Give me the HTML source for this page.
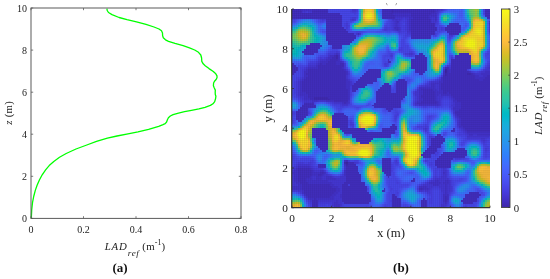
<!DOCTYPE html>
<html><head><meta charset="utf-8"><title>LAD reference profile and map</title>
<style>
html,body{margin:0;padding:0;background:#fff;}
body{width:550px;height:279px;overflow:hidden;}
svg{display:block;}
text{font-family:"Liberation Serif","Times New Roman",serif;fill:#222;}
.t1{font-size:10px;}
.t2{font-size:10.8px;}
.t3{font-size:10.8px;}
.t4{font-size:12.8px;}
.t5{font-size:11.3px;}
.cap{font-size:13px;font-weight:bold;fill:#111;}
</style></head><body>
<svg width="550" height="279" viewBox="0 0 550 279">
<rect width="550" height="279" fill="#fff"/>
<g id="left"><polyline points="106.9,8.7 107.2,10.5 108.5,12.5 112.0,14.6 119.1,17.5 127.0,19.6 136.5,21.8 146.0,24.4 154.0,27.0 159.0,29.0 161.5,30.8 162.5,33.0 162.6,35.5 163.3,37.8 165.5,39.8 168.5,41.3 175.0,43.4 183.1,45.7 189.5,47.8 194.7,50.0 198.5,52.3 200.8,55.0 201.6,58.0 201.8,61.4 203.2,63.8 205.2,65.7 209.0,68.6 213.3,71.5 215.8,73.8 217.0,75.8 217.0,77.8 216.1,79.5 214.5,81.3 213.6,83.0 213.4,85.8 214.3,88.0 215.3,90.1 215.2,92.5 215.3,94.5 215.9,96.2 215.6,98.5 214.7,101.6 213.0,103.8 210.4,105.4 205.0,107.3 198.9,108.8 191.5,110.3 184.5,111.7 178.5,113.1 173.1,114.6 170.3,116.0 168.4,117.8 167.3,120.0 166.6,122.0 165.2,123.6 163.0,124.6 158.7,126.4 148.6,129.4 138.0,131.9 128.0,133.9 117.0,136.0 107.4,138.2 96.5,141.3 86.8,145.0 76.0,149.0 66.2,153.5 59.5,157.3 53.8,161.5 49.2,165.6 45.6,169.8 42.2,174.8 39.4,180.0 37.1,185.3 35.3,190.4 33.7,196.5 32.5,202.7 31.7,210.0 31.3,218.4" fill="none" stroke="#00ff00" stroke-width="1.3" stroke-linejoin="round"/>
<rect x="31.0" y="8.0" width="210.0" height="210.4" fill="none" stroke="#5a5a5a" stroke-width="1"/>
<text x="31.0" y="232.6" text-anchor="middle" class="t1">0</text>
<text x="83.5" y="232.6" text-anchor="middle" class="t1">0.2</text>
<text x="136.0" y="232.6" text-anchor="middle" class="t1">0.4</text>
<text x="188.5" y="232.6" text-anchor="middle" class="t1">0.6</text>
<text x="241.0" y="232.6" text-anchor="middle" class="t1">0.8</text>
<text x="27.1" y="222.1" text-anchor="end" class="t1">0</text>
<text x="27.1" y="180.0" text-anchor="end" class="t1">2</text>
<text x="27.1" y="137.9" text-anchor="end" class="t1">4</text>
<text x="27.1" y="95.9" text-anchor="end" class="t1">6</text>
<text x="27.1" y="53.8" text-anchor="end" class="t1">8</text>
<text x="27.1" y="11.7" text-anchor="end" class="t1">10</text>
<path d="M31.0 218.4v-2.2M31.0 8.0v2.2M83.5 218.4v-2.2M83.5 8.0v2.2M136.0 218.4v-2.2M136.0 8.0v2.2M188.5 218.4v-2.2M188.5 8.0v2.2M241.0 218.4v-2.2M241.0 8.0v2.2M31.0 218.4h2.2M241.0 218.4h-2.2M31.0 176.3h2.2M241.0 176.3h-2.2M31.0 134.2h2.2M241.0 134.2h-2.2M31.0 92.2h2.2M241.0 92.2h-2.2M31.0 50.1h2.2M241.0 50.1h-2.2M31.0 8.0h2.2M241.0 8.0h-2.2" stroke="#5a5a5a" stroke-width="0.8" fill="none"/>
<text transform="translate(11.7,112.8) rotate(-90)" text-anchor="middle" class="t2" letter-spacing="0.3"><tspan font-style="italic">z</tspan> (m)</text>
<text x="104.7" y="250" class="t2"><tspan font-style="italic" letter-spacing="0.9">LAD</tspan><tspan font-style="italic" font-size="9.2" dy="6" letter-spacing="0.6">ref</tspan><tspan dy="-6" letter-spacing="0.2"> (m</tspan><tspan font-size="8" dy="-4.8">-1</tspan><tspan dy="4.8">)</tspan></text>
<text x="120" y="272" text-anchor="middle" class="cap">(a)</text></g>
<g id="right"><clipPath id="hc"><rect x="292.0" y="9.0" width="198.0" height="198.7"/></clipPath>
<g clip-path="url(#hc)" shape-rendering="crispEdges"><path fill="#3e26a8" d="M444.85 68.55h2.29v2.29h-2.29zM444.85 70.53h2.29v2.29h-2.29zM345.60 161.84h2.29v2.29h-2.29z"/><path fill="#402ab4" d="M391.25 9.00h2.29v2.29h-2.29zM391.25 10.98h2.29v2.29h-2.29zM335.67 54.66h2.29v2.29h-2.29zM335.67 56.64h2.29v2.29h-2.29zM444.85 72.52h2.29v2.29h-2.29zM466.68 72.52h4.27v2.29h-4.27zM444.85 74.51h2.29v2.29h-2.29zM313.83 96.34h14.20v2.29h-14.20zM313.83 98.33h16.18v2.29h-16.18zM343.61 161.84h2.29v2.29h-2.29zM345.60 163.83h2.29v2.29h-2.29z"/><path fill="#422ec0" d="M292.00 9.00h10.23v2.29h-10.23zM311.85 9.00h16.18v2.29h-16.18zM381.32 9.00h10.23v2.29h-10.23zM393.24 9.00h41.98v2.29h-41.98zM484.55 9.00h6.25v2.29h-6.25zM292.00 10.98h10.23v2.29h-10.23zM311.85 10.98h16.18v2.29h-16.18zM381.32 10.98h10.23v2.29h-10.23zM393.24 10.98h41.98v2.29h-41.98zM484.55 10.98h6.25v2.29h-6.25zM292.00 12.97h47.94v2.29h-47.94zM381.32 12.97h12.21v2.29h-12.21zM411.10 12.97h20.15v2.29h-20.15zM484.55 12.97h6.25v2.29h-6.25zM292.00 14.96h49.92v2.29h-49.92zM381.32 14.96h14.20v2.29h-14.20zM411.10 14.96h18.17v2.29h-18.17zM484.55 14.96h6.25v2.29h-6.25zM292.00 16.94h49.92v2.29h-49.92zM381.32 16.94h14.20v2.29h-14.20zM413.09 16.94h16.18v2.29h-16.18zM486.53 16.94h4.27v2.29h-4.27zM325.75 18.93h16.18v2.29h-16.18zM411.10 18.93h20.15v2.29h-20.15zM325.75 20.91h16.18v2.29h-16.18zM411.10 20.91h20.15v2.29h-20.15zM325.75 22.90h16.18v2.29h-16.18zM411.10 22.90h24.12v2.29h-24.12zM448.81 22.90h10.23v2.29h-10.23zM325.75 24.88h16.18v2.29h-16.18zM411.10 24.88h24.12v2.29h-24.12zM446.83 24.88h14.20v2.29h-14.20zM325.75 26.87h18.17v2.29h-18.17zM411.10 26.87h26.11v2.29h-26.11zM444.85 26.87h16.18v2.29h-16.18zM325.75 28.85h20.15v2.29h-20.15zM411.10 28.85h26.11v2.29h-26.11zM444.85 28.85h16.18v2.29h-16.18zM325.75 30.84h22.14v2.29h-22.14zM411.10 30.84h24.12v2.29h-24.12zM446.83 30.84h14.20v2.29h-14.20zM325.75 32.82h28.09v2.29h-28.09zM357.50 32.82h2.29v2.29h-2.29zM411.10 32.82h24.12v2.29h-24.12zM448.81 32.82h10.23v2.29h-10.23zM325.75 34.80h30.08v2.29h-30.08zM411.10 34.80h20.15v2.29h-20.15zM325.75 36.79h30.08v2.29h-30.08zM411.10 36.79h20.15v2.29h-20.15zM325.75 38.78h28.09v2.29h-28.09zM327.73 40.76h24.12v2.29h-24.12zM309.87 42.75h10.23v2.29h-10.23zM327.73 42.75h22.14v2.29h-22.14zM305.89 44.73h16.18v2.29h-16.18zM331.70 44.73h10.23v2.29h-10.23zM305.89 46.72h14.20v2.29h-14.20zM331.70 46.72h10.23v2.29h-10.23zM303.91 48.70h14.20v2.29h-14.20zM301.93 50.69h16.18v2.29h-16.18zM303.91 52.67h10.23v2.29h-10.23zM419.04 52.67h4.27v2.29h-4.27zM458.74 52.67h10.23v2.29h-10.23zM333.69 54.66h2.29v2.29h-2.29zM415.07 54.66h10.23v2.29h-10.23zM454.77 54.66h16.18v2.29h-16.18zM331.70 56.64h4.27v2.29h-4.27zM415.07 56.64h12.21v2.29h-12.21zM454.77 56.64h16.18v2.29h-16.18zM329.72 58.62h8.24v2.29h-8.24zM387.28 58.62h2.29v2.29h-2.29zM411.10 58.62h16.18v2.29h-16.18zM450.80 58.62h20.15v2.29h-20.15zM327.73 60.61h8.24v2.29h-8.24zM387.28 60.61h4.27v2.29h-4.27zM411.10 60.61h16.18v2.29h-16.18zM450.80 60.61h20.15v2.29h-20.15zM292.00 62.60h2.29v2.29h-2.29zM319.79 62.60h2.29v2.29h-2.29zM325.75 62.60h10.23v2.29h-10.23zM339.64 62.60h4.27v2.29h-4.27zM411.10 62.60h16.18v2.29h-16.18zM450.80 62.60h20.15v2.29h-20.15zM292.00 64.58h4.27v2.29h-4.27zM317.81 64.58h26.11v2.29h-26.11zM411.10 64.58h16.18v2.29h-16.18zM450.80 64.58h20.15v2.29h-20.15zM292.00 66.56h6.25v2.29h-6.25zM317.81 66.56h24.12v2.29h-24.12zM411.10 66.56h16.18v2.29h-16.18zM444.85 66.56h4.27v2.29h-4.27zM450.80 66.56h20.15v2.29h-20.15zM292.00 68.55h6.25v2.29h-6.25zM307.88 68.55h36.03v2.29h-36.03zM367.43 68.55h14.20v2.29h-14.20zM415.07 68.55h12.21v2.29h-12.21zM446.83 68.55h2.29v2.29h-2.29zM450.80 68.55h16.18v2.29h-16.18zM292.00 70.53h4.27v2.29h-4.27zM307.88 70.53h38.02v2.29h-38.02zM365.44 70.53h16.18v2.29h-16.18zM415.07 70.53h10.23v2.29h-10.23zM446.83 70.53h2.29v2.29h-2.29zM450.80 70.53h18.17v2.29h-18.17zM292.00 72.52h2.29v2.29h-2.29zM305.89 72.52h40.00v2.29h-40.00zM363.46 72.52h18.17v2.29h-18.17zM419.04 72.52h4.27v2.29h-4.27zM446.83 72.52h20.15v2.29h-20.15zM470.65 72.52h2.29v2.29h-2.29zM307.88 74.51h38.02v2.29h-38.02zM361.48 74.51h20.15v2.29h-20.15zM442.86 74.51h2.29v2.29h-2.29zM446.83 74.51h28.09v2.29h-28.09zM486.53 74.51h4.27v2.29h-4.27zM305.89 76.49h40.00v2.29h-40.00zM359.49 76.49h22.14v2.29h-22.14zM442.86 76.49h32.06v2.29h-32.06zM484.55 76.49h6.25v2.29h-6.25zM303.91 78.48h41.98v2.29h-41.98zM357.50 78.48h20.15v2.29h-20.15zM397.20 78.48h8.24v2.29h-8.24zM442.86 78.48h36.03v2.29h-36.03zM482.56 78.48h8.24v2.29h-8.24zM301.93 80.46h43.97v2.29h-43.97zM355.52 80.46h22.14v2.29h-22.14zM395.22 80.46h12.21v2.29h-12.21zM442.86 80.46h47.94v2.29h-47.94zM301.93 82.45h43.97v2.29h-43.97zM353.54 82.45h20.15v2.29h-20.15zM383.31 82.45h6.25v2.29h-6.25zM395.22 82.45h12.21v2.29h-12.21zM440.88 82.45h49.92v2.29h-49.92zM301.93 84.43h43.97v2.29h-43.97zM351.55 84.43h16.18v2.29h-16.18zM381.32 84.43h10.23v2.29h-10.23zM395.22 84.43h12.21v2.29h-12.21zM440.88 84.43h49.92v2.29h-49.92zM301.93 86.42h43.97v2.29h-43.97zM351.55 86.42h14.20v2.29h-14.20zM379.34 86.42h12.21v2.29h-12.21zM395.22 86.42h12.21v2.29h-12.21zM440.88 86.42h49.92v2.29h-49.92zM301.93 88.40h45.95v2.29h-45.95zM351.55 88.40h6.25v2.29h-6.25zM377.36 88.40h14.20v2.29h-14.20zM395.22 88.40h12.21v2.29h-12.21zM421.02 88.40h12.21v2.29h-12.21zM440.88 88.40h49.92v2.29h-49.92zM301.93 90.39h45.95v2.29h-45.95zM351.55 90.39h4.27v2.29h-4.27zM375.37 90.39h16.18v2.29h-16.18zM395.22 90.39h12.21v2.29h-12.21zM423.01 90.39h12.21v2.29h-12.21zM442.86 90.39h47.94v2.29h-47.94zM305.89 92.37h41.98v2.29h-41.98zM375.37 92.37h32.06v2.29h-32.06zM423.01 92.37h12.21v2.29h-12.21zM442.86 92.37h4.27v2.29h-4.27zM448.81 92.37h41.98v2.29h-41.98zM307.88 94.36h40.00v2.29h-40.00zM375.37 94.36h32.06v2.29h-32.06zM421.02 94.36h14.20v2.29h-14.20zM450.80 94.36h40.00v2.29h-40.00zM307.88 96.34h6.25v2.29h-6.25zM327.73 96.34h20.15v2.29h-20.15zM375.37 96.34h30.08v2.29h-30.08zM421.02 96.34h14.20v2.29h-14.20zM452.78 96.34h38.02v2.29h-38.02zM309.87 98.33h4.27v2.29h-4.27zM329.72 98.33h18.17v2.29h-18.17zM375.37 98.33h28.09v2.29h-28.09zM423.01 98.33h12.21v2.29h-12.21zM454.77 98.33h36.03v2.29h-36.03zM333.69 100.31h14.20v2.29h-14.20zM375.37 100.31h26.11v2.29h-26.11zM421.02 100.31h16.18v2.29h-16.18zM456.75 100.31h34.05v2.29h-34.05zM303.91 102.30h10.23v2.29h-10.23zM343.61 102.30h2.29v2.29h-2.29zM373.38 102.30h28.09v2.29h-28.09zM417.06 102.30h20.15v2.29h-20.15zM460.73 102.30h30.08v2.29h-30.08zM301.93 104.28h14.20v2.29h-14.20zM371.40 104.28h30.08v2.29h-30.08zM460.73 104.28h30.08v2.29h-30.08zM299.94 106.27h16.18v2.29h-16.18zM373.38 106.27h28.09v2.29h-28.09zM460.73 106.27h30.08v2.29h-30.08zM297.95 108.25h10.23v2.29h-10.23zM385.30 108.25h8.24v2.29h-8.24zM458.74 108.25h32.06v2.29h-32.06zM295.97 110.23h12.21v2.29h-12.21zM387.28 110.23h4.27v2.29h-4.27zM454.77 110.23h36.03v2.29h-36.03zM295.97 112.22h12.21v2.29h-12.21zM333.69 112.22h10.23v2.29h-10.23zM454.77 112.22h36.03v2.29h-36.03zM295.97 114.20h12.21v2.29h-12.21zM331.70 114.20h14.20v2.29h-14.20zM456.75 114.20h34.05v2.29h-34.05zM295.97 116.19h10.23v2.29h-10.23zM331.70 116.19h16.18v2.29h-16.18zM458.74 116.19h32.06v2.29h-32.06zM295.97 118.18h8.24v2.29h-8.24zM331.70 118.18h16.18v2.29h-16.18zM460.73 118.18h30.08v2.29h-30.08zM297.95 120.16h4.27v2.29h-4.27zM331.70 120.16h16.18v2.29h-16.18zM460.73 120.16h30.08v2.29h-30.08zM331.70 122.15h16.18v2.29h-16.18zM460.73 122.15h30.08v2.29h-30.08zM331.70 124.13h16.18v2.29h-16.18zM391.25 124.13h4.27v2.29h-4.27zM460.73 124.13h30.08v2.29h-30.08zM331.70 126.12h16.18v2.29h-16.18zM389.26 126.12h8.24v2.29h-8.24zM462.71 126.12h28.09v2.29h-28.09zM311.85 128.10h14.20v2.29h-14.20zM339.64 128.10h26.11v2.29h-26.11zM381.32 128.10h16.18v2.29h-16.18zM452.78 128.10h2.29v2.29h-2.29zM464.70 128.10h26.11v2.29h-26.11zM311.85 130.09h16.18v2.29h-16.18zM341.62 130.09h26.11v2.29h-26.11zM381.32 130.09h14.20v2.29h-14.20zM450.80 130.09h4.27v2.29h-4.27zM466.68 130.09h24.12v2.29h-24.12zM311.85 132.07h16.18v2.29h-16.18zM343.61 132.07h51.91v2.29h-51.91zM311.85 134.06h16.18v2.29h-16.18zM351.55 134.06h40.00v2.29h-40.00zM436.90 134.06h4.27v2.29h-4.27zM311.85 136.04h16.18v2.29h-16.18zM351.55 136.04h40.00v2.29h-40.00zM434.92 136.04h8.24v2.29h-8.24zM315.82 138.03h12.21v2.29h-12.21zM355.52 138.03h18.17v2.29h-18.17zM430.95 138.03h14.20v2.29h-14.20zM315.82 140.01h12.21v2.29h-12.21zM355.52 140.01h16.18v2.29h-16.18zM430.95 140.01h14.20v2.29h-14.20zM315.82 142.00h12.21v2.29h-12.21zM359.49 142.00h10.23v2.29h-10.23zM430.95 142.00h12.21v2.29h-12.21zM315.82 143.98h12.21v2.29h-12.21zM430.95 143.98h10.23v2.29h-10.23zM317.81 145.97h10.23v2.29h-10.23zM428.97 145.97h12.21v2.29h-12.21zM319.79 147.95h8.24v2.29h-8.24zM426.98 147.95h10.23v2.29h-10.23zM456.75 147.95h8.24v2.29h-8.24zM321.77 149.94h4.27v2.29h-4.27zM425.00 149.94h12.21v2.29h-12.21zM454.77 149.94h12.21v2.29h-12.21zM423.01 151.92h12.21v2.29h-12.21zM442.86 151.92h24.12v2.29h-24.12zM421.02 153.91h10.23v2.29h-10.23zM440.88 153.91h26.11v2.29h-26.11zM423.01 155.89h8.24v2.29h-8.24zM438.89 155.89h26.11v2.29h-26.11zM381.32 157.88h10.23v2.29h-10.23zM436.90 157.88h16.18v2.29h-16.18zM345.60 159.86h2.29v2.29h-2.29zM381.32 159.86h10.23v2.29h-10.23zM434.92 159.86h16.18v2.29h-16.18zM347.58 161.84h6.25v2.29h-6.25zM381.32 161.84h10.23v2.29h-10.23zM434.92 161.84h16.18v2.29h-16.18zM317.81 163.83h8.24v2.29h-8.24zM347.58 163.83h8.24v2.29h-8.24zM381.32 163.83h10.23v2.29h-10.23zM434.92 163.83h16.18v2.29h-16.18zM317.81 165.81h8.24v2.29h-8.24zM345.60 165.81h12.21v2.29h-12.21zM381.32 165.81h10.23v2.29h-10.23zM436.90 165.81h14.20v2.29h-14.20zM297.95 167.80h12.21v2.29h-12.21zM345.60 167.80h12.21v2.29h-12.21zM381.32 167.80h10.23v2.29h-10.23zM297.95 169.78h14.20v2.29h-14.20zM345.60 169.78h12.21v2.29h-12.21zM381.32 169.78h10.23v2.29h-10.23zM297.95 171.77h14.20v2.29h-14.20zM319.79 171.77h4.27v2.29h-4.27zM345.60 171.77h14.20v2.29h-14.20zM383.31 171.77h8.24v2.29h-8.24zM297.95 173.75h14.20v2.29h-14.20zM317.81 173.75h4.27v2.29h-4.27zM345.60 173.75h16.18v2.29h-16.18zM385.30 173.75h6.25v2.29h-6.25zM297.95 175.74h12.21v2.29h-12.21zM345.60 175.74h16.18v2.29h-16.18zM387.28 175.74h2.29v2.29h-2.29zM297.95 177.72h8.24v2.29h-8.24zM345.60 177.72h16.18v2.29h-16.18zM413.09 177.72h2.29v2.29h-2.29zM297.95 179.71h8.24v2.29h-8.24zM345.60 179.71h16.18v2.29h-16.18zM411.10 179.71h4.27v2.29h-4.27zM299.94 181.70h8.24v2.29h-8.24zM343.61 181.70h22.14v2.29h-22.14zM301.93 183.68h28.09v2.29h-28.09zM341.62 183.68h6.25v2.29h-6.25zM349.56 183.68h16.18v2.29h-16.18zM301.93 185.67h30.08v2.29h-30.08zM341.62 185.67h26.11v2.29h-26.11zM301.93 187.65h34.05v2.29h-34.05zM341.62 187.65h26.11v2.29h-26.11zM383.31 187.65h2.29v2.29h-2.29zM419.04 187.65h4.27v2.29h-4.27zM303.91 189.64h32.06v2.29h-32.06zM341.62 189.64h26.11v2.29h-26.11zM381.32 189.64h4.27v2.29h-4.27zM303.91 191.62h30.08v2.29h-30.08zM341.62 191.62h28.09v2.29h-28.09zM468.67 191.62h10.23v2.29h-10.23zM305.89 193.61h26.11v2.29h-26.11zM341.62 193.61h30.08v2.29h-30.08zM391.25 193.61h4.27v2.29h-4.27zM464.70 193.61h16.18v2.29h-16.18zM307.88 195.59h22.14v2.29h-22.14zM341.62 195.59h30.08v2.29h-30.08zM391.25 195.59h6.25v2.29h-6.25zM444.85 195.59h2.29v2.29h-2.29zM464.70 195.59h14.20v2.29h-14.20zM313.83 197.58h2.29v2.29h-2.29zM341.62 197.58h30.08v2.29h-30.08zM391.25 197.58h10.23v2.29h-10.23zM423.01 197.58h2.29v2.29h-2.29zM444.85 197.58h2.29v2.29h-2.29zM462.71 197.58h14.20v2.29h-14.20zM311.85 199.56h6.25v2.29h-6.25zM341.62 199.56h30.08v2.29h-30.08zM391.25 199.56h10.23v2.29h-10.23zM421.02 199.56h6.25v2.29h-6.25zM444.85 199.56h2.29v2.29h-2.29zM460.73 199.56h16.18v2.29h-16.18zM311.85 201.55h6.25v2.29h-6.25zM343.61 201.55h26.11v2.29h-26.11zM391.25 201.55h10.23v2.29h-10.23zM421.02 201.55h6.25v2.29h-6.25zM462.71 201.55h10.23v2.29h-10.23zM311.85 203.53h6.25v2.29h-6.25zM391.25 203.53h10.23v2.29h-10.23zM421.02 203.53h6.25v2.29h-6.25zM311.85 205.52h6.25v2.29h-6.25zM391.25 205.52h10.23v2.29h-10.23zM421.02 205.52h6.25v2.29h-6.25z"/><path fill="#4332cb" d="M301.93 9.00h10.23v2.29h-10.23zM434.92 9.00h4.27v2.29h-4.27zM434.92 10.98h2.29v2.29h-2.29zM393.24 12.97h18.17v2.29h-18.17zM430.95 12.97h6.25v2.29h-6.25zM395.22 14.96h16.18v2.29h-16.18zM428.97 14.96h8.24v2.29h-8.24zM409.12 16.94h4.27v2.29h-4.27zM428.97 16.94h2.29v2.29h-2.29zM434.92 16.94h2.29v2.29h-2.29zM395.22 18.93h2.29v2.29h-2.29zM409.12 18.93h2.29v2.29h-2.29zM434.92 18.93h2.29v2.29h-2.29zM395.22 20.91h4.27v2.29h-4.27zM409.12 20.91h2.29v2.29h-2.29zM395.22 22.90h2.29v2.29h-2.29zM409.12 22.90h2.29v2.29h-2.29zM488.51 22.90h2.29v2.29h-2.29zM395.22 24.88h2.29v2.29h-2.29zM409.12 24.88h2.29v2.29h-2.29zM393.24 26.87h6.25v2.29h-6.25zM409.12 26.87h2.29v2.29h-2.29zM395.22 28.85h4.27v2.29h-4.27zM409.12 28.85h2.29v2.29h-2.29zM335.67 52.67h2.29v2.29h-2.29zM329.72 54.66h4.27v2.29h-4.27zM337.65 54.66h2.29v2.29h-2.29zM327.73 56.64h4.27v2.29h-4.27zM337.65 56.64h2.29v2.29h-2.29zM325.75 58.62h4.27v2.29h-4.27zM337.65 58.62h2.29v2.29h-2.29zM319.79 60.61h8.24v2.29h-8.24zM335.67 60.61h6.25v2.29h-6.25zM317.81 62.60h2.29v2.29h-2.29zM321.77 62.60h4.27v2.29h-4.27zM335.67 62.60h4.27v2.29h-4.27zM315.82 64.58h2.29v2.29h-2.29zM307.88 66.56h10.23v2.29h-10.23zM341.62 66.56h2.29v2.29h-2.29zM488.51 66.56h2.29v2.29h-2.29zM305.89 68.55h2.29v2.29h-2.29zM343.61 68.55h2.29v2.29h-2.29zM448.81 68.55h2.29v2.29h-2.29zM303.91 70.53h4.27v2.29h-4.27zM345.60 70.53h2.29v2.29h-2.29zM442.86 70.53h2.29v2.29h-2.29zM448.81 70.53h2.29v2.29h-2.29zM468.67 70.53h2.29v2.29h-2.29zM484.55 70.53h6.25v2.29h-6.25zM303.91 72.52h2.29v2.29h-2.29zM345.60 72.52h2.29v2.29h-2.29zM442.86 72.52h2.29v2.29h-2.29zM472.63 72.52h2.29v2.29h-2.29zM480.58 72.52h10.23v2.29h-10.23zM303.91 74.51h4.27v2.29h-4.27zM474.62 74.51h4.27v2.29h-4.27zM482.56 74.51h4.27v2.29h-4.27zM303.91 76.49h2.29v2.29h-2.29zM440.88 76.49h2.29v2.29h-2.29zM474.62 76.49h10.23v2.29h-10.23zM301.93 78.48h2.29v2.29h-2.29zM345.60 78.48h2.29v2.29h-2.29zM440.88 78.48h2.29v2.29h-2.29zM478.59 78.48h4.27v2.29h-4.27zM299.94 80.46h2.29v2.29h-2.29zM345.60 80.46h4.27v2.29h-4.27zM438.89 80.46h4.27v2.29h-4.27zM299.94 82.45h2.29v2.29h-2.29zM345.60 82.45h4.27v2.29h-4.27zM430.95 82.45h10.23v2.29h-10.23zM299.94 84.43h2.29v2.29h-2.29zM345.60 84.43h4.27v2.29h-4.27zM430.95 84.43h4.27v2.29h-4.27zM438.89 84.43h2.29v2.29h-2.29zM299.94 86.42h2.29v2.29h-2.29zM345.60 86.42h4.27v2.29h-4.27zM419.04 86.42h16.18v2.29h-16.18zM438.89 86.42h2.29v2.29h-2.29zM299.94 88.40h2.29v2.29h-2.29zM347.58 88.40h2.29v2.29h-2.29zM419.04 88.40h2.29v2.29h-2.29zM432.94 88.40h4.27v2.29h-4.27zM438.89 88.40h2.29v2.29h-2.29zM299.94 90.39h2.29v2.29h-2.29zM347.58 90.39h2.29v2.29h-2.29zM419.04 90.39h4.27v2.29h-4.27zM434.92 90.39h8.24v2.29h-8.24zM299.94 92.37h6.25v2.29h-6.25zM347.58 92.37h2.29v2.29h-2.29zM419.04 92.37h4.27v2.29h-4.27zM434.92 92.37h8.24v2.29h-8.24zM446.83 92.37h2.29v2.29h-2.29zM299.94 94.36h8.24v2.29h-8.24zM347.58 94.36h2.29v2.29h-2.29zM419.04 94.36h2.29v2.29h-2.29zM434.92 94.36h4.27v2.29h-4.27zM440.88 94.36h10.23v2.29h-10.23zM303.91 96.34h4.27v2.29h-4.27zM347.58 96.34h2.29v2.29h-2.29zM419.04 96.34h2.29v2.29h-2.29zM434.92 96.34h2.29v2.29h-2.29zM450.80 96.34h2.29v2.29h-2.29zM303.91 98.33h6.25v2.29h-6.25zM347.58 98.33h2.29v2.29h-2.29zM419.04 98.33h4.27v2.29h-4.27zM434.92 98.33h2.29v2.29h-2.29zM452.78 98.33h2.29v2.29h-2.29zM311.85 100.31h6.25v2.29h-6.25zM325.75 100.31h8.24v2.29h-8.24zM417.06 100.31h4.27v2.29h-4.27zM436.90 100.31h2.29v2.29h-2.29zM452.78 100.31h4.27v2.29h-4.27zM341.62 102.30h2.29v2.29h-2.29zM345.60 102.30h2.29v2.29h-2.29zM415.07 102.30h2.29v2.29h-2.29zM436.90 102.30h2.29v2.29h-2.29zM454.77 102.30h6.25v2.29h-6.25zM419.04 104.28h20.15v2.29h-20.15zM454.77 104.28h6.25v2.29h-6.25zM452.78 106.27h8.24v2.29h-8.24zM452.78 108.25h6.25v2.29h-6.25zM454.77 114.20h2.29v2.29h-2.29zM456.75 116.19h2.29v2.29h-2.29zM458.74 118.18h2.29v2.29h-2.29zM458.74 120.16h2.29v2.29h-2.29zM458.74 122.15h2.29v2.29h-2.29zM458.74 124.13h2.29v2.29h-2.29zM458.74 126.12h4.27v2.29h-4.27zM462.71 128.10h2.29v2.29h-2.29zM464.70 130.09h2.29v2.29h-2.29zM466.68 132.07h24.12v2.29h-24.12zM468.67 134.06h4.27v2.29h-4.27zM476.61 134.06h14.20v2.29h-14.20zM343.61 159.86h2.29v2.29h-2.29zM343.61 163.83h2.29v2.29h-2.29zM297.95 165.81h12.21v2.29h-12.21zM295.97 167.80h2.29v2.29h-2.29zM309.87 167.80h2.29v2.29h-2.29zM293.99 169.78h4.27v2.29h-4.27zM311.85 169.78h2.29v2.29h-2.29zM319.79 169.78h4.27v2.29h-4.27zM343.61 169.78h2.29v2.29h-2.29zM292.00 171.77h6.25v2.29h-6.25zM311.85 171.77h8.24v2.29h-8.24zM323.76 171.77h2.29v2.29h-2.29zM343.61 171.77h2.29v2.29h-2.29zM442.86 171.77h2.29v2.29h-2.29zM293.99 173.75h4.27v2.29h-4.27zM311.85 173.75h6.25v2.29h-6.25zM321.77 173.75h2.29v2.29h-2.29zM343.61 173.75h2.29v2.29h-2.29zM293.99 175.74h4.27v2.29h-4.27zM309.87 175.74h2.29v2.29h-2.29zM315.82 175.74h6.25v2.29h-6.25zM325.75 175.74h6.25v2.29h-6.25zM293.99 177.72h4.27v2.29h-4.27zM305.89 177.72h6.25v2.29h-6.25zM315.82 177.72h6.25v2.29h-6.25zM325.75 177.72h10.23v2.29h-10.23zM293.99 179.71h4.27v2.29h-4.27zM305.89 179.71h22.14v2.29h-22.14zM434.92 179.71h4.27v2.29h-4.27zM444.85 179.71h4.27v2.29h-4.27zM295.97 181.70h4.27v2.29h-4.27zM307.88 181.70h24.12v2.29h-24.12zM428.97 181.70h12.21v2.29h-12.21zM442.86 181.70h6.25v2.29h-6.25zM297.95 183.68h4.27v2.29h-4.27zM329.72 183.68h4.27v2.29h-4.27zM432.94 183.68h6.25v2.29h-6.25zM444.85 183.68h2.29v2.29h-2.29zM292.00 185.67h10.23v2.29h-10.23zM331.70 185.67h6.25v2.29h-6.25zM419.04 185.67h8.24v2.29h-8.24zM444.85 185.67h2.29v2.29h-2.29zM292.00 187.65h10.23v2.29h-10.23zM335.67 187.65h4.27v2.29h-4.27zM423.01 187.65h6.25v2.29h-6.25zM444.85 187.65h2.29v2.29h-2.29zM301.93 189.64h2.29v2.29h-2.29zM335.67 189.64h4.27v2.29h-4.27zM444.85 189.64h2.29v2.29h-2.29zM301.93 191.62h2.29v2.29h-2.29zM333.69 191.62h4.27v2.29h-4.27zM444.85 191.62h2.29v2.29h-2.29zM303.91 193.61h2.29v2.29h-2.29zM331.70 193.61h4.27v2.29h-4.27zM339.64 193.61h2.29v2.29h-2.29zM442.86 193.61h6.25v2.29h-6.25zM305.89 195.59h2.29v2.29h-2.29zM329.72 195.59h4.27v2.29h-4.27zM339.64 195.59h2.29v2.29h-2.29zM442.86 195.59h2.29v2.29h-2.29zM446.83 195.59h2.29v2.29h-2.29zM307.88 197.58h6.25v2.29h-6.25zM315.82 197.58h18.17v2.29h-18.17zM442.86 197.58h2.29v2.29h-2.29zM446.83 197.58h2.29v2.29h-2.29zM335.67 199.56h2.29v2.29h-2.29zM442.86 199.56h2.29v2.29h-2.29zM333.69 201.55h4.27v2.29h-4.27zM444.85 201.55h2.29v2.29h-2.29zM333.69 203.53h6.25v2.29h-6.25zM333.69 205.52h6.25v2.29h-6.25z"/><path fill="#4537d5" d="M351.55 9.00h4.27v2.29h-4.27zM438.89 9.00h4.27v2.29h-4.27zM301.93 10.98h4.27v2.29h-4.27zM307.88 10.98h4.27v2.29h-4.27zM436.90 10.98h2.29v2.29h-2.29zM395.22 16.94h8.24v2.29h-8.24zM405.14 16.94h4.27v2.29h-4.27zM430.95 16.94h4.27v2.29h-4.27zM351.55 18.93h2.29v2.29h-2.29zM391.25 18.93h4.27v2.29h-4.27zM397.20 18.93h4.27v2.29h-4.27zM407.13 18.93h2.29v2.29h-2.29zM430.95 18.93h4.27v2.29h-4.27zM393.24 20.91h2.29v2.29h-2.29zM407.13 20.91h2.29v2.29h-2.29zM430.95 20.91h6.25v2.29h-6.25zM488.51 20.91h2.29v2.29h-2.29zM393.24 22.90h2.29v2.29h-2.29zM397.20 22.90h2.29v2.29h-2.29zM407.13 22.90h2.29v2.29h-2.29zM393.24 24.88h2.29v2.29h-2.29zM397.20 24.88h2.29v2.29h-2.29zM407.13 24.88h2.29v2.29h-2.29zM488.51 24.88h2.29v2.29h-2.29zM399.19 26.87h2.29v2.29h-2.29zM407.13 26.87h2.29v2.29h-2.29zM488.51 26.87h2.29v2.29h-2.29zM393.24 28.85h2.29v2.29h-2.29zM399.19 28.85h2.29v2.29h-2.29zM407.13 28.85h2.29v2.29h-2.29zM488.51 28.85h2.29v2.29h-2.29zM407.13 30.84h4.27v2.29h-4.27zM355.52 32.82h2.29v2.29h-2.29zM359.49 32.82h2.29v2.29h-2.29zM333.69 52.67h2.29v2.29h-2.29zM337.65 52.67h2.29v2.29h-2.29zM409.12 52.67h4.27v2.29h-4.27zM327.73 54.66h2.29v2.29h-2.29zM325.75 56.64h2.29v2.29h-2.29zM319.79 58.62h6.25v2.29h-6.25zM317.81 60.61h2.29v2.29h-2.29zM341.62 60.61h2.29v2.29h-2.29zM315.82 62.60h2.29v2.29h-2.29zM307.88 64.58h8.24v2.29h-8.24zM488.51 64.58h2.29v2.29h-2.29zM305.89 66.56h2.29v2.29h-2.29zM448.81 66.56h2.29v2.29h-2.29zM486.53 66.56h2.29v2.29h-2.29zM303.91 68.55h2.29v2.29h-2.29zM442.86 68.55h2.29v2.29h-2.29zM484.55 68.55h6.25v2.29h-6.25zM480.58 70.53h4.27v2.29h-4.27zM474.62 72.52h6.25v2.29h-6.25zM345.60 74.51h2.29v2.29h-2.29zM478.59 74.51h4.27v2.29h-4.27zM301.93 76.49h2.29v2.29h-2.29zM345.60 76.49h2.29v2.29h-2.29zM299.94 78.48h2.29v2.29h-2.29zM347.58 78.48h2.29v2.29h-2.29zM438.89 78.48h2.29v2.29h-2.29zM297.95 80.46h2.29v2.29h-2.29zM349.56 80.46h2.29v2.29h-2.29zM430.95 80.46h8.24v2.29h-8.24zM297.95 82.45h2.29v2.29h-2.29zM349.56 82.45h2.29v2.29h-2.29zM428.97 82.45h2.29v2.29h-2.29zM297.95 84.43h2.29v2.29h-2.29zM349.56 84.43h2.29v2.29h-2.29zM425.00 84.43h6.25v2.29h-6.25zM434.92 84.43h4.27v2.29h-4.27zM297.95 86.42h2.29v2.29h-2.29zM434.92 86.42h4.27v2.29h-4.27zM297.95 88.40h2.29v2.29h-2.29zM417.06 88.40h2.29v2.29h-2.29zM436.90 88.40h2.29v2.29h-2.29zM297.95 90.39h2.29v2.29h-2.29zM415.07 90.39h4.27v2.29h-4.27zM297.95 92.37h2.29v2.29h-2.29zM415.07 92.37h4.27v2.29h-4.27zM297.95 94.36h2.29v2.29h-2.29zM415.07 94.36h4.27v2.29h-4.27zM438.89 94.36h2.29v2.29h-2.29zM299.94 96.34h4.27v2.29h-4.27zM417.06 96.34h2.29v2.29h-2.29zM436.90 96.34h6.25v2.29h-6.25zM448.81 96.34h2.29v2.29h-2.29zM301.93 98.33h2.29v2.29h-2.29zM417.06 98.33h2.29v2.29h-2.29zM436.90 98.33h4.27v2.29h-4.27zM450.80 98.33h2.29v2.29h-2.29zM303.91 100.31h8.24v2.29h-8.24zM317.81 100.31h8.24v2.29h-8.24zM347.58 100.31h2.29v2.29h-2.29zM415.07 100.31h2.29v2.29h-2.29zM438.89 100.31h2.29v2.29h-2.29zM333.69 102.30h8.24v2.29h-8.24zM347.58 102.30h2.29v2.29h-2.29zM438.89 102.30h2.29v2.29h-2.29zM452.78 102.30h2.29v2.29h-2.29zM341.62 104.28h6.25v2.29h-6.25zM415.07 104.28h4.27v2.29h-4.27zM438.89 104.28h2.29v2.29h-2.29zM450.80 104.28h4.27v2.29h-4.27zM452.78 110.23h2.29v2.29h-2.29zM452.78 112.22h2.29v2.29h-2.29zM454.77 116.19h2.29v2.29h-2.29zM456.75 118.18h2.29v2.29h-2.29zM456.75 120.16h2.29v2.29h-2.29zM456.75 122.15h2.29v2.29h-2.29zM456.75 124.13h2.29v2.29h-2.29zM425.00 128.10h2.29v2.29h-2.29zM460.73 128.10h2.29v2.29h-2.29zM462.71 130.09h2.29v2.29h-2.29zM464.70 132.07h2.29v2.29h-2.29zM466.68 134.06h2.29v2.29h-2.29zM472.63 134.06h4.27v2.29h-4.27zM466.68 136.04h22.14v2.29h-22.14zM480.58 138.03h4.27v2.29h-4.27zM482.56 140.01h2.29v2.29h-2.29zM395.22 159.86h2.29v2.29h-2.29zM353.54 161.84h2.29v2.29h-2.29zM297.95 163.83h12.21v2.29h-12.21zM295.97 165.81h2.29v2.29h-2.29zM309.87 165.81h2.29v2.29h-2.29zM343.61 165.81h2.29v2.29h-2.29zM293.99 167.80h2.29v2.29h-2.29zM311.85 167.80h2.29v2.29h-2.29zM343.61 167.80h2.29v2.29h-2.29zM442.86 167.80h2.29v2.29h-2.29zM292.00 169.78h2.29v2.29h-2.29zM313.83 169.78h6.25v2.29h-6.25zM442.86 169.78h4.27v2.29h-4.27zM444.85 171.77h2.29v2.29h-2.29zM292.00 173.75h2.29v2.29h-2.29zM323.76 173.75h4.27v2.29h-4.27zM442.86 173.75h4.27v2.29h-4.27zM292.00 175.74h2.29v2.29h-2.29zM311.85 175.74h4.27v2.29h-4.27zM321.77 175.74h4.27v2.29h-4.27zM331.70 175.74h2.29v2.29h-2.29zM339.64 175.74h6.25v2.29h-6.25zM440.88 175.74h6.25v2.29h-6.25zM292.00 177.72h2.29v2.29h-2.29zM311.85 177.72h4.27v2.29h-4.27zM321.77 177.72h4.27v2.29h-4.27zM335.67 177.72h10.23v2.29h-10.23zM434.92 177.72h14.20v2.29h-14.20zM292.00 179.71h2.29v2.29h-2.29zM327.73 179.71h18.17v2.29h-18.17zM430.95 179.71h4.27v2.29h-4.27zM438.89 179.71h6.25v2.29h-6.25zM448.81 179.71h2.29v2.29h-2.29zM292.00 181.70h4.27v2.29h-4.27zM331.70 181.70h12.21v2.29h-12.21zM426.98 181.70h2.29v2.29h-2.29zM440.88 181.70h2.29v2.29h-2.29zM448.81 181.70h2.29v2.29h-2.29zM292.00 183.68h6.25v2.29h-6.25zM333.69 183.68h8.24v2.29h-8.24zM423.01 183.68h10.23v2.29h-10.23zM438.89 183.68h6.25v2.29h-6.25zM446.83 183.68h4.27v2.29h-4.27zM337.65 185.67h4.27v2.29h-4.27zM426.98 185.67h6.25v2.29h-6.25zM438.89 185.67h6.25v2.29h-6.25zM446.83 185.67h4.27v2.29h-4.27zM339.64 187.65h2.29v2.29h-2.29zM428.97 187.65h2.29v2.29h-2.29zM440.88 187.65h4.27v2.29h-4.27zM446.83 187.65h4.27v2.29h-4.27zM297.95 189.64h4.27v2.29h-4.27zM339.64 189.64h2.29v2.29h-2.29zM419.04 189.64h4.27v2.29h-4.27zM425.00 189.64h4.27v2.29h-4.27zM440.88 189.64h4.27v2.29h-4.27zM446.83 189.64h4.27v2.29h-4.27zM337.65 191.62h4.27v2.29h-4.27zM442.86 191.62h2.29v2.29h-2.29zM446.83 191.62h2.29v2.29h-2.29zM335.67 193.61h4.27v2.29h-4.27zM333.69 195.59h6.25v2.29h-6.25zM333.69 197.58h8.24v2.29h-8.24zM309.87 199.56h2.29v2.29h-2.29zM317.81 199.56h18.17v2.29h-18.17zM337.65 199.56h4.27v2.29h-4.27zM446.83 199.56h2.29v2.29h-2.29zM331.70 201.55h2.29v2.29h-2.29zM337.65 201.55h4.27v2.29h-4.27zM442.86 201.55h2.29v2.29h-2.29zM331.70 203.53h2.29v2.29h-2.29zM339.64 203.53h2.29v2.29h-2.29zM440.88 203.53h6.25v2.29h-6.25zM440.88 205.52h4.27v2.29h-4.27z"/><path fill="#463cde" d="M355.52 9.00h2.29v2.29h-2.29zM305.89 10.98h2.29v2.29h-2.29zM351.55 10.98h4.27v2.29h-4.27zM436.90 12.97h2.29v2.29h-2.29zM351.55 16.94h4.27v2.29h-4.27zM403.16 16.94h2.29v2.29h-2.29zM321.77 18.93h2.29v2.29h-2.29zM349.56 18.93h2.29v2.29h-2.29zM353.54 18.93h2.29v2.29h-2.29zM401.18 18.93h2.29v2.29h-2.29zM405.14 18.93h2.29v2.29h-2.29zM391.25 20.91h2.29v2.29h-2.29zM399.19 20.91h2.29v2.29h-2.29zM405.14 20.91h2.29v2.29h-2.29zM345.60 22.90h2.29v2.29h-2.29zM391.25 22.90h2.29v2.29h-2.29zM399.19 22.90h2.29v2.29h-2.29zM405.14 22.90h2.29v2.29h-2.29zM434.92 22.90h2.29v2.29h-2.29zM345.60 24.88h2.29v2.29h-2.29zM391.25 24.88h2.29v2.29h-2.29zM399.19 24.88h2.29v2.29h-2.29zM405.14 24.88h2.29v2.29h-2.29zM345.60 26.87h2.29v2.29h-2.29zM385.30 26.87h2.29v2.29h-2.29zM391.25 26.87h2.29v2.29h-2.29zM405.14 26.87h2.29v2.29h-2.29zM440.88 26.87h2.29v2.29h-2.29zM383.31 28.85h4.27v2.29h-4.27zM391.25 28.85h2.29v2.29h-2.29zM405.14 28.85h2.29v2.29h-2.29zM440.88 28.85h2.29v2.29h-2.29zM397.20 30.84h4.27v2.29h-4.27zM488.51 30.84h2.29v2.29h-2.29zM407.13 32.82h4.27v2.29h-4.27zM448.81 34.80h4.27v2.29h-4.27zM335.67 50.69h2.29v2.29h-2.29zM327.73 52.67h6.25v2.29h-6.25zM405.14 52.67h4.27v2.29h-4.27zM389.26 54.66h4.27v2.29h-4.27zM319.79 56.64h2.29v2.29h-2.29zM323.76 56.64h2.29v2.29h-2.29zM450.80 56.64h2.29v2.29h-2.29zM317.81 58.62h2.29v2.29h-2.29zM315.82 60.61h2.29v2.29h-2.29zM307.88 62.60h8.24v2.29h-8.24zM343.61 62.60h2.29v2.29h-2.29zM383.31 62.60h4.27v2.29h-4.27zM488.51 62.60h2.29v2.29h-2.29zM343.61 64.58h2.29v2.29h-2.29zM385.30 64.58h2.29v2.29h-2.29zM446.83 64.58h4.27v2.29h-4.27zM486.53 64.58h2.29v2.29h-2.29zM303.91 66.56h2.29v2.29h-2.29zM343.61 66.56h2.29v2.29h-2.29zM484.55 66.56h2.29v2.29h-2.29zM301.93 68.55h2.29v2.29h-2.29zM345.60 68.55h2.29v2.29h-2.29zM482.56 68.55h2.29v2.29h-2.29zM301.93 70.53h2.29v2.29h-2.29zM470.65 70.53h2.29v2.29h-2.29zM478.59 70.53h2.29v2.29h-2.29zM301.93 72.52h2.29v2.29h-2.29zM347.58 72.52h2.29v2.29h-2.29zM301.93 74.51h2.29v2.29h-2.29zM299.94 76.49h2.29v2.29h-2.29zM297.95 78.48h2.29v2.29h-2.29zM436.90 78.48h2.29v2.29h-2.29zM295.97 80.46h2.29v2.29h-2.29zM428.97 80.46h2.29v2.29h-2.29zM295.97 82.45h2.29v2.29h-2.29zM351.55 82.45h2.29v2.29h-2.29zM426.98 82.45h2.29v2.29h-2.29zM295.97 84.43h2.29v2.29h-2.29zM421.02 84.43h4.27v2.29h-4.27zM295.97 86.42h2.29v2.29h-2.29zM349.56 86.42h2.29v2.29h-2.29zM295.97 88.40h2.29v2.29h-2.29zM349.56 88.40h2.29v2.29h-2.29zM295.97 90.39h2.29v2.29h-2.29zM295.97 92.37h2.29v2.29h-2.29zM413.09 92.37h2.29v2.29h-2.29zM295.97 94.36h2.29v2.29h-2.29zM297.95 96.34h2.29v2.29h-2.29zM415.07 96.34h2.29v2.29h-2.29zM442.86 96.34h6.25v2.29h-6.25zM299.94 98.33h2.29v2.29h-2.29zM415.07 98.33h2.29v2.29h-2.29zM440.88 98.33h2.29v2.29h-2.29zM448.81 98.33h2.29v2.29h-2.29zM301.93 100.31h2.29v2.29h-2.29zM450.80 100.31h2.29v2.29h-2.29zM331.70 102.30h2.29v2.29h-2.29zM413.09 102.30h2.29v2.29h-2.29zM450.80 102.30h2.29v2.29h-2.29zM339.64 104.28h2.29v2.29h-2.29zM450.80 106.27h2.29v2.29h-2.29zM450.80 108.25h2.29v2.29h-2.29zM292.00 112.22h2.29v2.29h-2.29zM307.88 112.22h2.29v2.29h-2.29zM395.22 114.20h2.29v2.29h-2.29zM395.22 116.19h2.29v2.29h-2.29zM349.56 122.15h2.29v2.29h-2.29zM349.56 124.13h4.27v2.29h-4.27zM425.00 126.12h2.29v2.29h-2.29zM456.75 126.12h2.29v2.29h-2.29zM423.01 128.10h2.29v2.29h-2.29zM458.74 128.10h2.29v2.29h-2.29zM425.00 130.09h2.29v2.29h-2.29zM460.73 130.09h2.29v2.29h-2.29zM462.71 132.07h2.29v2.29h-2.29zM464.70 134.06h2.29v2.29h-2.29zM428.97 136.04h4.27v2.29h-4.27zM488.51 136.04h2.29v2.29h-2.29zM466.68 138.03h14.20v2.29h-14.20zM484.55 138.03h2.29v2.29h-2.29zM480.58 140.01h2.29v2.29h-2.29zM484.55 140.01h2.29v2.29h-2.29zM482.56 142.00h2.29v2.29h-2.29zM484.55 147.95h2.29v2.29h-2.29zM484.55 149.94h2.29v2.29h-2.29zM454.77 157.88h6.25v2.29h-6.25zM347.58 159.86h2.29v2.29h-2.29zM425.00 159.86h2.29v2.29h-2.29zM297.95 161.84h6.25v2.29h-6.25zM307.88 161.84h4.27v2.29h-4.27zM355.52 161.84h2.29v2.29h-2.29zM395.22 161.84h2.29v2.29h-2.29zM295.97 163.83h2.29v2.29h-2.29zM309.87 163.83h2.29v2.29h-2.29zM293.99 165.81h2.29v2.29h-2.29zM311.85 165.81h2.29v2.29h-2.29zM292.00 167.80h2.29v2.29h-2.29zM313.83 167.80h8.24v2.29h-8.24zM440.88 167.80h2.29v2.29h-2.29zM444.85 167.80h2.29v2.29h-2.29zM323.76 169.78h2.29v2.29h-2.29zM440.88 169.78h2.29v2.29h-2.29zM440.88 171.77h2.29v2.29h-2.29zM327.73 173.75h2.29v2.29h-2.29zM341.62 173.75h2.29v2.29h-2.29zM440.88 173.75h2.29v2.29h-2.29zM333.69 175.74h6.25v2.29h-6.25zM434.92 175.74h2.29v2.29h-2.29zM438.89 175.74h2.29v2.29h-2.29zM432.94 177.72h2.29v2.29h-2.29zM428.97 179.71h2.29v2.29h-2.29zM425.00 181.70h2.29v2.29h-2.29zM421.02 183.68h2.29v2.29h-2.29zM432.94 185.67h6.25v2.29h-6.25zM450.80 185.67h2.29v2.29h-2.29zM417.06 187.65h2.29v2.29h-2.29zM430.95 187.65h2.29v2.29h-2.29zM438.89 187.65h2.29v2.29h-2.29zM450.80 187.65h2.29v2.29h-2.29zM292.00 189.64h6.25v2.29h-6.25zM423.01 189.64h2.29v2.29h-2.29zM428.97 189.64h2.29v2.29h-2.29zM450.80 189.64h2.29v2.29h-2.29zM299.94 191.62h2.29v2.29h-2.29zM426.98 191.62h4.27v2.29h-4.27zM440.88 191.62h2.29v2.29h-2.29zM448.81 191.62h2.29v2.29h-2.29zM440.88 193.61h2.29v2.29h-2.29zM303.91 195.59h2.29v2.29h-2.29zM440.88 195.59h2.29v2.29h-2.29zM305.89 197.58h2.29v2.29h-2.29zM440.88 197.58h2.29v2.29h-2.29zM307.88 199.56h2.29v2.29h-2.29zM440.88 199.56h2.29v2.29h-2.29zM309.87 201.55h2.29v2.29h-2.29zM317.81 201.55h14.20v2.29h-14.20zM341.62 201.55h2.29v2.29h-2.29zM440.88 201.55h2.29v2.29h-2.29zM446.83 201.55h2.29v2.29h-2.29zM331.70 205.52h2.29v2.29h-2.29zM339.64 205.52h2.29v2.29h-2.29zM444.85 205.52h2.29v2.29h-2.29zM464.70 205.52h2.29v2.29h-2.29z"/><path fill="#4741e5" d="M349.56 9.00h2.29v2.29h-2.29zM442.86 9.00h2.29v2.29h-2.29zM349.56 10.98h2.29v2.29h-2.29zM355.52 10.98h2.29v2.29h-2.29zM438.89 10.98h2.29v2.29h-2.29zM353.54 12.97h2.29v2.29h-2.29zM436.90 14.96h2.29v2.29h-2.29zM349.56 16.94h2.29v2.29h-2.29zM436.90 16.94h2.29v2.29h-2.29zM319.79 18.93h2.29v2.29h-2.29zM323.76 18.93h2.29v2.29h-2.29zM389.26 18.93h2.29v2.29h-2.29zM403.16 18.93h2.29v2.29h-2.29zM436.90 18.93h2.29v2.29h-2.29zM345.60 20.91h2.29v2.29h-2.29zM389.26 20.91h2.29v2.29h-2.29zM401.18 20.91h4.27v2.29h-4.27zM436.90 20.91h2.29v2.29h-2.29zM343.61 22.90h2.29v2.29h-2.29zM389.26 22.90h2.29v2.29h-2.29zM401.18 22.90h2.29v2.29h-2.29zM436.90 22.90h2.29v2.29h-2.29zM343.61 24.88h2.29v2.29h-2.29zM347.58 24.88h2.29v2.29h-2.29zM385.30 24.88h2.29v2.29h-2.29zM389.26 24.88h2.29v2.29h-2.29zM401.18 24.88h4.27v2.29h-4.27zM434.92 24.88h2.29v2.29h-2.29zM383.31 26.87h2.29v2.29h-2.29zM387.28 26.87h4.27v2.29h-4.27zM401.18 26.87h4.27v2.29h-4.27zM438.89 26.87h2.29v2.29h-2.29zM442.86 26.87h2.29v2.29h-2.29zM345.60 28.85h2.29v2.29h-2.29zM387.28 28.85h4.27v2.29h-4.27zM401.18 28.85h4.27v2.29h-4.27zM438.89 28.85h2.29v2.29h-2.29zM442.86 28.85h2.29v2.29h-2.29zM355.52 30.84h6.25v2.29h-6.25zM401.18 30.84h6.25v2.29h-6.25zM353.54 32.82h2.29v2.29h-2.29zM405.14 32.82h2.29v2.29h-2.29zM434.92 32.82h2.29v2.29h-2.29zM357.50 34.80h2.29v2.29h-2.29zM405.14 34.80h4.27v2.29h-4.27zM448.81 36.79h2.29v2.29h-2.29zM401.18 46.72h2.29v2.29h-2.29zM399.19 48.70h4.27v2.29h-4.27zM329.72 50.69h6.25v2.29h-6.25zM337.65 50.69h2.29v2.29h-2.29zM409.12 50.69h4.27v2.29h-4.27zM389.26 52.67h4.27v2.29h-4.27zM413.09 52.67h2.29v2.29h-2.29zM486.53 52.67h2.29v2.29h-2.29zM325.75 54.66h2.29v2.29h-2.29zM409.12 54.66h4.27v2.29h-4.27zM317.81 56.64h2.29v2.29h-2.29zM321.77 56.64h2.29v2.29h-2.29zM339.64 58.62h2.29v2.29h-2.29zM309.87 60.61h6.25v2.29h-6.25zM488.51 60.61h2.29v2.29h-2.29zM387.28 62.60h2.29v2.29h-2.29zM486.53 62.60h2.29v2.29h-2.29zM305.89 64.58h2.29v2.29h-2.29zM383.31 64.58h2.29v2.29h-2.29zM299.94 66.56h4.27v2.29h-4.27zM442.86 66.56h2.29v2.29h-2.29zM299.94 68.55h2.29v2.29h-2.29zM466.68 68.55h2.29v2.29h-2.29zM299.94 70.53h2.29v2.29h-2.29zM347.58 70.53h2.29v2.29h-2.29zM472.63 70.53h2.29v2.29h-2.29zM476.61 70.53h2.29v2.29h-2.29zM299.94 72.52h2.29v2.29h-2.29zM299.94 74.51h2.29v2.29h-2.29zM347.58 74.51h2.29v2.29h-2.29zM440.88 74.51h2.29v2.29h-2.29zM295.97 76.49h4.27v2.29h-4.27zM347.58 76.49h2.29v2.29h-2.29zM438.89 76.49h2.29v2.29h-2.29zM295.97 78.48h2.29v2.29h-2.29zM349.56 78.48h2.29v2.29h-2.29zM434.92 78.48h2.29v2.29h-2.29zM293.99 80.46h2.29v2.29h-2.29zM351.55 80.46h2.29v2.29h-2.29zM293.99 82.45h2.29v2.29h-2.29zM425.00 82.45h2.29v2.29h-2.29zM293.99 84.43h2.29v2.29h-2.29zM419.04 84.43h2.29v2.29h-2.29zM293.99 86.42h2.29v2.29h-2.29zM417.06 86.42h2.29v2.29h-2.29zM293.99 88.40h2.29v2.29h-2.29zM293.99 90.39h2.29v2.29h-2.29zM349.56 90.39h2.29v2.29h-2.29zM413.09 90.39h2.29v2.29h-2.29zM293.99 92.37h2.29v2.29h-2.29zM349.56 92.37h2.29v2.29h-2.29zM349.56 94.36h2.29v2.29h-2.29zM413.09 94.36h2.29v2.29h-2.29zM295.97 96.34h2.29v2.29h-2.29zM297.95 98.33h2.29v2.29h-2.29zM442.86 98.33h6.25v2.29h-6.25zM299.94 100.31h2.29v2.29h-2.29zM413.09 100.31h2.29v2.29h-2.29zM440.88 100.31h2.29v2.29h-2.29zM448.81 100.31h2.29v2.29h-2.29zM301.93 102.30h2.29v2.29h-2.29zM329.72 102.30h2.29v2.29h-2.29zM440.88 102.30h2.29v2.29h-2.29zM448.81 102.30h2.29v2.29h-2.29zM333.69 104.28h6.25v2.29h-6.25zM347.58 104.28h2.29v2.29h-2.29zM413.09 104.28h2.29v2.29h-2.29zM440.88 104.28h2.29v2.29h-2.29zM448.81 104.28h2.29v2.29h-2.29zM339.64 106.27h4.27v2.29h-4.27zM355.52 106.27h4.27v2.29h-4.27zM423.01 106.27h4.27v2.29h-4.27zM434.92 106.27h4.27v2.29h-4.27zM448.81 106.27h2.29v2.29h-2.29zM292.00 110.23h2.29v2.29h-2.29zM307.88 110.23h2.29v2.29h-2.29zM395.22 110.23h2.29v2.29h-2.29zM293.99 112.22h2.29v2.29h-2.29zM395.22 112.22h4.27v2.29h-4.27zM292.00 114.20h2.29v2.29h-2.29zM393.24 114.20h2.29v2.29h-2.29zM397.20 114.20h2.29v2.29h-2.29zM452.78 114.20h2.29v2.29h-2.29zM393.24 116.19h2.29v2.29h-2.29zM428.97 116.19h2.29v2.29h-2.29zM393.24 118.18h4.27v2.29h-4.27zM454.77 118.18h2.29v2.29h-2.29zM292.00 120.16h2.29v2.29h-2.29zM349.56 120.16h2.29v2.29h-2.29zM351.55 122.15h2.29v2.29h-2.29zM425.00 124.13h2.29v2.29h-2.29zM351.55 126.12h2.29v2.29h-2.29zM417.06 126.12h8.24v2.29h-8.24zM426.98 126.12h2.29v2.29h-2.29zM426.98 128.10h2.29v2.29h-2.29zM458.74 130.09h2.29v2.29h-2.29zM458.74 132.07h4.27v2.29h-4.27zM458.74 134.06h6.25v2.29h-6.25zM432.94 136.04h2.29v2.29h-2.29zM464.70 136.04h2.29v2.29h-2.29zM428.97 138.03h2.29v2.29h-2.29zM464.70 138.03h2.29v2.29h-2.29zM486.53 138.03h4.27v2.29h-4.27zM428.97 140.01h2.29v2.29h-2.29zM486.53 140.01h2.29v2.29h-2.29zM428.97 142.00h2.29v2.29h-2.29zM484.55 142.00h2.29v2.29h-2.29zM428.97 143.98h2.29v2.29h-2.29zM482.56 143.98h4.27v2.29h-4.27zM484.55 145.97h4.27v2.29h-4.27zM486.53 147.95h2.29v2.29h-2.29zM486.53 149.94h2.29v2.29h-2.29zM434.92 151.92h4.27v2.29h-4.27zM484.55 151.92h2.29v2.29h-2.29zM434.92 153.91h2.29v2.29h-2.29zM484.55 153.91h2.29v2.29h-2.29zM292.00 155.89h2.29v2.29h-2.29zM484.55 155.89h2.29v2.29h-2.29zM292.00 157.88h2.29v2.29h-2.29zM460.73 157.88h4.27v2.29h-4.27zM309.87 159.86h4.27v2.29h-4.27zM353.54 159.86h4.27v2.29h-4.27zM393.24 159.86h2.29v2.29h-2.29zM426.98 159.86h2.29v2.29h-2.29zM295.97 161.84h2.29v2.29h-2.29zM303.91 161.84h4.27v2.29h-4.27zM311.85 161.84h2.29v2.29h-2.29zM357.50 161.84h2.29v2.29h-2.29zM393.24 161.84h2.29v2.29h-2.29zM397.20 161.84h2.29v2.29h-2.29zM428.97 161.84h4.27v2.29h-4.27zM293.99 163.83h2.29v2.29h-2.29zM311.85 163.83h2.29v2.29h-2.29zM391.25 163.83h2.29v2.29h-2.29zM395.22 163.83h2.29v2.29h-2.29zM428.97 163.83h4.27v2.29h-4.27zM292.00 165.81h2.29v2.29h-2.29zM313.83 165.81h4.27v2.29h-4.27zM391.25 165.81h2.29v2.29h-2.29zM321.77 167.80h2.29v2.29h-2.29zM391.25 167.80h2.29v2.29h-2.29zM434.92 167.80h6.25v2.29h-6.25zM391.25 169.78h2.29v2.29h-2.29zM434.92 169.78h2.29v2.29h-2.29zM438.89 169.78h2.29v2.29h-2.29zM446.83 169.78h2.29v2.29h-2.29zM325.75 171.77h2.29v2.29h-2.29zM434.92 171.77h2.29v2.29h-2.29zM438.89 171.77h2.29v2.29h-2.29zM446.83 171.77h2.29v2.29h-2.29zM329.72 173.75h2.29v2.29h-2.29zM434.92 173.75h2.29v2.29h-2.29zM438.89 173.75h2.29v2.29h-2.29zM446.83 173.75h2.29v2.29h-2.29zM432.94 175.74h2.29v2.29h-2.29zM436.90 175.74h2.29v2.29h-2.29zM446.83 175.74h2.29v2.29h-2.29zM448.81 177.72h2.29v2.29h-2.29zM395.22 179.71h2.29v2.29h-2.29zM450.80 179.71h2.29v2.29h-2.29zM395.22 181.70h4.27v2.29h-4.27zM450.80 181.70h2.29v2.29h-2.29zM347.58 183.68h2.29v2.29h-2.29zM419.04 183.68h2.29v2.29h-2.29zM450.80 183.68h2.29v2.29h-2.29zM389.26 185.67h2.29v2.29h-2.29zM417.06 185.67h2.29v2.29h-2.29zM389.26 187.65h4.27v2.29h-4.27zM432.94 187.65h6.25v2.29h-6.25zM389.26 189.64h2.29v2.29h-2.29zM395.22 189.64h2.29v2.29h-2.29zM430.95 189.64h2.29v2.29h-2.29zM438.89 189.64h2.29v2.29h-2.29zM395.22 191.62h4.27v2.29h-4.27zM430.95 191.62h2.29v2.29h-2.29zM438.89 191.62h2.29v2.29h-2.29zM301.93 193.61h2.29v2.29h-2.29zM395.22 193.61h2.29v2.29h-2.29zM428.97 193.61h4.27v2.29h-4.27zM438.89 193.61h2.29v2.29h-2.29zM448.81 193.61h2.29v2.29h-2.29zM430.95 195.59h2.29v2.29h-2.29zM438.89 195.59h2.29v2.29h-2.29zM428.97 197.58h4.27v2.29h-4.27zM438.89 197.58h2.29v2.29h-2.29zM389.26 199.56h2.29v2.29h-2.29zM428.97 199.56h4.27v2.29h-4.27zM438.89 199.56h2.29v2.29h-2.29zM307.88 201.55h2.29v2.29h-2.29zM428.97 201.55h4.27v2.29h-4.27zM438.89 201.55h2.29v2.29h-2.29zM309.87 203.53h2.29v2.29h-2.29zM317.81 203.53h8.24v2.29h-8.24zM327.73 203.53h4.27v2.29h-4.27zM341.62 203.53h2.29v2.29h-2.29zM438.89 203.53h2.29v2.29h-2.29zM446.83 203.53h2.29v2.29h-2.29zM464.70 203.53h2.29v2.29h-2.29zM309.87 205.52h2.29v2.29h-2.29zM329.72 205.52h2.29v2.29h-2.29zM341.62 205.52h2.29v2.29h-2.29zM365.44 205.52h2.29v2.29h-2.29zM383.31 205.52h4.27v2.29h-4.27zM403.16 205.52h6.25v2.29h-6.25zM438.89 205.52h2.29v2.29h-2.29zM462.71 205.52h2.29v2.29h-2.29z"/><path fill="#4747eb" d="M327.73 9.00h22.14v2.29h-22.14zM482.56 9.00h2.29v2.29h-2.29zM327.73 10.98h22.14v2.29h-22.14zM482.56 10.98h2.29v2.29h-2.29zM339.64 12.97h14.20v2.29h-14.20zM355.52 12.97h2.29v2.29h-2.29zM482.56 12.97h2.29v2.29h-2.29zM341.62 14.96h16.18v2.29h-16.18zM341.62 16.94h8.24v2.29h-8.24zM355.52 16.94h2.29v2.29h-2.29zM292.00 18.93h4.27v2.29h-4.27zM317.81 18.93h2.29v2.29h-2.29zM341.62 18.93h8.24v2.29h-8.24zM387.28 18.93h2.29v2.29h-2.29zM319.79 20.91h4.27v2.29h-4.27zM341.62 20.91h4.27v2.29h-4.27zM347.58 20.91h4.27v2.29h-4.27zM387.28 20.91h2.29v2.29h-2.29zM341.62 22.90h2.29v2.29h-2.29zM347.58 22.90h2.29v2.29h-2.29zM385.30 22.90h4.27v2.29h-4.27zM403.16 22.90h2.29v2.29h-2.29zM341.62 24.88h2.29v2.29h-2.29zM383.31 24.88h2.29v2.29h-2.29zM387.28 24.88h2.29v2.29h-2.29zM436.90 24.88h4.27v2.29h-4.27zM343.61 26.87h2.29v2.29h-2.29zM347.58 26.87h2.29v2.29h-2.29zM436.90 26.87h2.29v2.29h-2.29zM347.58 28.85h2.29v2.29h-2.29zM381.32 28.85h2.29v2.29h-2.29zM436.90 28.85h2.29v2.29h-2.29zM347.58 30.84h8.24v2.29h-8.24zM361.48 30.84h2.29v2.29h-2.29zM395.22 30.84h2.29v2.29h-2.29zM434.92 30.84h6.25v2.29h-6.25zM399.19 32.82h6.25v2.29h-6.25zM488.51 32.82h2.29v2.29h-2.29zM403.16 34.80h2.29v2.29h-2.29zM409.12 34.80h2.29v2.29h-2.29zM432.94 34.80h4.27v2.29h-4.27zM403.16 36.79h4.27v2.29h-4.27zM401.18 38.78h4.27v2.29h-4.27zM401.18 40.76h4.27v2.29h-4.27zM401.18 42.75h4.27v2.29h-4.27zM401.18 44.73h8.24v2.29h-8.24zM399.19 46.72h2.29v2.29h-2.29zM403.16 46.72h6.25v2.29h-6.25zM331.70 48.70h6.25v2.29h-6.25zM403.16 48.70h8.24v2.29h-8.24zM327.73 50.69h2.29v2.29h-2.29zM387.28 50.69h2.29v2.29h-2.29zM401.18 50.69h8.24v2.29h-8.24zM486.53 50.69h4.27v2.29h-4.27zM325.75 52.67h2.29v2.29h-2.29zM387.28 52.67h2.29v2.29h-2.29zM403.16 52.67h2.29v2.29h-2.29zM484.55 52.67h2.29v2.29h-2.29zM488.51 52.67h2.29v2.29h-2.29zM319.79 54.66h6.25v2.29h-6.25zM383.31 54.66h6.25v2.29h-6.25zM407.13 54.66h2.29v2.29h-2.29zM413.09 54.66h2.29v2.29h-2.29zM450.80 54.66h2.29v2.29h-2.29zM484.55 54.66h6.25v2.29h-6.25zM383.31 56.64h2.29v2.29h-2.29zM389.26 56.64h4.27v2.29h-4.27zM486.53 56.64h4.27v2.29h-4.27zM315.82 58.62h2.29v2.29h-2.29zM383.31 58.62h2.29v2.29h-2.29zM488.51 58.62h2.29v2.29h-2.29zM307.88 60.61h2.29v2.29h-2.29zM383.31 60.61h4.27v2.29h-4.27zM486.53 60.61h2.29v2.29h-2.29zM448.81 62.60h2.29v2.29h-2.29zM297.95 64.58h8.24v2.29h-8.24zM387.28 64.58h2.29v2.29h-2.29zM484.55 64.58h2.29v2.29h-2.29zM297.95 66.56h2.29v2.29h-2.29zM297.95 68.55h2.29v2.29h-2.29zM295.97 70.53h4.27v2.29h-4.27zM474.62 70.53h2.29v2.29h-2.29zM293.99 72.52h6.25v2.29h-6.25zM292.00 74.51h8.24v2.29h-8.24zM292.00 76.49h4.27v2.29h-4.27zM292.00 78.48h4.27v2.29h-4.27zM351.55 78.48h2.29v2.29h-2.29zM292.00 80.46h2.29v2.29h-2.29zM353.54 80.46h2.29v2.29h-2.29zM426.98 80.46h2.29v2.29h-2.29zM292.00 82.45h2.29v2.29h-2.29zM292.00 84.43h2.29v2.29h-2.29zM393.24 84.43h2.29v2.29h-2.29zM292.00 86.42h2.29v2.29h-2.29zM393.24 86.42h2.29v2.29h-2.29zM292.00 88.40h2.29v2.29h-2.29zM391.25 88.40h4.27v2.29h-4.27zM415.07 88.40h2.29v2.29h-2.29zM292.00 90.39h2.29v2.29h-2.29zM391.25 90.39h4.27v2.29h-4.27zM292.00 92.37h2.29v2.29h-2.29zM292.00 94.36h4.27v2.29h-4.27zM293.99 96.34h2.29v2.29h-2.29zM349.56 96.34h2.29v2.29h-2.29zM413.09 96.34h2.29v2.29h-2.29zM413.09 98.33h2.29v2.29h-2.29zM442.86 100.31h6.25v2.29h-6.25zM313.83 102.30h2.29v2.29h-2.29zM327.73 102.30h2.29v2.29h-2.29zM349.56 102.30h2.29v2.29h-2.29zM442.86 102.30h6.25v2.29h-6.25zM331.70 104.28h2.29v2.29h-2.29zM349.56 104.28h2.29v2.29h-2.29zM365.44 104.28h4.27v2.29h-4.27zM442.86 104.28h6.25v2.29h-6.25zM335.67 106.27h4.27v2.29h-4.27zM343.61 106.27h4.27v2.29h-4.27zM353.54 106.27h2.29v2.29h-2.29zM359.49 106.27h2.29v2.29h-2.29zM421.02 106.27h2.29v2.29h-2.29zM426.98 106.27h8.24v2.29h-8.24zM438.89 106.27h4.27v2.29h-4.27zM337.65 108.25h4.27v2.29h-4.27zM383.31 108.25h2.29v2.29h-2.29zM393.24 108.25h4.27v2.29h-4.27zM293.99 110.23h2.29v2.29h-2.29zM393.24 110.23h2.29v2.29h-2.29zM397.20 110.23h2.29v2.29h-2.29zM450.80 110.23h2.29v2.29h-2.29zM393.24 112.22h2.29v2.29h-2.29zM293.99 114.20h2.29v2.29h-2.29zM428.97 114.20h4.27v2.29h-4.27zM292.00 116.19h2.29v2.29h-2.29zM426.98 116.19h2.29v2.29h-2.29zM430.95 116.19h2.29v2.29h-2.29zM292.00 118.18h2.29v2.29h-2.29zM426.98 118.18h4.27v2.29h-4.27zM347.58 120.16h2.29v2.29h-2.29zM393.24 120.16h4.27v2.29h-4.27zM426.98 120.16h2.29v2.29h-2.29zM454.77 120.16h2.29v2.29h-2.29zM292.00 122.15h2.29v2.29h-2.29zM347.58 122.15h2.29v2.29h-2.29zM426.98 122.15h2.29v2.29h-2.29zM347.58 124.13h2.29v2.29h-2.29zM423.01 124.13h2.29v2.29h-2.29zM426.98 124.13h2.29v2.29h-2.29zM349.56 126.12h2.29v2.29h-2.29zM419.04 128.10h4.27v2.29h-4.27zM456.75 128.10h2.29v2.29h-2.29zM426.98 130.09h2.29v2.29h-2.29zM456.75 130.09h2.29v2.29h-2.29zM426.98 132.07h2.29v2.29h-2.29zM456.75 132.07h2.29v2.29h-2.29zM428.97 134.06h2.29v2.29h-2.29zM442.86 134.06h2.29v2.29h-2.29zM456.75 134.06h2.29v2.29h-2.29zM460.73 136.04h4.27v2.29h-4.27zM462.71 138.03h2.29v2.29h-2.29zM462.71 140.01h4.27v2.29h-4.27zM478.59 140.01h2.29v2.29h-2.29zM488.51 140.01h2.29v2.29h-2.29zM460.73 142.00h4.27v2.29h-4.27zM480.58 142.00h2.29v2.29h-2.29zM486.53 142.00h4.27v2.29h-4.27zM460.73 143.98h2.29v2.29h-2.29zM486.53 143.98h4.27v2.29h-4.27zM482.56 145.97h2.29v2.29h-2.29zM488.51 145.97h2.29v2.29h-2.29zM482.56 147.95h2.29v2.29h-2.29zM488.51 147.95h2.29v2.29h-2.29zM436.90 149.94h2.29v2.29h-2.29zM482.56 149.94h2.29v2.29h-2.29zM488.51 149.94h2.29v2.29h-2.29zM482.56 151.92h2.29v2.29h-2.29zM486.53 151.92h4.27v2.29h-4.27zM292.00 153.91h2.29v2.29h-2.29zM430.95 153.91h4.27v2.29h-4.27zM436.90 153.91h2.29v2.29h-2.29zM482.56 153.91h2.29v2.29h-2.29zM486.53 153.91h4.27v2.29h-4.27zM293.99 155.89h2.29v2.29h-2.29zM430.95 155.89h8.24v2.29h-8.24zM482.56 155.89h2.29v2.29h-2.29zM486.53 155.89h4.27v2.29h-4.27zM293.99 157.88h4.27v2.29h-4.27zM299.94 157.88h14.20v2.29h-14.20zM395.22 157.88h2.29v2.29h-2.29zM428.97 157.88h8.24v2.29h-8.24zM452.78 157.88h2.29v2.29h-2.29zM464.70 157.88h2.29v2.29h-2.29zM292.00 159.86h18.17v2.29h-18.17zM349.56 159.86h4.27v2.29h-4.27zM357.50 159.86h2.29v2.29h-2.29zM397.20 159.86h2.29v2.29h-2.29zM428.97 159.86h6.25v2.29h-6.25zM292.00 161.84h4.27v2.29h-4.27zM313.83 161.84h2.29v2.29h-2.29zM391.25 161.84h2.29v2.29h-2.29zM426.98 161.84h2.29v2.29h-2.29zM432.94 161.84h2.29v2.29h-2.29zM292.00 163.83h2.29v2.29h-2.29zM313.83 163.83h2.29v2.29h-2.29zM393.24 163.83h2.29v2.29h-2.29zM397.20 163.83h2.29v2.29h-2.29zM432.94 163.83h2.29v2.29h-2.29zM393.24 165.81h2.29v2.29h-2.29zM430.95 165.81h6.25v2.29h-6.25zM393.24 167.80h2.29v2.29h-2.29zM432.94 167.80h2.29v2.29h-2.29zM432.94 169.78h2.29v2.29h-2.29zM436.90 169.78h2.29v2.29h-2.29zM341.62 171.77h2.29v2.29h-2.29zM391.25 171.77h4.27v2.29h-4.27zM432.94 171.77h2.29v2.29h-2.29zM436.90 171.77h2.29v2.29h-2.29zM339.64 173.75h2.29v2.29h-2.29zM391.25 173.75h4.27v2.29h-4.27zM432.94 173.75h2.29v2.29h-2.29zM436.90 173.75h2.29v2.29h-2.29zM391.25 175.74h4.27v2.29h-4.27zM448.81 175.74h2.29v2.29h-2.29zM387.28 177.72h10.23v2.29h-10.23zM430.95 177.72h2.29v2.29h-2.29zM450.80 177.72h2.29v2.29h-2.29zM458.74 177.72h4.27v2.29h-4.27zM387.28 179.71h8.24v2.29h-8.24zM397.20 179.71h2.29v2.29h-2.29zM426.98 179.71h2.29v2.29h-2.29zM452.78 179.71h8.24v2.29h-8.24zM387.28 181.70h8.24v2.29h-8.24zM399.19 181.70h2.29v2.29h-2.29zM423.01 181.70h2.29v2.29h-2.29zM452.78 181.70h2.29v2.29h-2.29zM387.28 183.68h22.14v2.29h-22.14zM452.78 183.68h2.29v2.29h-2.29zM387.28 185.67h2.29v2.29h-2.29zM391.25 185.67h12.21v2.29h-12.21zM367.43 187.65h2.29v2.29h-2.29zM393.24 187.65h6.25v2.29h-6.25zM391.25 189.64h4.27v2.29h-4.27zM397.20 189.64h2.29v2.29h-2.29zM417.06 189.64h2.29v2.29h-2.29zM432.94 189.64h6.25v2.29h-6.25zM297.95 191.62h2.29v2.29h-2.29zM387.28 191.62h8.24v2.29h-8.24zM425.00 191.62h2.29v2.29h-2.29zM432.94 191.62h6.25v2.29h-6.25zM450.80 191.62h2.29v2.29h-2.29zM480.58 191.62h2.29v2.29h-2.29zM387.28 193.61h4.27v2.29h-4.27zM397.20 193.61h2.29v2.29h-2.29zM426.98 193.61h2.29v2.29h-2.29zM432.94 193.61h6.25v2.29h-6.25zM387.28 195.59h4.27v2.29h-4.27zM428.97 195.59h2.29v2.29h-2.29zM432.94 195.59h6.25v2.29h-6.25zM387.28 197.58h4.27v2.29h-4.27zM426.98 197.58h2.29v2.29h-2.29zM432.94 197.58h6.25v2.29h-6.25zM305.89 199.56h2.29v2.29h-2.29zM387.28 199.56h2.29v2.29h-2.29zM426.98 199.56h2.29v2.29h-2.29zM432.94 199.56h6.25v2.29h-6.25zM476.61 199.56h2.29v2.29h-2.29zM387.28 201.55h4.27v2.29h-4.27zM426.98 201.55h2.29v2.29h-2.29zM432.94 201.55h6.25v2.29h-6.25zM472.63 201.55h4.27v2.29h-4.27zM307.88 203.53h2.29v2.29h-2.29zM325.75 203.53h2.29v2.29h-2.29zM343.61 203.53h26.11v2.29h-26.11zM383.31 203.53h8.24v2.29h-8.24zM403.16 203.53h4.27v2.29h-4.27zM426.98 203.53h12.21v2.29h-12.21zM462.71 203.53h2.29v2.29h-2.29zM466.68 203.53h8.24v2.29h-8.24zM317.81 205.52h12.21v2.29h-12.21zM343.61 205.52h22.14v2.29h-22.14zM367.43 205.52h2.29v2.29h-2.29zM387.28 205.52h4.27v2.29h-4.27zM401.18 205.52h2.29v2.29h-2.29zM426.98 205.52h12.21v2.29h-12.21zM446.83 205.52h2.29v2.29h-2.29zM466.68 205.52h8.24v2.29h-8.24z"/><path fill="#484df0" d="M444.85 9.00h2.29v2.29h-2.29zM440.88 10.98h2.29v2.29h-2.29zM292.00 20.91h4.27v2.29h-4.27zM317.81 20.91h2.29v2.29h-2.29zM385.30 20.91h2.29v2.29h-2.29zM440.88 24.88h2.29v2.29h-2.29zM363.46 30.84h2.29v2.29h-2.29zM385.30 30.84h6.25v2.29h-6.25zM393.24 30.84h2.29v2.29h-2.29zM440.88 30.84h2.29v2.29h-2.29zM436.90 32.82h2.29v2.29h-2.29zM355.52 34.80h2.29v2.29h-2.29zM401.18 34.80h2.29v2.29h-2.29zM401.18 36.79h2.29v2.29h-2.29zM448.81 38.78h2.29v2.29h-2.29zM405.14 42.75h2.29v2.29h-2.29zM329.72 48.70h2.29v2.29h-2.29zM387.28 48.70h2.29v2.29h-2.29zM488.51 48.70h2.29v2.29h-2.29zM389.26 50.69h2.29v2.29h-2.29zM399.19 50.69h2.29v2.29h-2.29zM413.09 50.69h2.29v2.29h-2.29zM385.30 52.67h2.29v2.29h-2.29zM317.81 54.66h2.29v2.29h-2.29zM381.32 54.66h2.29v2.29h-2.29zM405.14 54.66h2.29v2.29h-2.29zM448.81 54.66h2.29v2.29h-2.29zM315.82 56.64h2.29v2.29h-2.29zM381.32 56.64h2.29v2.29h-2.29zM385.30 56.64h4.27v2.29h-4.27zM448.81 56.64h2.29v2.29h-2.29zM452.78 56.64h2.29v2.29h-2.29zM484.55 56.64h2.29v2.29h-2.29zM313.83 58.62h2.29v2.29h-2.29zM381.32 58.62h2.29v2.29h-2.29zM385.30 58.62h2.29v2.29h-2.29zM486.53 58.62h2.29v2.29h-2.29zM343.61 60.61h2.29v2.29h-2.29zM381.32 60.61h2.29v2.29h-2.29zM305.89 62.60h2.29v2.29h-2.29zM381.32 62.60h2.29v2.29h-2.29zM444.85 64.58h2.29v2.29h-2.29zM345.60 66.56h2.29v2.29h-2.29zM480.58 68.55h2.29v2.29h-2.29zM349.56 76.49h2.29v2.29h-2.29zM353.54 78.48h2.29v2.29h-2.29zM407.13 78.48h4.27v2.29h-4.27zM432.94 78.48h2.29v2.29h-2.29zM407.13 80.46h2.29v2.29h-2.29zM393.24 82.45h2.29v2.29h-2.29zM423.01 82.45h2.29v2.29h-2.29zM391.25 86.42h2.29v2.29h-2.29zM292.00 96.34h2.29v2.29h-2.29zM295.97 98.33h2.29v2.29h-2.29zM349.56 98.33h2.29v2.29h-2.29zM297.95 100.31h2.29v2.29h-2.29zM349.56 100.31h2.29v2.29h-2.29zM299.94 102.30h2.29v2.29h-2.29zM325.75 102.30h2.29v2.29h-2.29zM367.43 102.30h2.29v2.29h-2.29zM351.55 104.28h4.27v2.29h-4.27zM333.69 106.27h2.29v2.29h-2.29zM347.58 106.27h6.25v2.29h-6.25zM419.04 106.27h2.29v2.29h-2.29zM442.86 106.27h6.25v2.29h-6.25zM307.88 108.25h2.29v2.29h-2.29zM335.67 108.25h2.29v2.29h-2.29zM397.20 108.25h2.29v2.29h-2.29zM448.81 108.25h2.29v2.29h-2.29zM337.65 110.23h2.29v2.29h-2.29zM383.31 110.23h4.27v2.29h-4.27zM391.25 110.23h2.29v2.29h-2.29zM399.19 110.23h2.29v2.29h-2.29zM309.87 112.22h2.29v2.29h-2.29zM391.25 112.22h2.29v2.29h-2.29zM307.88 114.20h2.29v2.29h-2.29zM426.98 114.20h2.29v2.29h-2.29zM432.94 114.20h2.29v2.29h-2.29zM293.99 116.19h2.29v2.29h-2.29zM397.20 116.19h2.29v2.29h-2.29zM432.94 116.19h2.29v2.29h-2.29zM452.78 116.19h2.29v2.29h-2.29zM293.99 118.18h2.29v2.29h-2.29zM349.56 118.18h2.29v2.29h-2.29zM430.95 118.18h2.29v2.29h-2.29zM293.99 120.16h2.29v2.29h-2.29zM351.55 120.16h2.29v2.29h-2.29zM428.97 120.16h2.29v2.29h-2.29zM395.22 122.15h2.29v2.29h-2.29zM425.00 122.15h2.29v2.29h-2.29zM454.77 122.15h2.29v2.29h-2.29zM395.22 124.13h2.29v2.29h-2.29zM419.04 124.13h4.27v2.29h-4.27zM454.77 124.13h2.29v2.29h-2.29zM415.07 126.12h2.29v2.29h-2.29zM454.77 126.12h2.29v2.29h-2.29zM415.07 128.10h4.27v2.29h-4.27zM423.01 130.09h2.29v2.29h-2.29zM395.22 132.07h2.29v2.29h-2.29zM425.00 132.07h2.29v2.29h-2.29zM442.86 132.07h4.27v2.29h-4.27zM426.98 134.06h2.29v2.29h-2.29zM430.95 134.06h2.29v2.29h-2.29zM426.98 136.04h2.29v2.29h-2.29zM458.74 136.04h2.29v2.29h-2.29zM426.98 138.03h2.29v2.29h-2.29zM460.73 138.03h2.29v2.29h-2.29zM426.98 140.01h2.29v2.29h-2.29zM460.73 140.01h2.29v2.29h-2.29zM466.68 140.01h4.27v2.29h-4.27zM476.61 140.01h2.29v2.29h-2.29zM426.98 142.00h2.29v2.29h-2.29zM426.98 143.98h2.29v2.29h-2.29zM462.71 143.98h2.29v2.29h-2.29zM436.90 147.95h2.29v2.29h-2.29zM438.89 149.94h2.29v2.29h-2.29zM438.89 151.92h2.29v2.29h-2.29zM293.99 153.91h2.29v2.29h-2.29zM438.89 153.91h2.29v2.29h-2.29zM295.97 155.89h2.29v2.29h-2.29zM297.95 157.88h2.29v2.29h-2.29zM425.00 157.88h4.27v2.29h-4.27zM466.68 157.88h2.29v2.29h-2.29zM482.56 157.88h4.27v2.29h-4.27zM313.83 159.86h2.29v2.29h-2.29zM423.01 159.86h2.29v2.29h-2.29zM359.49 161.84h2.29v2.29h-2.29zM315.82 163.83h2.29v2.29h-2.29zM426.98 163.83h2.29v2.29h-2.29zM395.22 165.81h2.29v2.29h-2.29zM428.97 165.81h2.29v2.29h-2.29zM430.95 167.80h2.29v2.29h-2.29zM446.83 167.80h2.29v2.29h-2.29zM393.24 169.78h2.29v2.29h-2.29zM331.70 173.75h2.29v2.29h-2.29zM385.30 175.74h2.29v2.29h-2.29zM389.26 175.74h2.29v2.29h-2.29zM395.22 175.74h2.29v2.29h-2.29zM385.30 177.72h2.29v2.29h-2.29zM397.20 177.72h2.29v2.29h-2.29zM452.78 177.72h6.25v2.29h-6.25zM462.71 177.72h2.29v2.29h-2.29zM385.30 179.71h2.29v2.29h-2.29zM399.19 179.71h2.29v2.29h-2.29zM460.73 179.71h2.29v2.29h-2.29zM385.30 181.70h2.29v2.29h-2.29zM421.02 181.70h2.29v2.29h-2.29zM454.77 181.70h2.29v2.29h-2.29zM417.06 183.68h2.29v2.29h-2.29zM403.16 185.67h4.27v2.29h-4.27zM452.78 185.67h2.29v2.29h-2.29zM387.28 187.65h2.29v2.29h-2.29zM399.19 187.65h2.29v2.29h-2.29zM452.78 187.65h2.29v2.29h-2.29zM367.43 189.64h2.29v2.29h-2.29zM387.28 189.64h2.29v2.29h-2.29zM399.19 189.64h2.29v2.29h-2.29zM452.78 189.64h2.29v2.29h-2.29zM476.61 189.64h4.27v2.29h-4.27zM423.01 191.62h2.29v2.29h-2.29zM478.59 191.62h2.29v2.29h-2.29zM385.30 193.61h2.29v2.29h-2.29zM480.58 193.61h4.27v2.29h-4.27zM385.30 195.59h2.29v2.29h-2.29zM397.20 195.59h2.29v2.29h-2.29zM426.98 195.59h2.29v2.29h-2.29zM448.81 195.59h2.29v2.29h-2.29zM385.30 197.58h2.29v2.29h-2.29zM476.61 197.58h2.29v2.29h-2.29zM385.30 199.56h2.29v2.29h-2.29zM385.30 201.55h2.29v2.29h-2.29zM401.18 203.53h2.29v2.29h-2.29zM407.13 203.53h2.29v2.29h-2.29zM448.81 203.53h2.29v2.29h-2.29zM474.62 203.53h2.29v2.29h-2.29zM307.88 205.52h2.29v2.29h-2.29zM369.42 205.52h2.29v2.29h-2.29zM381.32 205.52h2.29v2.29h-2.29zM409.12 205.52h2.29v2.29h-2.29zM448.81 205.52h2.29v2.29h-2.29zM474.62 205.52h2.29v2.29h-2.29z"/><path fill="#4852f4" d="M295.97 18.93h2.29v2.29h-2.29zM315.82 18.93h2.29v2.29h-2.29zM488.51 18.93h2.29v2.29h-2.29zM323.76 20.91h2.29v2.29h-2.29zM351.55 20.91h2.29v2.29h-2.29zM383.31 22.90h2.29v2.29h-2.29zM321.77 30.84h4.27v2.29h-4.27zM365.44 30.84h2.29v2.29h-2.29zM375.37 30.84h10.23v2.29h-10.23zM391.25 30.84h2.29v2.29h-2.29zM442.86 30.84h2.29v2.29h-2.29zM361.48 32.82h2.29v2.29h-2.29zM397.20 32.82h2.29v2.29h-2.29zM399.19 34.80h2.29v2.29h-2.29zM446.83 34.80h2.29v2.29h-2.29zM452.78 34.80h2.29v2.29h-2.29zM407.13 36.79h2.29v2.29h-2.29zM446.83 36.79h2.29v2.29h-2.29zM450.80 36.79h2.29v2.29h-2.29zM405.14 38.78h2.29v2.29h-2.29zM399.19 40.76h2.29v2.29h-2.29zM405.14 40.76h2.29v2.29h-2.29zM399.19 42.75h2.29v2.29h-2.29zM407.13 42.75h2.29v2.29h-2.29zM399.19 44.73h2.29v2.29h-2.29zM329.72 46.72h2.29v2.29h-2.29zM409.12 46.72h2.29v2.29h-2.29zM488.51 46.72h2.29v2.29h-2.29zM327.73 48.70h2.29v2.29h-2.29zM337.65 48.70h2.29v2.29h-2.29zM397.20 48.70h2.29v2.29h-2.29zM411.10 48.70h2.29v2.29h-2.29zM325.75 50.69h2.29v2.29h-2.29zM385.30 50.69h2.29v2.29h-2.29zM323.76 52.67h2.29v2.29h-2.29zM383.31 52.67h2.29v2.29h-2.29zM393.24 52.67h2.29v2.29h-2.29zM339.64 56.64h2.29v2.29h-2.29zM307.88 58.62h6.25v2.29h-6.25zM389.26 58.62h4.27v2.29h-4.27zM448.81 58.62h2.29v2.29h-2.29zM305.89 60.61h2.29v2.29h-2.29zM448.81 60.61h2.29v2.29h-2.29zM297.95 62.60h4.27v2.29h-4.27zM484.55 62.60h2.29v2.29h-2.29zM295.97 64.58h2.29v2.29h-2.29zM381.32 64.58h2.29v2.29h-2.29zM482.56 66.56h2.29v2.29h-2.29zM347.58 68.55h2.29v2.29h-2.29zM468.67 68.55h2.29v2.29h-2.29zM349.56 74.51h2.29v2.29h-2.29zM351.55 76.49h2.29v2.29h-2.29zM436.90 76.49h2.29v2.29h-2.29zM355.52 78.48h2.29v2.29h-2.29zM405.14 78.48h2.29v2.29h-2.29zM430.95 78.48h2.29v2.29h-2.29zM409.12 80.46h2.29v2.29h-2.29zM425.00 80.46h2.29v2.29h-2.29zM407.13 82.45h2.29v2.29h-2.29zM351.55 92.37h2.29v2.29h-2.29zM351.55 94.36h2.29v2.29h-2.29zM293.99 98.33h2.29v2.29h-2.29zM401.18 100.31h2.29v2.29h-2.29zM315.82 102.30h2.29v2.29h-2.29zM369.42 102.30h2.29v2.29h-2.29zM299.94 104.28h2.29v2.29h-2.29zM329.72 104.28h2.29v2.29h-2.29zM355.52 104.28h10.23v2.29h-10.23zM369.42 104.28h2.29v2.29h-2.29zM361.48 106.27h2.29v2.29h-2.29zM417.06 106.27h2.29v2.29h-2.29zM341.62 108.25h2.29v2.29h-2.29zM355.52 108.25h4.27v2.29h-4.27zM381.32 108.25h2.29v2.29h-2.29zM399.19 108.25h2.29v2.29h-2.29zM339.64 110.23h2.29v2.29h-2.29zM381.32 110.23h2.29v2.29h-2.29zM399.19 112.22h2.29v2.29h-2.29zM450.80 112.22h2.29v2.29h-2.29zM391.25 114.20h2.29v2.29h-2.29zM434.92 114.20h2.29v2.29h-2.29zM391.25 116.19h2.29v2.29h-2.29zM425.00 116.19h2.29v2.29h-2.29zM347.58 118.18h2.29v2.29h-2.29zM351.55 118.18h2.29v2.29h-2.29zM391.25 118.18h2.29v2.29h-2.29zM425.00 118.18h2.29v2.29h-2.29zM391.25 120.16h2.29v2.29h-2.29zM425.00 120.16h2.29v2.29h-2.29zM293.99 122.15h2.29v2.29h-2.29zM393.24 122.15h2.29v2.29h-2.29zM423.01 122.15h2.29v2.29h-2.29zM417.06 124.13h2.29v2.29h-2.29zM347.58 126.12h2.29v2.29h-2.29zM413.09 128.10h2.29v2.29h-2.29zM454.77 128.10h2.29v2.29h-2.29zM395.22 130.09h2.29v2.29h-2.29zM454.77 130.09h2.29v2.29h-2.29zM454.77 132.07h2.29v2.29h-2.29zM345.60 134.06h2.29v2.29h-2.29zM395.22 134.06h2.29v2.29h-2.29zM444.85 134.06h2.29v2.29h-2.29zM454.77 134.06h2.29v2.29h-2.29zM456.75 136.04h2.29v2.29h-2.29zM458.74 138.03h2.29v2.29h-2.29zM470.65 140.01h6.25v2.29h-6.25zM458.74 142.00h2.29v2.29h-2.29zM464.70 142.00h2.29v2.29h-2.29zM458.74 143.98h2.29v2.29h-2.29zM438.89 147.95h2.29v2.29h-2.29zM292.00 151.92h2.29v2.29h-2.29zM297.95 155.89h2.29v2.29h-2.29zM301.93 155.89h10.23v2.29h-10.23zM393.24 157.88h2.29v2.29h-2.29zM397.20 157.88h2.29v2.29h-2.29zM486.53 157.88h4.27v2.29h-4.27zM391.25 159.86h2.29v2.29h-2.29zM452.78 159.86h4.27v2.29h-4.27zM464.70 159.86h4.27v2.29h-4.27zM425.00 161.84h2.29v2.29h-2.29zM397.20 165.81h4.27v2.29h-4.27zM323.76 167.80h2.29v2.29h-2.29zM395.22 167.80h2.29v2.29h-2.29zM341.62 169.78h2.29v2.29h-2.29zM409.12 171.77h4.27v2.29h-4.27zM333.69 173.75h2.29v2.29h-2.29zM337.65 173.75h2.29v2.29h-2.29zM448.81 173.75h2.29v2.29h-2.29zM450.80 175.74h2.29v2.29h-2.29zM464.70 177.72h2.29v2.29h-2.29zM425.00 179.71h2.29v2.29h-2.29zM462.71 179.71h2.29v2.29h-2.29zM401.18 181.70h10.23v2.29h-10.23zM456.75 181.70h2.29v2.29h-2.29zM385.30 183.68h2.29v2.29h-2.29zM409.12 183.68h2.29v2.29h-2.29zM454.77 183.68h2.29v2.29h-2.29zM367.43 185.67h2.29v2.29h-2.29zM407.13 185.67h2.29v2.29h-2.29zM401.18 187.65h2.29v2.29h-2.29zM476.61 187.65h2.29v2.29h-2.29zM295.97 191.62h2.29v2.29h-2.29zM385.30 191.62h2.29v2.29h-2.29zM399.19 191.62h2.29v2.29h-2.29zM421.02 191.62h2.29v2.29h-2.29zM452.78 191.62h2.29v2.29h-2.29zM482.56 191.62h2.29v2.29h-2.29zM299.94 193.61h2.29v2.29h-2.29zM425.00 193.61h2.29v2.29h-2.29zM450.80 193.61h2.29v2.29h-2.29zM303.91 197.58h2.29v2.29h-2.29zM448.81 197.58h2.29v2.29h-2.29zM305.89 201.55h2.29v2.29h-2.29zM369.42 201.55h2.29v2.29h-2.29zM383.31 201.55h2.29v2.29h-2.29zM403.16 201.55h2.29v2.29h-2.29zM448.81 201.55h2.29v2.29h-2.29zM476.61 201.55h2.29v2.29h-2.29zM369.42 203.53h2.29v2.29h-2.29zM381.32 203.53h2.29v2.29h-2.29z"/><path fill="#4758f8" d="M438.89 12.97h2.29v2.29h-2.29zM355.52 18.93h2.29v2.29h-2.29zM385.30 18.93h2.29v2.29h-2.29zM315.82 20.91h2.29v2.29h-2.29zM438.89 22.90h2.29v2.29h-2.29zM442.86 24.88h2.29v2.29h-2.29zM464.70 24.88h2.29v2.29h-2.29zM381.32 26.87h2.29v2.29h-2.29zM321.77 28.85h2.29v2.29h-2.29zM349.56 28.85h2.29v2.29h-2.29zM379.34 28.85h2.29v2.29h-2.29zM367.43 30.84h8.24v2.29h-8.24zM444.85 30.84h2.29v2.29h-2.29zM446.83 32.82h2.29v2.29h-2.29zM359.49 34.80h2.29v2.29h-2.29zM430.95 34.80h2.29v2.29h-2.29zM488.51 34.80h2.29v2.29h-2.29zM399.19 36.79h2.29v2.29h-2.29zM399.19 38.78h2.29v2.29h-2.29zM446.83 38.78h2.29v2.29h-2.29zM387.28 46.72h2.29v2.29h-2.29zM385.30 48.70h2.29v2.29h-2.29zM486.53 48.70h2.29v2.29h-2.29zM391.25 50.69h2.29v2.29h-2.29zM397.20 50.69h2.29v2.29h-2.29zM484.55 50.69h2.29v2.29h-2.29zM315.82 52.67h8.24v2.29h-8.24zM381.32 52.67h2.29v2.29h-2.29zM415.07 52.67h2.29v2.29h-2.29zM315.82 54.66h2.29v2.29h-2.29zM393.24 54.66h2.29v2.29h-2.29zM305.89 58.62h2.29v2.29h-2.29zM341.62 58.62h2.29v2.29h-2.29zM484.55 58.62h2.29v2.29h-2.29zM295.97 62.60h2.29v2.29h-2.29zM301.93 62.60h4.27v2.29h-4.27zM389.26 62.60h2.29v2.29h-2.29zM349.56 72.52h2.29v2.29h-2.29zM440.88 72.52h2.29v2.29h-2.29zM353.54 76.49h2.29v2.29h-2.29zM405.14 76.49h4.27v2.29h-4.27zM411.10 78.48h2.29v2.29h-2.29zM428.97 78.48h2.29v2.29h-2.29zM421.02 82.45h2.29v2.29h-2.29zM391.25 84.43h2.29v2.29h-2.29zM417.06 84.43h2.29v2.29h-2.29zM413.09 88.40h2.29v2.29h-2.29zM411.10 90.39h2.29v2.29h-2.29zM411.10 92.37h2.29v2.29h-2.29zM292.00 98.33h2.29v2.29h-2.29zM403.16 98.33h2.29v2.29h-2.29zM403.16 100.31h2.29v2.29h-2.29zM317.81 102.30h2.29v2.29h-2.29zM323.76 102.30h2.29v2.29h-2.29zM411.10 102.30h2.29v2.29h-2.29zM331.70 106.27h2.29v2.29h-2.29zM363.46 106.27h4.27v2.29h-4.27zM415.07 106.27h2.29v2.29h-2.29zM333.69 108.25h2.29v2.29h-2.29zM343.61 108.25h2.29v2.29h-2.29zM353.54 108.25h2.29v2.29h-2.29zM423.01 108.25h6.25v2.29h-6.25zM432.94 108.25h16.18v2.29h-16.18zM309.87 110.23h2.29v2.29h-2.29zM335.67 110.23h2.29v2.29h-2.29zM383.31 112.22h4.27v2.29h-4.27zM389.26 112.22h2.29v2.29h-2.29zM426.98 112.22h8.24v2.29h-8.24zM425.00 114.20h2.29v2.29h-2.29zM349.56 116.19h4.27v2.29h-4.27zM434.92 116.19h2.29v2.29h-2.29zM397.20 118.18h2.29v2.29h-2.29zM432.94 118.18h2.29v2.29h-2.29zM452.78 118.18h2.29v2.29h-2.29zM428.97 122.15h2.29v2.29h-2.29zM379.34 126.12h2.29v2.29h-2.29zM413.09 126.12h2.29v2.29h-2.29zM428.97 132.07h2.29v2.29h-2.29zM452.78 132.07h2.29v2.29h-2.29zM458.74 140.01h2.29v2.29h-2.29zM478.59 142.00h2.29v2.29h-2.29zM480.58 143.98h2.29v2.29h-2.29zM426.98 145.97h2.29v2.29h-2.29zM440.88 145.97h2.29v2.29h-2.29zM460.73 145.97h2.29v2.29h-2.29zM440.88 147.95h2.29v2.29h-2.29zM440.88 149.94h2.29v2.29h-2.29zM299.94 155.89h2.29v2.29h-2.29zM311.85 155.89h2.29v2.29h-2.29zM480.58 155.89h2.29v2.29h-2.29zM313.83 157.88h2.29v2.29h-2.29zM480.58 157.88h2.29v2.29h-2.29zM359.49 159.86h2.29v2.29h-2.29zM456.75 159.86h2.29v2.29h-2.29zM462.71 159.86h2.29v2.29h-2.29zM468.67 159.86h2.29v2.29h-2.29zM361.48 161.84h2.29v2.29h-2.29zM355.52 163.83h2.29v2.29h-2.29zM399.19 163.83h2.29v2.29h-2.29zM325.75 169.78h2.29v2.29h-2.29zM395.22 169.78h2.29v2.29h-2.29zM430.95 169.78h2.29v2.29h-2.29zM327.73 171.77h2.29v2.29h-2.29zM395.22 171.77h2.29v2.29h-2.29zM407.13 171.77h2.29v2.29h-2.29zM448.81 171.77h2.29v2.29h-2.29zM335.67 173.75h2.29v2.29h-2.29zM395.22 173.75h2.29v2.29h-2.29zM397.20 175.74h2.29v2.29h-2.29zM430.95 175.74h2.29v2.29h-2.29zM452.78 175.74h14.20v2.29h-14.20zM399.19 177.72h2.29v2.29h-2.29zM428.97 177.72h2.29v2.29h-2.29zM401.18 179.71h2.29v2.29h-2.29zM464.70 179.71h2.29v2.29h-2.29zM411.10 181.70h2.29v2.29h-2.29zM419.04 181.70h2.29v2.29h-2.29zM458.74 181.70h2.29v2.29h-2.29zM385.30 185.67h2.29v2.29h-2.29zM415.07 185.67h2.29v2.29h-2.29zM415.07 187.65h2.29v2.29h-2.29zM474.62 187.65h2.29v2.29h-2.29zM474.62 189.64h2.29v2.29h-2.29zM480.58 189.64h2.29v2.29h-2.29zM399.19 193.61h2.29v2.29h-2.29zM301.93 195.59h2.29v2.29h-2.29zM425.00 195.59h2.29v2.29h-2.29zM478.59 195.59h2.29v2.29h-2.29zM425.00 197.58h2.29v2.29h-2.29zM448.81 199.56h2.29v2.29h-2.29zM401.18 201.55h2.29v2.29h-2.29zM405.14 201.55h2.29v2.29h-2.29zM409.12 203.53h2.29v2.29h-2.29zM379.34 205.52h2.29v2.29h-2.29zM411.10 205.52h2.29v2.29h-2.29zM450.80 205.52h2.29v2.29h-2.29zM460.73 205.52h2.29v2.29h-2.29z"/><path fill="#465efb" d="M357.50 9.00h2.29v2.29h-2.29zM446.83 9.00h2.29v2.29h-2.29zM460.73 9.00h2.29v2.29h-2.29zM357.50 10.98h2.29v2.29h-2.29zM442.86 10.98h2.29v2.29h-2.29zM458.74 10.98h4.27v2.29h-4.27zM357.50 12.97h2.29v2.29h-2.29zM458.74 12.97h4.27v2.29h-4.27zM458.74 14.96h4.27v2.29h-4.27zM297.95 18.93h2.29v2.29h-2.29zM313.83 18.93h2.29v2.29h-2.29zM295.97 20.91h2.29v2.29h-2.29zM383.31 20.91h2.29v2.29h-2.29zM486.53 20.91h2.29v2.29h-2.29zM317.81 22.90h4.27v2.29h-4.27zM464.70 22.90h2.29v2.29h-2.29zM486.53 22.90h2.29v2.29h-2.29zM462.71 26.87h2.29v2.29h-2.29zM486.53 26.87h2.29v2.29h-2.29zM319.79 28.85h2.29v2.29h-2.29zM323.76 28.85h2.29v2.29h-2.29zM486.53 28.85h2.29v2.29h-2.29zM319.79 30.84h2.29v2.29h-2.29zM438.89 32.82h2.29v2.29h-2.29zM436.90 34.80h2.29v2.29h-2.29zM409.12 36.79h2.29v2.29h-2.29zM488.51 36.79h2.29v2.29h-2.29zM407.13 38.78h2.29v2.29h-2.29zM488.51 38.78h2.29v2.29h-2.29zM407.13 40.76h2.29v2.29h-2.29zM446.83 40.76h4.27v2.29h-4.27zM488.51 40.76h2.29v2.29h-2.29zM488.51 42.75h2.29v2.29h-2.29zM329.72 44.73h2.29v2.29h-2.29zM409.12 44.73h2.29v2.29h-2.29zM488.51 44.73h2.29v2.29h-2.29zM327.73 46.72h2.29v2.29h-2.29zM385.30 46.72h2.29v2.29h-2.29zM323.76 50.69h2.29v2.29h-2.29zM383.31 50.69h2.29v2.29h-2.29zM393.24 50.69h4.27v2.29h-4.27zM313.83 52.67h2.29v2.29h-2.29zM379.34 52.67h2.29v2.29h-2.29zM448.81 52.67h2.29v2.29h-2.29zM379.34 54.66h2.29v2.29h-2.29zM403.16 54.66h2.29v2.29h-2.29zM305.89 56.64h4.27v2.29h-4.27zM313.83 56.64h2.29v2.29h-2.29zM379.34 56.64h2.29v2.29h-2.29zM393.24 56.64h2.29v2.29h-2.29zM413.09 56.64h2.29v2.29h-2.29zM379.34 58.62h2.29v2.29h-2.29zM303.91 60.61h2.29v2.29h-2.29zM379.34 60.61h2.29v2.29h-2.29zM484.55 60.61h2.29v2.29h-2.29zM293.99 62.60h2.29v2.29h-2.29zM367.43 62.60h2.29v2.29h-2.29zM379.34 62.60h2.29v2.29h-2.29zM446.83 62.60h2.29v2.29h-2.29zM345.60 64.58h2.29v2.29h-2.29zM379.34 64.58h2.29v2.29h-2.29zM478.59 68.55h2.29v2.29h-2.29zM415.07 72.52h2.29v2.29h-2.29zM438.89 74.51h2.29v2.29h-2.29zM355.52 76.49h4.27v2.29h-4.27zM403.16 76.49h2.29v2.29h-2.29zM409.12 76.49h2.29v2.29h-2.29zM425.00 78.48h4.27v2.29h-4.27zM411.10 80.46h2.29v2.29h-2.29zM423.01 80.46h2.29v2.29h-2.29zM409.12 82.45h2.29v2.29h-2.29zM415.07 86.42h2.29v2.29h-2.29zM355.52 90.39h2.29v2.29h-2.29zM411.10 94.36h2.29v2.29h-2.29zM351.55 96.34h2.29v2.29h-2.29zM411.10 96.34h2.29v2.29h-2.29zM295.97 100.31h2.29v2.29h-2.29zM369.42 100.31h2.29v2.29h-2.29zM411.10 100.31h2.29v2.29h-2.29zM297.95 102.30h2.29v2.29h-2.29zM319.79 102.30h4.27v2.29h-4.27zM351.55 102.30h2.29v2.29h-2.29zM365.44 102.30h2.29v2.29h-2.29zM411.10 104.28h2.29v2.29h-2.29zM367.43 106.27h6.25v2.29h-6.25zM309.87 108.25h2.29v2.29h-2.29zM345.60 108.25h8.24v2.29h-8.24zM359.49 108.25h2.29v2.29h-2.29zM373.38 108.25h4.27v2.29h-4.27zM379.34 108.25h2.29v2.29h-2.29zM421.02 108.25h2.29v2.29h-2.29zM428.97 108.25h4.27v2.29h-4.27zM341.62 110.23h2.29v2.29h-2.29zM401.18 110.23h2.29v2.29h-2.29zM448.81 110.23h2.29v2.29h-2.29zM381.32 112.22h2.29v2.29h-2.29zM387.28 112.22h2.29v2.29h-2.29zM425.00 112.22h2.29v2.29h-2.29zM434.92 112.22h2.29v2.29h-2.29zM309.87 114.20h2.29v2.29h-2.29zM351.55 114.20h2.29v2.29h-2.29zM389.26 114.20h2.29v2.29h-2.29zM347.58 116.19h2.29v2.29h-2.29zM389.26 116.19h2.29v2.29h-2.29zM389.26 118.18h2.29v2.29h-2.29zM389.26 120.16h2.29v2.29h-2.29zM397.20 120.16h2.29v2.29h-2.29zM423.01 120.16h2.29v2.29h-2.29zM391.25 122.15h2.29v2.29h-2.29zM421.02 122.15h2.29v2.29h-2.29zM353.54 124.13h2.29v2.29h-2.29zM379.34 124.13h4.27v2.29h-4.27zM428.97 124.13h2.29v2.29h-2.29zM381.32 126.12h2.29v2.29h-2.29zM452.78 126.12h2.29v2.29h-2.29zM379.34 128.10h2.29v2.29h-2.29zM369.42 130.09h4.27v2.29h-4.27zM421.02 130.09h2.29v2.29h-2.29zM444.85 130.09h2.29v2.29h-2.29zM397.20 132.07h2.29v2.29h-2.29zM446.83 132.07h2.29v2.29h-2.29zM347.58 134.06h2.29v2.29h-2.29zM425.00 134.06h2.29v2.29h-2.29zM432.94 134.06h2.29v2.29h-2.29zM440.88 134.06h2.29v2.29h-2.29zM442.86 136.04h2.29v2.29h-2.29zM462.71 145.97h2.29v2.29h-2.29zM292.00 149.94h2.29v2.29h-2.29zM315.82 149.94h2.29v2.29h-2.29zM293.99 151.92h2.29v2.29h-2.29zM440.88 151.92h2.29v2.29h-2.29zM295.97 153.91h2.29v2.29h-2.29zM464.70 155.89h2.29v2.29h-2.29zM391.25 157.88h2.29v2.29h-2.29zM450.80 159.86h2.29v2.29h-2.29zM458.74 159.86h4.27v2.29h-4.27zM470.65 159.86h2.29v2.29h-2.29zM315.82 161.84h2.29v2.29h-2.29zM470.65 161.84h4.27v2.29h-4.27zM357.50 163.83h6.25v2.29h-6.25zM341.62 167.80h2.29v2.29h-2.29zM397.20 167.80h4.27v2.29h-4.27zM405.14 171.77h2.29v2.29h-2.29zM413.09 171.77h2.29v2.29h-2.29zM383.31 175.74h2.29v2.29h-2.29zM383.31 177.72h2.29v2.29h-2.29zM409.12 179.71h2.29v2.29h-2.29zM423.01 179.71h2.29v2.29h-2.29zM413.09 181.70h6.25v2.29h-6.25zM411.10 183.68h2.29v2.29h-2.29zM415.07 183.68h2.29v2.29h-2.29zM456.75 183.68h2.29v2.29h-2.29zM454.77 185.67h2.29v2.29h-2.29zM385.30 187.65h2.29v2.29h-2.29zM403.16 187.65h2.29v2.29h-2.29zM478.59 187.65h2.29v2.29h-2.29zM385.30 189.64h2.29v2.29h-2.29zM401.18 189.64h2.29v2.29h-2.29zM292.00 191.62h4.27v2.29h-4.27zM419.04 191.62h2.29v2.29h-2.29zM423.01 193.61h2.29v2.29h-2.29zM399.19 195.59h2.29v2.29h-2.29zM480.58 195.59h2.29v2.29h-2.29zM478.59 197.58h2.29v2.29h-2.29zM371.40 199.56h2.29v2.29h-2.29zM383.31 199.56h2.29v2.29h-2.29zM419.04 199.56h2.29v2.29h-2.29zM371.40 201.55h2.29v2.29h-2.29zM419.04 201.55h2.29v2.29h-2.29zM305.89 203.53h2.29v2.29h-2.29zM371.40 203.53h2.29v2.29h-2.29zM450.80 203.53h2.29v2.29h-2.29zM476.61 203.53h2.29v2.29h-2.29zM305.89 205.52h2.29v2.29h-2.29zM371.40 205.52h2.29v2.29h-2.29z"/><path fill="#4563fd" d="M379.34 9.00h2.29v2.29h-2.29zM448.81 9.00h6.25v2.29h-6.25zM458.74 9.00h2.29v2.29h-2.29zM379.34 10.98h2.29v2.29h-2.29zM357.50 14.96h2.29v2.29h-2.29zM482.56 14.96h2.29v2.29h-2.29zM458.74 16.94h4.27v2.29h-4.27zM460.73 18.93h2.29v2.29h-2.29zM454.77 20.91h4.27v2.29h-4.27zM292.00 22.90h2.29v2.29h-2.29zM349.56 22.90h2.29v2.29h-2.29zM462.71 24.88h2.29v2.29h-2.29zM486.53 24.88h2.29v2.29h-2.29zM460.73 26.87h2.29v2.29h-2.29zM377.36 28.85h2.29v2.29h-2.29zM460.73 28.85h4.27v2.29h-4.27zM486.53 30.84h2.29v2.29h-2.29zM432.94 36.79h2.29v2.29h-2.29zM325.75 48.70h2.29v2.29h-2.29zM389.26 48.70h2.29v2.29h-2.29zM413.09 48.70h2.29v2.29h-2.29zM317.81 50.69h6.25v2.29h-6.25zM339.64 50.69h2.29v2.29h-2.29zM379.34 50.69h4.27v2.29h-4.27zM339.64 52.67h2.29v2.29h-2.29zM401.18 52.67h2.29v2.29h-2.29zM482.56 52.67h2.29v2.29h-2.29zM305.89 54.66h2.29v2.29h-2.29zM313.83 54.66h2.29v2.29h-2.29zM339.64 54.66h2.29v2.29h-2.29zM452.78 54.66h2.29v2.29h-2.29zM482.56 54.66h2.29v2.29h-2.29zM303.91 56.64h2.29v2.29h-2.29zM309.87 56.64h4.27v2.29h-4.27zM411.10 56.64h2.29v2.29h-2.29zM303.91 58.62h2.29v2.29h-2.29zM292.00 60.61h12.21v2.29h-12.21zM369.42 60.61h4.27v2.29h-4.27zM391.25 60.61h2.29v2.29h-2.29zM345.60 62.60h2.29v2.29h-2.29zM365.44 62.60h2.29v2.29h-2.29zM369.42 62.60h6.25v2.29h-6.25zM377.36 62.60h2.29v2.29h-2.29zM365.44 64.58h4.27v2.29h-4.27zM389.26 64.58h2.29v2.29h-2.29zM482.56 64.58h2.29v2.29h-2.29zM363.46 66.56h4.27v2.29h-4.27zM383.31 66.56h2.29v2.29h-2.29zM363.46 68.55h4.27v2.29h-4.27zM470.65 68.55h2.29v2.29h-2.29zM349.56 70.53h2.29v2.29h-2.29zM413.09 70.53h2.29v2.29h-2.29zM413.09 72.52h2.29v2.29h-2.29zM417.06 72.52h2.29v2.29h-2.29zM351.55 74.51h2.29v2.29h-2.29zM413.09 74.51h10.23v2.29h-10.23zM411.10 76.49h2.29v2.29h-2.29zM434.92 76.49h2.29v2.29h-2.29zM377.36 80.46h2.29v2.29h-2.29zM393.24 80.46h2.29v2.29h-2.29zM373.38 82.45h6.25v2.29h-6.25zM419.04 82.45h2.29v2.29h-2.29zM369.42 84.43h4.27v2.29h-4.27zM375.37 84.43h4.27v2.29h-4.27zM407.13 84.43h2.29v2.29h-2.29zM375.37 86.42h2.29v2.29h-2.29zM373.38 88.40h4.27v2.29h-4.27zM373.38 90.39h2.29v2.29h-2.29zM353.54 92.37h2.29v2.29h-2.29zM373.38 92.37h2.29v2.29h-2.29zM373.38 96.34h2.29v2.29h-2.29zM373.38 98.33h2.29v2.29h-2.29zM411.10 98.33h2.29v2.29h-2.29zM371.40 100.31h2.29v2.29h-2.29zM371.40 102.30h2.29v2.29h-2.29zM327.73 104.28h2.29v2.29h-2.29zM413.09 106.27h2.29v2.29h-2.29zM371.40 108.25h2.29v2.29h-2.29zM377.36 108.25h2.29v2.29h-2.29zM401.18 108.25h2.29v2.29h-2.29zM379.34 110.23h2.29v2.29h-2.29zM425.00 110.23h12.21v2.29h-12.21zM343.61 112.22h2.29v2.29h-2.29zM345.60 114.20h2.29v2.29h-2.29zM349.56 114.20h2.29v2.29h-2.29zM383.31 114.20h6.25v2.29h-6.25zM399.19 114.20h2.29v2.29h-2.29zM423.01 114.20h2.29v2.29h-2.29zM436.90 114.20h2.29v2.29h-2.29zM450.80 114.20h2.29v2.29h-2.29zM423.01 116.19h2.29v2.29h-2.29zM423.01 118.18h2.29v2.29h-2.29zM430.95 120.16h2.29v2.29h-2.29zM452.78 120.16h2.29v2.29h-2.29zM295.97 122.15h2.29v2.29h-2.29zM381.32 122.15h2.29v2.29h-2.29zM389.26 122.15h2.29v2.29h-2.29zM397.20 122.15h2.29v2.29h-2.29zM452.78 122.15h2.29v2.29h-2.29zM292.00 124.13h4.27v2.29h-4.27zM397.20 124.13h2.29v2.29h-2.29zM415.07 124.13h2.29v2.29h-2.29zM452.78 124.13h2.29v2.29h-2.29zM353.54 126.12h2.29v2.29h-2.29zM383.31 126.12h6.25v2.29h-6.25zM397.20 126.12h2.29v2.29h-2.29zM411.10 126.12h2.29v2.29h-2.29zM397.20 128.10h2.29v2.29h-2.29zM397.20 130.09h2.29v2.29h-2.29zM442.86 130.09h2.29v2.29h-2.29zM446.83 130.09h2.29v2.29h-2.29zM423.01 132.07h2.29v2.29h-2.29zM440.88 132.07h2.29v2.29h-2.29zM448.81 132.07h4.27v2.29h-4.27zM393.24 134.06h2.29v2.29h-2.29zM397.20 134.06h2.29v2.29h-2.29zM446.83 134.06h2.29v2.29h-2.29zM452.78 134.06h2.29v2.29h-2.29zM454.77 136.04h2.29v2.29h-2.29zM456.75 138.03h2.29v2.29h-2.29zM466.68 142.00h2.29v2.29h-2.29zM440.88 143.98h2.29v2.29h-2.29zM464.70 143.98h2.29v2.29h-2.29zM458.74 145.97h2.29v2.29h-2.29zM480.58 145.97h2.29v2.29h-2.29zM313.83 149.94h2.29v2.29h-2.29zM313.83 151.92h2.29v2.29h-2.29zM387.28 151.92h2.29v2.29h-2.29zM480.58 153.91h2.29v2.29h-2.29zM313.83 155.89h2.29v2.29h-2.29zM323.76 155.89h2.29v2.29h-2.29zM468.67 157.88h2.29v2.29h-2.29zM478.59 157.88h2.29v2.29h-2.29zM472.63 159.86h2.29v2.29h-2.29zM341.62 161.84h2.29v2.29h-2.29zM341.62 163.83h2.29v2.29h-2.29zM341.62 165.81h2.29v2.29h-2.29zM401.18 165.81h2.29v2.29h-2.29zM426.98 165.81h2.29v2.29h-2.29zM401.18 167.80h2.29v2.29h-2.29zM428.97 167.80h2.29v2.29h-2.29zM397.20 169.78h2.29v2.29h-2.29zM407.13 169.78h6.25v2.29h-6.25zM448.81 169.78h2.29v2.29h-2.29zM339.64 171.77h2.29v2.29h-2.29zM403.16 171.77h2.29v2.29h-2.29zM430.95 171.77h2.29v2.29h-2.29zM466.68 171.77h2.29v2.29h-2.29zM397.20 173.75h2.29v2.29h-2.29zM403.16 173.75h14.20v2.29h-14.20zM430.95 173.75h2.29v2.29h-2.29zM450.80 173.75h2.29v2.29h-2.29zM464.70 173.75h2.29v2.29h-2.29zM399.19 175.74h4.27v2.29h-4.27zM415.07 175.74h4.27v2.29h-4.27zM466.68 175.74h2.29v2.29h-2.29zM401.18 177.72h2.29v2.29h-2.29zM415.07 177.72h4.27v2.29h-4.27zM466.68 177.72h2.29v2.29h-2.29zM383.31 179.71h2.29v2.29h-2.29zM403.16 179.71h6.25v2.29h-6.25zM415.07 179.71h8.24v2.29h-8.24zM383.31 181.70h2.29v2.29h-2.29zM460.73 181.70h2.29v2.29h-2.29zM383.31 183.68h2.29v2.29h-2.29zM413.09 183.68h2.29v2.29h-2.29zM409.12 185.67h2.29v2.29h-2.29zM472.63 185.67h4.27v2.29h-4.27zM405.14 187.65h2.29v2.29h-2.29zM472.63 187.65h2.29v2.29h-2.29zM472.63 189.64h2.29v2.29h-2.29zM454.77 191.62h2.29v2.29h-2.29zM484.55 191.62h2.29v2.29h-2.29zM297.95 193.61h2.29v2.29h-2.29zM383.31 193.61h2.29v2.29h-2.29zM452.78 193.61h2.29v2.29h-2.29zM383.31 195.59h2.29v2.29h-2.29zM423.01 195.59h2.29v2.29h-2.29zM383.31 197.58h2.29v2.29h-2.29zM303.91 199.56h2.29v2.29h-2.29zM401.18 199.56h4.27v2.29h-4.27zM478.59 199.56h2.29v2.29h-2.29zM407.13 201.55h2.29v2.29h-2.29zM379.34 203.53h2.29v2.29h-2.29zM411.10 203.53h2.29v2.29h-2.29zM419.04 203.53h2.29v2.29h-2.29zM460.73 203.53h2.29v2.29h-2.29zM377.36 205.52h2.29v2.29h-2.29zM413.09 205.52h2.29v2.29h-2.29zM419.04 205.52h2.29v2.29h-2.29zM476.61 205.52h2.29v2.29h-2.29z"/><path fill="#4269fe" d="M454.77 9.00h4.27v2.29h-4.27zM444.85 10.98h2.29v2.29h-2.29zM452.78 10.98h6.25v2.29h-6.25zM456.75 12.97h2.29v2.29h-2.29zM456.75 14.96h2.29v2.29h-2.29zM456.75 16.94h2.29v2.29h-2.29zM299.94 18.93h2.29v2.29h-2.29zM311.85 18.93h2.29v2.29h-2.29zM383.31 18.93h2.29v2.29h-2.29zM454.77 18.93h6.25v2.29h-6.25zM462.71 18.93h2.29v2.29h-2.29zM486.53 18.93h2.29v2.29h-2.29zM313.83 20.91h2.29v2.29h-2.29zM353.54 20.91h2.29v2.29h-2.29zM438.89 20.91h2.29v2.29h-2.29zM452.78 20.91h2.29v2.29h-2.29zM458.74 20.91h8.24v2.29h-8.24zM293.99 22.90h2.29v2.29h-2.29zM321.77 22.90h2.29v2.29h-2.29zM458.74 22.90h2.29v2.29h-2.29zM462.71 22.90h2.29v2.29h-2.29zM466.68 22.90h2.29v2.29h-2.29zM317.81 24.88h2.29v2.29h-2.29zM466.68 24.88h2.29v2.29h-2.29zM319.79 26.87h2.29v2.29h-2.29zM464.70 26.87h2.29v2.29h-2.29zM367.43 28.85h10.23v2.29h-10.23zM323.76 32.82h2.29v2.29h-2.29zM387.28 32.82h2.29v2.29h-2.29zM395.22 32.82h2.29v2.29h-2.29zM444.85 32.82h2.29v2.29h-2.29zM397.20 34.80h2.29v2.29h-2.29zM355.52 36.79h2.29v2.29h-2.29zM353.54 38.78h2.29v2.29h-2.29zM409.12 42.75h2.29v2.29h-2.29zM397.20 46.72h2.29v2.29h-2.29zM411.10 46.72h2.29v2.29h-2.29zM339.64 48.70h2.29v2.29h-2.29zM415.07 50.69h2.29v2.29h-2.29zM377.36 52.67h2.29v2.29h-2.29zM303.91 54.66h2.29v2.29h-2.29zM307.88 54.66h6.25v2.29h-6.25zM377.36 54.66h2.29v2.29h-2.29zM377.36 56.64h2.29v2.29h-2.29zM377.36 58.62h2.29v2.29h-2.29zM393.24 58.62h2.29v2.29h-2.29zM367.43 60.61h2.29v2.29h-2.29zM373.38 60.61h6.25v2.29h-6.25zM375.37 62.60h2.29v2.29h-2.29zM363.46 64.58h2.29v2.29h-2.29zM369.42 64.58h10.23v2.29h-10.23zM367.43 66.56h10.23v2.29h-10.23zM379.34 66.56h4.27v2.29h-4.27zM385.30 66.56h2.29v2.29h-2.29zM472.63 68.55h2.29v2.29h-2.29zM476.61 68.55h2.29v2.29h-2.29zM363.46 70.53h2.29v2.29h-2.29zM357.50 74.51h2.29v2.29h-2.29zM411.10 74.51h2.29v2.29h-2.29zM413.09 76.49h2.29v2.29h-2.29zM421.02 76.49h4.27v2.29h-4.27zM413.09 78.48h2.29v2.29h-2.29zM423.01 78.48h2.29v2.29h-2.29zM391.25 82.45h2.29v2.29h-2.29zM367.43 84.43h2.29v2.29h-2.29zM373.38 84.43h2.29v2.29h-2.29zM373.38 86.42h2.29v2.29h-2.29zM377.36 86.42h2.29v2.29h-2.29zM357.50 88.40h2.29v2.29h-2.29zM411.10 88.40h2.29v2.29h-2.29zM357.50 90.39h2.29v2.29h-2.29zM353.54 94.36h2.29v2.29h-2.29zM373.38 94.36h2.29v2.29h-2.29zM371.40 98.33h2.29v2.29h-2.29zM367.43 100.31h2.29v2.29h-2.29zM373.38 100.31h2.29v2.29h-2.29zM401.18 102.30h2.29v2.29h-2.29zM297.95 104.28h2.29v2.29h-2.29zM292.00 108.25h4.27v2.29h-4.27zM419.04 108.25h2.29v2.29h-2.29zM333.69 110.23h2.29v2.29h-2.29zM343.61 110.23h14.20v2.29h-14.20zM423.01 110.23h2.29v2.29h-2.29zM436.90 110.23h4.27v2.29h-4.27zM345.60 112.22h8.24v2.29h-8.24zM379.34 112.22h2.29v2.29h-2.29zM423.01 112.22h2.29v2.29h-2.29zM436.90 112.22h2.29v2.29h-2.29zM347.58 114.20h2.29v2.29h-2.29zM381.32 114.20h2.29v2.29h-2.29zM383.31 116.19h6.25v2.29h-6.25zM436.90 116.19h2.29v2.29h-2.29zM381.32 118.18h8.24v2.29h-8.24zM434.92 118.18h2.29v2.29h-2.29zM295.97 120.16h2.29v2.29h-2.29zM381.32 120.16h8.24v2.29h-8.24zM353.54 122.15h2.29v2.29h-2.29zM379.34 122.15h2.29v2.29h-2.29zM383.31 122.15h6.25v2.29h-6.25zM419.04 122.15h2.29v2.29h-2.29zM383.31 124.13h8.24v2.29h-8.24zM428.97 126.12h2.29v2.29h-2.29zM377.36 128.10h2.29v2.29h-2.29zM411.10 128.10h2.29v2.29h-2.29zM450.80 128.10h2.29v2.29h-2.29zM373.38 130.09h2.29v2.29h-2.29zM379.34 130.09h2.29v2.29h-2.29zM428.97 130.09h2.29v2.29h-2.29zM448.81 130.09h2.29v2.29h-2.29zM343.61 134.06h2.29v2.29h-2.29zM448.81 134.06h4.27v2.29h-4.27zM395.22 136.04h2.29v2.29h-2.29zM425.00 136.04h2.29v2.29h-2.29zM444.85 136.04h2.29v2.29h-2.29zM476.61 142.00h2.29v2.29h-2.29zM292.00 147.95h2.29v2.29h-2.29zM315.82 147.95h4.27v2.29h-4.27zM480.58 147.95h2.29v2.29h-2.29zM317.81 149.94h2.29v2.29h-2.29zM387.28 149.94h2.29v2.29h-2.29zM480.58 149.94h2.29v2.29h-2.29zM315.82 151.92h2.29v2.29h-2.29zM480.58 151.92h2.29v2.29h-2.29zM311.85 153.91h4.27v2.29h-4.27zM325.75 153.91h2.29v2.29h-2.29zM387.28 153.91h2.29v2.29h-2.29zM325.75 155.89h2.29v2.29h-2.29zM395.22 155.89h2.29v2.29h-2.29zM323.76 157.88h2.29v2.29h-2.29zM423.01 157.88h2.29v2.29h-2.29zM315.82 159.86h2.29v2.29h-2.29zM317.81 161.84h2.29v2.29h-2.29zM399.19 161.84h2.29v2.29h-2.29zM423.01 161.84h2.29v2.29h-2.29zM359.49 165.81h4.27v2.29h-4.27zM359.49 167.80h2.29v2.29h-2.29zM357.50 169.78h4.27v2.29h-4.27zM399.19 169.78h8.24v2.29h-8.24zM413.09 169.78h2.29v2.29h-2.29zM397.20 171.77h2.29v2.29h-2.29zM401.18 171.77h2.29v2.29h-2.29zM399.19 173.75h4.27v2.29h-4.27zM466.68 173.75h2.29v2.29h-2.29zM403.16 175.74h4.27v2.29h-4.27zM413.09 175.74h2.29v2.29h-2.29zM403.16 177.72h2.29v2.29h-2.29zM409.12 177.72h4.27v2.29h-4.27zM426.98 177.72h2.29v2.29h-2.29zM361.48 179.71h2.29v2.29h-2.29zM466.68 179.71h2.29v2.29h-2.29zM462.71 181.70h2.29v2.29h-2.29zM383.31 185.67h2.29v2.29h-2.29zM454.77 187.65h2.29v2.29h-2.29zM470.65 187.65h2.29v2.29h-2.29zM415.07 189.64h2.29v2.29h-2.29zM454.77 189.64h2.29v2.29h-2.29zM466.68 189.64h6.25v2.29h-6.25zM482.56 189.64h2.29v2.29h-2.29zM417.06 191.62h2.29v2.29h-2.29zM454.77 193.61h10.23v2.29h-10.23zM484.55 193.61h2.29v2.29h-2.29zM462.71 195.59h2.29v2.29h-2.29zM482.56 195.59h2.29v2.29h-2.29zM371.40 197.58h2.29v2.29h-2.29zM421.02 197.58h2.29v2.29h-2.29zM373.38 201.55h2.29v2.29h-2.29zM381.32 201.55h2.29v2.29h-2.29zM417.06 201.55h2.29v2.29h-2.29zM373.38 203.53h2.29v2.29h-2.29zM417.06 203.53h2.29v2.29h-2.29zM373.38 205.52h4.27v2.29h-4.27zM415.07 205.52h4.27v2.29h-4.27zM452.78 205.52h2.29v2.29h-2.29z"/><path fill="#3e6fff" d="M446.83 10.98h6.25v2.29h-6.25zM379.34 12.97h2.29v2.29h-2.29zM438.89 14.96h2.29v2.29h-2.29zM357.50 16.94h2.29v2.29h-2.29zM462.71 16.94h2.29v2.29h-2.29zM297.95 20.91h2.29v2.29h-2.29zM315.82 22.90h2.29v2.29h-2.29zM460.73 22.90h2.29v2.29h-2.29zM319.79 24.88h2.29v2.29h-2.29zM381.32 24.88h2.29v2.29h-2.29zM444.85 24.88h2.29v2.29h-2.29zM460.73 24.88h2.29v2.29h-2.29zM317.81 26.87h2.29v2.29h-2.29zM349.56 26.87h2.29v2.29h-2.29zM317.81 28.85h2.29v2.29h-2.29zM365.44 28.85h2.29v2.29h-2.29zM321.77 32.82h2.29v2.29h-2.29zM363.46 32.82h2.29v2.29h-2.29zM385.30 32.82h2.29v2.29h-2.29zM389.26 32.82h2.29v2.29h-2.29zM440.88 32.82h2.29v2.29h-2.29zM486.53 32.82h2.29v2.29h-2.29zM430.95 36.79h2.29v2.29h-2.29zM434.92 36.79h2.29v2.29h-2.29zM409.12 38.78h2.29v2.29h-2.29zM446.83 42.75h4.27v2.29h-4.27zM327.73 44.73h2.29v2.29h-2.29zM387.28 44.73h2.29v2.29h-2.29zM486.53 46.72h2.29v2.29h-2.29zM323.76 48.70h2.29v2.29h-2.29zM383.31 48.70h2.29v2.29h-2.29zM377.36 50.69h2.29v2.29h-2.29zM448.81 50.69h2.29v2.29h-2.29zM395.22 52.67h2.29v2.29h-2.29zM450.80 52.67h2.29v2.29h-2.29zM409.12 56.64h2.29v2.29h-2.29zM482.56 56.64h2.29v2.29h-2.29zM301.93 58.62h2.29v2.29h-2.29zM373.38 58.62h4.27v2.29h-4.27zM363.46 62.60h2.29v2.29h-2.29zM347.58 66.56h2.29v2.29h-2.29zM377.36 66.56h2.29v2.29h-2.29zM480.58 66.56h2.29v2.29h-2.29zM474.62 68.55h2.29v2.29h-2.29zM361.48 70.53h2.29v2.29h-2.29zM440.88 70.53h2.29v2.29h-2.29zM361.48 72.52h2.29v2.29h-2.29zM411.10 72.52h2.29v2.29h-2.29zM353.54 74.51h4.27v2.29h-4.27zM359.49 74.51h2.29v2.29h-2.29zM405.14 74.51h6.25v2.29h-6.25zM423.01 74.51h2.29v2.29h-2.29zM415.07 76.49h2.29v2.29h-2.29zM425.00 76.49h2.29v2.29h-2.29zM432.94 76.49h2.29v2.29h-2.29zM413.09 80.46h2.29v2.29h-2.29zM421.02 80.46h2.29v2.29h-2.29zM409.12 84.43h2.29v2.29h-2.29zM371.40 86.42h2.29v2.29h-2.29zM355.52 92.37h2.29v2.29h-2.29zM351.55 98.33h2.29v2.29h-2.29zM293.99 100.31h2.29v2.29h-2.29zM351.55 100.31h2.29v2.29h-2.29zM353.54 102.30h2.29v2.29h-2.29zM363.46 102.30h2.29v2.29h-2.29zM403.16 102.30h2.29v2.29h-2.29zM297.95 106.27h2.29v2.29h-2.29zM329.72 106.27h2.29v2.29h-2.29zM295.97 108.25h2.29v2.29h-2.29zM331.70 108.25h2.29v2.29h-2.29zM377.36 110.23h2.29v2.29h-2.29zM440.88 110.23h4.27v2.29h-4.27zM446.83 110.23h2.29v2.29h-2.29zM353.54 112.22h2.29v2.29h-2.29zM401.18 112.22h2.29v2.29h-2.29zM381.32 116.19h2.29v2.29h-2.29zM450.80 116.19h2.29v2.29h-2.29zM421.02 120.16h2.29v2.29h-2.29zM417.06 122.15h2.29v2.29h-2.29zM295.97 124.13h2.29v2.29h-2.29zM411.10 124.13h4.27v2.29h-4.27zM377.36 126.12h2.29v2.29h-2.29zM450.80 126.12h2.29v2.29h-2.29zM428.97 128.10h2.29v2.29h-2.29zM448.81 128.10h2.29v2.29h-2.29zM375.37 130.09h4.27v2.29h-4.27zM425.00 138.03h2.29v2.29h-2.29zM313.83 140.01h2.29v2.29h-2.29zM425.00 140.01h2.29v2.29h-2.29zM456.75 140.01h2.29v2.29h-2.29zM468.67 142.00h2.29v2.29h-2.29zM478.59 143.98h2.29v2.29h-2.29zM425.00 145.97h2.29v2.29h-2.29zM442.86 145.97h2.29v2.29h-2.29zM442.86 147.95h2.29v2.29h-2.29zM293.99 149.94h2.29v2.29h-2.29zM442.86 149.94h2.29v2.29h-2.29zM297.95 153.91h2.29v2.29h-2.29zM309.87 153.91h2.29v2.29h-2.29zM323.76 153.91h2.29v2.29h-2.29zM387.28 155.89h4.27v2.29h-4.27zM466.68 155.89h2.29v2.29h-2.29zM321.77 157.88h2.29v2.29h-2.29zM321.77 159.86h2.29v2.29h-2.29zM341.62 159.86h2.29v2.29h-2.29zM377.36 159.86h2.29v2.29h-2.29zM474.62 159.86h2.29v2.29h-2.29zM363.46 161.84h2.29v2.29h-2.29zM468.67 161.84h2.29v2.29h-2.29zM425.00 163.83h2.29v2.29h-2.29zM470.65 163.83h2.29v2.29h-2.29zM357.50 165.81h2.29v2.29h-2.29zM357.50 167.80h2.29v2.29h-2.29zM403.16 167.80h2.29v2.29h-2.29zM448.81 167.80h2.29v2.29h-2.29zM466.68 169.78h2.29v2.29h-2.29zM329.72 171.77h2.29v2.29h-2.29zM359.49 171.77h2.29v2.29h-2.29zM399.19 171.77h2.29v2.29h-2.29zM415.07 171.77h2.29v2.29h-2.29zM464.70 171.77h2.29v2.29h-2.29zM383.31 173.75h2.29v2.29h-2.29zM417.06 173.75h2.29v2.29h-2.29zM452.78 173.75h2.29v2.29h-2.29zM456.75 173.75h2.29v2.29h-2.29zM462.71 173.75h2.29v2.29h-2.29zM407.13 175.74h6.25v2.29h-6.25zM361.48 177.72h2.29v2.29h-2.29zM405.14 177.72h4.27v2.29h-4.27zM419.04 177.72h2.29v2.29h-2.29zM365.44 183.68h2.29v2.29h-2.29zM458.74 183.68h2.29v2.29h-2.29zM411.10 185.67h4.27v2.29h-4.27zM470.65 185.67h2.29v2.29h-2.29zM476.61 185.67h2.29v2.29h-2.29zM369.42 187.65h2.29v2.29h-2.29zM468.67 187.65h2.29v2.29h-2.29zM369.42 189.64h2.29v2.29h-2.29zM403.16 189.64h2.29v2.29h-2.29zM383.31 191.62h2.29v2.29h-2.29zM401.18 191.62h2.29v2.29h-2.29zM464.70 191.62h4.27v2.29h-4.27zM421.02 193.61h2.29v2.29h-2.29zM450.80 195.59h2.29v2.29h-2.29zM460.73 195.59h2.29v2.29h-2.29zM401.18 197.58h2.29v2.29h-2.29zM419.04 197.58h2.29v2.29h-2.29zM373.38 199.56h2.29v2.29h-2.29zM405.14 199.56h2.29v2.29h-2.29zM417.06 199.56h2.29v2.29h-2.29zM375.37 203.53h4.27v2.29h-4.27zM413.09 203.53h4.27v2.29h-4.27z"/><path fill="#3875fe" d="M462.71 9.00h2.29v2.29h-2.29zM462.71 10.98h2.29v2.29h-2.29zM454.77 12.97h2.29v2.29h-2.29zM462.71 12.97h2.29v2.29h-2.29zM462.71 14.96h2.29v2.29h-2.29zM454.77 16.94h2.29v2.29h-2.29zM452.78 18.93h2.29v2.29h-2.29zM323.76 22.90h2.29v2.29h-2.29zM440.88 22.90h2.29v2.29h-2.29zM321.77 26.87h2.29v2.29h-2.29zM351.55 28.85h2.29v2.29h-2.29zM317.81 30.84h2.29v2.29h-2.29zM442.86 32.82h2.29v2.29h-2.29zM454.77 34.80h2.29v2.29h-2.29zM357.50 36.79h2.29v2.29h-2.29zM397.20 36.79h2.29v2.29h-2.29zM397.20 38.78h2.29v2.29h-2.29zM397.20 40.76h2.29v2.29h-2.29zM409.12 40.76h2.29v2.29h-2.29zM385.30 44.73h2.29v2.29h-2.29zM325.75 46.72h2.29v2.29h-2.29zM317.81 48.70h4.27v2.29h-4.27zM381.32 48.70h2.29v2.29h-2.29zM417.06 52.67h2.29v2.29h-2.29zM301.93 56.64h2.29v2.29h-2.29zM375.37 56.64h2.29v2.29h-2.29zM371.40 58.62h2.29v2.29h-2.29zM345.60 60.61h2.29v2.29h-2.29zM365.44 60.61h2.29v2.29h-2.29zM391.25 62.60h2.29v2.29h-2.29zM442.86 64.58h2.29v2.29h-2.29zM361.48 68.55h2.29v2.29h-2.29zM359.49 72.52h2.29v2.29h-2.29zM423.01 72.52h2.29v2.29h-2.29zM403.16 74.51h2.29v2.29h-2.29zM401.18 76.49h2.29v2.29h-2.29zM417.06 76.49h4.27v2.29h-4.27zM421.02 78.48h2.29v2.29h-2.29zM379.34 82.45h2.29v2.29h-2.29zM411.10 82.45h2.29v2.29h-2.29zM417.06 82.45h2.29v2.29h-2.29zM379.34 84.43h2.29v2.29h-2.29zM415.07 84.43h2.29v2.29h-2.29zM407.13 86.42h2.29v2.29h-2.29zM413.09 86.42h2.29v2.29h-2.29zM405.14 98.33h2.29v2.29h-2.29zM292.00 100.31h2.29v2.29h-2.29zM405.14 100.31h2.29v2.29h-2.29zM355.52 102.30h2.29v2.29h-2.29zM315.82 104.28h2.29v2.29h-2.29zM325.75 104.28h2.29v2.29h-2.29zM401.18 106.27h2.29v2.29h-2.29zM311.85 108.25h2.29v2.29h-2.29zM361.48 108.25h2.29v2.29h-2.29zM357.50 110.23h2.29v2.29h-2.29zM375.37 110.23h2.29v2.29h-2.29zM403.16 110.23h2.29v2.29h-2.29zM421.02 110.23h2.29v2.29h-2.29zM444.85 110.23h2.29v2.29h-2.29zM421.02 112.22h2.29v2.29h-2.29zM438.89 112.22h2.29v2.29h-2.29zM448.81 112.22h2.29v2.29h-2.29zM353.54 114.20h2.29v2.29h-2.29zM379.34 114.20h2.29v2.29h-2.29zM421.02 114.20h2.29v2.29h-2.29zM421.02 116.19h2.29v2.29h-2.29zM421.02 118.18h2.29v2.29h-2.29zM379.34 120.16h2.29v2.29h-2.29zM432.94 120.16h2.29v2.29h-2.29zM430.95 122.15h2.29v2.29h-2.29zM450.80 124.13h2.29v2.29h-2.29zM446.83 128.10h2.29v2.29h-2.29zM367.43 130.09h2.29v2.29h-2.29zM419.04 130.09h2.29v2.29h-2.29zM430.95 132.07h2.29v2.29h-2.29zM393.24 136.04h2.29v2.29h-2.29zM452.78 136.04h2.29v2.29h-2.29zM425.00 142.00h2.29v2.29h-2.29zM456.75 142.00h2.29v2.29h-2.29zM474.62 142.00h2.29v2.29h-2.29zM425.00 143.98h2.29v2.29h-2.29zM442.86 143.98h2.29v2.29h-2.29zM456.75 143.98h2.29v2.29h-2.29zM292.00 145.97h2.29v2.29h-2.29zM425.00 147.95h2.29v2.29h-2.29zM317.81 151.92h2.29v2.29h-2.29zM385.30 151.92h2.29v2.29h-2.29zM327.73 153.91h2.29v2.29h-2.29zM385.30 153.91h2.29v2.29h-2.29zM389.26 153.91h2.29v2.29h-2.29zM321.77 155.89h2.29v2.29h-2.29zM391.25 155.89h4.27v2.29h-4.27zM397.20 155.89h2.29v2.29h-2.29zM343.61 157.88h2.29v2.29h-2.29zM476.61 157.88h2.29v2.29h-2.29zM323.76 159.86h2.29v2.29h-2.29zM361.48 159.86h2.29v2.29h-2.29zM379.34 159.86h2.29v2.29h-2.29zM476.61 159.86h2.29v2.29h-2.29zM319.79 161.84h4.27v2.29h-4.27zM377.36 161.84h4.27v2.29h-4.27zM363.46 163.83h2.29v2.29h-2.29zM472.63 163.83h2.29v2.29h-2.29zM325.75 167.80h2.29v2.29h-2.29zM361.48 167.80h2.29v2.29h-2.29zM454.77 173.75h2.29v2.29h-2.29zM458.74 173.75h4.27v2.29h-4.27zM361.48 175.74h2.29v2.29h-2.29zM419.04 175.74h2.29v2.29h-2.29zM363.46 179.71h2.29v2.29h-2.29zM464.70 181.70h2.29v2.29h-2.29zM367.43 183.68h2.29v2.29h-2.29zM470.65 183.68h4.27v2.29h-4.27zM456.75 185.67h2.29v2.29h-2.29zM407.13 187.65h2.29v2.29h-2.29zM480.58 187.65h2.29v2.29h-2.29zM456.75 191.62h2.29v2.29h-2.29zM462.71 191.62h2.29v2.29h-2.29zM295.97 193.61h2.29v2.29h-2.29zM401.18 193.61h2.29v2.29h-2.29zM299.94 195.59h2.29v2.29h-2.29zM401.18 195.59h2.29v2.29h-2.29zM421.02 195.59h2.29v2.29h-2.29zM458.74 195.59h2.29v2.29h-2.29zM480.58 197.58h2.29v2.29h-2.29zM303.91 201.55h2.29v2.29h-2.29zM409.12 201.55h2.29v2.29h-2.29zM450.80 201.55h2.29v2.29h-2.29zM460.73 201.55h2.29v2.29h-2.29zM452.78 203.53h2.29v2.29h-2.29z"/><path fill="#327cfc" d="M377.36 9.00h2.29v2.29h-2.29zM452.78 12.97h2.29v2.29h-2.29zM480.58 12.97h2.29v2.29h-2.29zM454.77 14.96h2.29v2.29h-2.29zM438.89 16.94h2.29v2.29h-2.29zM301.93 18.93h2.29v2.29h-2.29zM309.87 18.93h2.29v2.29h-2.29zM438.89 18.93h2.29v2.29h-2.29zM464.70 18.93h2.29v2.29h-2.29zM311.85 20.91h2.29v2.29h-2.29zM450.80 20.91h2.29v2.29h-2.29zM295.97 22.90h2.29v2.29h-2.29zM349.56 24.88h2.29v2.29h-2.29zM323.76 26.87h2.29v2.29h-2.29zM363.46 28.85h2.29v2.29h-2.29zM383.31 32.82h2.29v2.29h-2.29zM391.25 32.82h4.27v2.29h-4.27zM486.53 34.80h2.29v2.29h-2.29zM452.78 36.79h2.29v2.29h-2.29zM411.10 38.78h2.29v2.29h-2.29zM450.80 38.78h2.29v2.29h-2.29zM397.20 42.75h2.29v2.29h-2.29zM397.20 44.73h2.29v2.29h-2.29zM411.10 44.73h2.29v2.29h-2.29zM446.83 44.73h4.27v2.29h-4.27zM383.31 46.72h2.29v2.29h-2.29zM321.77 48.70h2.29v2.29h-2.29zM379.34 48.70h2.29v2.29h-2.29zM395.22 48.70h2.29v2.29h-2.29zM448.81 48.70h2.29v2.29h-2.29zM399.19 52.67h2.29v2.29h-2.29zM375.37 54.66h2.29v2.29h-2.29zM407.13 56.64h2.29v2.29h-2.29zM292.00 58.62h4.27v2.29h-4.27zM299.94 58.62h2.29v2.29h-2.29zM343.61 58.62h2.29v2.29h-2.29zM393.24 60.61h2.29v2.29h-2.29zM446.83 60.61h2.29v2.29h-2.29zM482.56 62.60h2.29v2.29h-2.29zM361.48 66.56h2.29v2.29h-2.29zM387.28 66.56h2.29v2.29h-2.29zM411.10 70.53h2.29v2.29h-2.29zM351.55 72.52h2.29v2.29h-2.29zM357.50 72.52h2.29v2.29h-2.29zM425.00 74.51h2.29v2.29h-2.29zM436.90 74.51h2.29v2.29h-2.29zM426.98 76.49h6.25v2.29h-6.25zM377.36 78.48h2.29v2.29h-2.29zM415.07 78.48h2.29v2.29h-2.29zM379.34 80.46h2.29v2.29h-2.29zM369.42 86.42h2.29v2.29h-2.29zM409.12 86.42h2.29v2.29h-2.29zM371.40 88.40h2.29v2.29h-2.29zM409.12 88.40h2.29v2.29h-2.29zM409.12 90.39h2.29v2.29h-2.29zM409.12 92.37h2.29v2.29h-2.29zM409.12 94.36h2.29v2.29h-2.29zM371.40 96.34h2.29v2.29h-2.29zM369.42 98.33h2.29v2.29h-2.29zM295.97 102.30h2.29v2.29h-2.29zM357.50 102.30h6.25v2.29h-6.25zM409.12 102.30h2.29v2.29h-2.29zM401.18 104.28h2.29v2.29h-2.29zM409.12 104.28h2.29v2.29h-2.29zM411.10 106.27h2.29v2.29h-2.29zM369.42 108.25h2.29v2.29h-2.29zM403.16 108.25h2.29v2.29h-2.29zM417.06 108.25h2.29v2.29h-2.29zM311.85 110.23h2.29v2.29h-2.29zM373.38 110.23h2.29v2.29h-2.29zM438.89 114.20h2.29v2.29h-2.29zM353.54 116.19h2.29v2.29h-2.29zM379.34 116.19h2.29v2.29h-2.29zM399.19 116.19h2.29v2.29h-2.29zM379.34 118.18h2.29v2.29h-2.29zM436.90 118.18h2.29v2.29h-2.29zM450.80 118.18h2.29v2.29h-2.29zM353.54 120.16h2.29v2.29h-2.29zM409.12 122.15h4.27v2.29h-4.27zM415.07 122.15h2.29v2.29h-2.29zM450.80 122.15h2.29v2.29h-2.29zM409.12 124.13h2.29v2.29h-2.29zM409.12 126.12h2.29v2.29h-2.29zM448.81 126.12h2.29v2.29h-2.29zM444.85 128.10h2.29v2.29h-2.29zM391.25 134.06h2.29v2.29h-2.29zM434.92 134.06h2.29v2.29h-2.29zM397.20 136.04h2.29v2.29h-2.29zM446.83 136.04h2.29v2.29h-2.29zM470.65 142.00h4.27v2.29h-4.27zM315.82 145.97h2.29v2.29h-2.29zM456.75 145.97h2.29v2.29h-2.29zM464.70 145.97h2.29v2.29h-2.29zM319.79 149.94h2.29v2.29h-2.29zM295.97 151.92h2.29v2.29h-2.29zM311.85 151.92h2.29v2.29h-2.29zM299.94 153.91h2.29v2.29h-2.29zM307.88 153.91h2.29v2.29h-2.29zM315.82 153.91h2.29v2.29h-2.29zM321.77 153.91h2.29v2.29h-2.29zM327.73 155.89h2.29v2.29h-2.29zM385.30 155.89h2.29v2.29h-2.29zM478.59 155.89h2.29v2.29h-2.29zM315.82 157.88h2.29v2.29h-2.29zM345.60 157.88h2.29v2.29h-2.29zM375.37 159.86h2.29v2.29h-2.29zM478.59 159.86h2.29v2.29h-2.29zM486.53 159.86h4.27v2.29h-4.27zM450.80 161.84h2.29v2.29h-2.29zM401.18 163.83h2.29v2.29h-2.29zM327.73 169.78h2.29v2.29h-2.29zM361.48 169.78h2.29v2.29h-2.29zM428.97 169.78h2.29v2.29h-2.29zM468.67 169.78h2.29v2.29h-2.29zM331.70 171.77h2.29v2.29h-2.29zM450.80 171.77h2.29v2.29h-2.29zM468.67 171.77h2.29v2.29h-2.29zM428.97 175.74h2.29v2.29h-2.29zM421.02 177.72h2.29v2.29h-2.29zM425.00 177.72h2.29v2.29h-2.29zM468.67 179.71h2.29v2.29h-2.29zM466.68 181.70h2.29v2.29h-2.29zM460.73 183.68h2.29v2.29h-2.29zM369.42 185.67h2.29v2.29h-2.29zM468.67 185.67h2.29v2.29h-2.29zM413.09 187.65h2.29v2.29h-2.29zM466.68 187.65h2.29v2.29h-2.29zM464.70 189.64h2.29v2.29h-2.29zM484.55 189.64h2.29v2.29h-2.29zM369.42 191.62h2.29v2.29h-2.29zM458.74 191.62h4.27v2.29h-4.27zM486.53 191.62h2.29v2.29h-2.29zM419.04 193.61h2.29v2.29h-2.29zM371.40 195.59h2.29v2.29h-2.29zM301.93 197.58h2.29v2.29h-2.29zM373.38 197.58h2.29v2.29h-2.29zM403.16 197.58h2.29v2.29h-2.29zM460.73 197.58h2.29v2.29h-2.29zM415.07 201.55h2.29v2.29h-2.29zM478.59 201.55h2.29v2.29h-2.29zM458.74 205.52h2.29v2.29h-2.29z"/><path fill="#2f81fa" d="M480.58 9.00h2.29v2.29h-2.29zM377.36 10.98h2.29v2.29h-2.29zM480.58 10.98h2.29v2.29h-2.29zM440.88 12.97h2.29v2.29h-2.29zM379.34 14.96h2.29v2.29h-2.29zM303.91 18.93h2.29v2.29h-2.29zM299.94 20.91h2.29v2.29h-2.29zM381.32 20.91h2.29v2.29h-2.29zM381.32 22.90h2.29v2.29h-2.29zM321.77 24.88h2.29v2.29h-2.29zM361.48 28.85h2.29v2.29h-2.29zM460.73 30.84h2.29v2.29h-2.29zM319.79 32.82h2.29v2.29h-2.29zM365.44 32.82h2.29v2.29h-2.29zM377.36 32.82h6.25v2.29h-6.25zM361.48 34.80h2.29v2.29h-2.29zM438.89 34.80h2.29v2.29h-2.29zM444.85 34.80h2.29v2.29h-2.29zM486.53 36.79h2.29v2.29h-2.29zM486.53 38.78h2.29v2.29h-2.29zM351.55 40.76h2.29v2.29h-2.29zM486.53 40.76h2.29v2.29h-2.29zM486.53 42.75h2.29v2.29h-2.29zM325.75 44.73h2.29v2.29h-2.29zM486.53 44.73h2.29v2.29h-2.29zM323.76 46.72h2.29v2.29h-2.29zM413.09 46.72h2.29v2.29h-2.29zM446.83 46.72h4.27v2.29h-4.27zM377.36 48.70h2.29v2.29h-2.29zM415.07 48.70h2.29v2.29h-2.29zM446.83 48.70h2.29v2.29h-2.29zM446.83 50.69h2.29v2.29h-2.29zM482.56 50.69h2.29v2.29h-2.29zM375.37 52.67h2.29v2.29h-2.29zM446.83 52.67h2.29v2.29h-2.29zM301.93 54.66h2.29v2.29h-2.29zM446.83 54.66h2.29v2.29h-2.29zM373.38 56.64h2.29v2.29h-2.29zM405.14 56.64h2.29v2.29h-2.29zM295.97 58.62h4.27v2.29h-4.27zM369.42 58.62h2.29v2.29h-2.29zM482.56 58.62h2.29v2.29h-2.29zM349.56 68.55h2.29v2.29h-2.29zM413.09 68.55h2.29v2.29h-2.29zM440.88 68.55h2.29v2.29h-2.29zM359.49 70.53h2.29v2.29h-2.29zM409.12 72.52h2.29v2.29h-2.29zM419.04 78.48h2.29v2.29h-2.29zM415.07 80.46h2.29v2.29h-2.29zM419.04 80.46h2.29v2.29h-2.29zM413.09 82.45h4.27v2.29h-4.27zM411.10 86.42h2.29v2.29h-2.29zM353.54 96.34h2.29v2.29h-2.29zM405.14 96.34h2.29v2.29h-2.29zM409.12 96.34h2.29v2.29h-2.29zM409.12 98.33h2.29v2.29h-2.29zM409.12 100.31h2.29v2.29h-2.29zM405.14 102.30h2.29v2.29h-2.29zM317.81 104.28h2.29v2.29h-2.29zM323.76 104.28h2.29v2.29h-2.29zM311.85 112.22h2.29v2.29h-2.29zM353.54 118.18h2.29v2.29h-2.29zM419.04 120.16h2.29v2.29h-2.29zM450.80 120.16h2.29v2.29h-2.29zM297.95 122.15h2.29v2.29h-2.29zM413.09 122.15h2.29v2.29h-2.29zM377.36 124.13h2.29v2.29h-2.29zM375.37 128.10h2.29v2.29h-2.29zM415.07 130.09h4.27v2.29h-4.27zM440.88 130.09h2.29v2.29h-2.29zM349.56 134.06h2.29v2.29h-2.29zM423.01 134.06h2.29v2.29h-2.29zM448.81 136.04h4.27v2.29h-4.27zM454.77 138.03h2.29v2.29h-2.29zM466.68 143.98h2.29v2.29h-2.29zM293.99 147.95h2.29v2.29h-2.29zM313.83 147.95h2.29v2.29h-2.29zM385.30 149.94h2.29v2.29h-2.29zM319.79 151.92h4.27v2.29h-4.27zM389.26 151.92h2.29v2.29h-2.29zM301.93 153.91h6.25v2.29h-6.25zM315.82 155.89h2.29v2.29h-2.29zM325.75 157.88h2.29v2.29h-2.29zM470.65 157.88h2.29v2.29h-2.29zM319.79 159.86h2.29v2.29h-2.29zM399.19 159.86h2.29v2.29h-2.29zM421.02 159.86h2.29v2.29h-2.29zM480.58 159.86h6.25v2.29h-6.25zM452.78 161.84h2.29v2.29h-2.29zM466.68 161.84h2.29v2.29h-2.29zM474.62 161.84h2.29v2.29h-2.29zM426.98 167.80h2.29v2.29h-2.29zM464.70 169.78h2.29v2.29h-2.29zM337.65 171.77h2.29v2.29h-2.29zM361.48 171.77h2.29v2.29h-2.29zM361.48 173.75h2.29v2.29h-2.29zM468.67 173.75h2.29v2.29h-2.29zM468.67 175.74h2.29v2.29h-2.29zM363.46 177.72h2.29v2.29h-2.29zM423.01 177.72h2.29v2.29h-2.29zM468.67 177.72h2.29v2.29h-2.29zM468.67 181.70h2.29v2.29h-2.29zM381.32 183.68h2.29v2.29h-2.29zM468.67 183.68h2.29v2.29h-2.29zM474.62 183.68h2.29v2.29h-2.29zM381.32 185.67h2.29v2.29h-2.29zM478.59 185.67h2.29v2.29h-2.29zM409.12 187.65h2.29v2.29h-2.29zM405.14 189.64h2.29v2.29h-2.29zM419.04 195.59h2.29v2.29h-2.29zM456.75 195.59h2.29v2.29h-2.29zM417.06 197.58h2.29v2.29h-2.29zM381.32 199.56h2.29v2.29h-2.29zM407.13 199.56h2.29v2.29h-2.29zM375.37 201.55h2.29v2.29h-2.29zM379.34 201.55h2.29v2.29h-2.29zM458.74 203.53h2.29v2.29h-2.29zM454.77 205.52h2.29v2.29h-2.29z"/><path fill="#2e87f7" d="M450.80 12.97h2.29v2.29h-2.29zM452.78 16.94h2.29v2.29h-2.29zM484.55 16.94h2.29v2.29h-2.29zM305.89 18.93h4.27v2.29h-4.27zM357.50 18.93h2.29v2.29h-2.29zM381.32 18.93h2.29v2.29h-2.29zM450.80 18.93h2.29v2.29h-2.29zM466.68 20.91h2.29v2.29h-2.29zM313.83 22.90h2.29v2.29h-2.29zM292.00 24.88h2.29v2.29h-2.29zM315.82 24.88h2.29v2.29h-2.29zM323.76 24.88h2.29v2.29h-2.29zM379.34 26.87h2.29v2.29h-2.29zM353.54 28.85h2.29v2.29h-2.29zM375.37 32.82h2.29v2.29h-2.29zM323.76 34.80h2.29v2.29h-2.29zM436.90 36.79h2.29v2.29h-2.29zM355.52 38.78h2.29v2.29h-2.29zM413.09 38.78h2.29v2.29h-2.29zM353.54 40.76h2.29v2.29h-2.29zM411.10 40.76h2.29v2.29h-2.29zM325.75 42.75h2.29v2.29h-2.29zM411.10 42.75h2.29v2.29h-2.29zM319.79 46.72h2.29v2.29h-2.29zM341.62 46.72h2.29v2.29h-2.29zM389.26 46.72h2.29v2.29h-2.29zM484.55 48.70h2.29v2.29h-2.29zM417.06 50.69h2.29v2.29h-2.29zM397.20 52.67h2.29v2.29h-2.29zM401.18 54.66h2.29v2.29h-2.29zM341.62 56.64h2.29v2.29h-2.29zM446.83 56.64h2.29v2.29h-2.29zM446.83 58.62h2.29v2.29h-2.29zM363.46 60.61h2.29v2.29h-2.29zM482.56 60.61h2.29v2.29h-2.29zM361.48 64.58h2.29v2.29h-2.29zM381.32 68.55h2.29v2.29h-2.29zM425.00 70.53h2.29v2.29h-2.29zM355.52 72.52h2.29v2.29h-2.29zM425.00 72.52h2.29v2.29h-2.29zM401.18 74.51h2.29v2.29h-2.29zM417.06 78.48h2.29v2.29h-2.29zM391.25 80.46h2.29v2.29h-2.29zM417.06 80.46h2.29v2.29h-2.29zM411.10 84.43h4.27v2.29h-4.27zM359.49 88.40h2.29v2.29h-2.29zM407.13 88.40h2.29v2.29h-2.29zM371.40 90.39h2.29v2.29h-2.29zM357.50 92.37h2.29v2.29h-2.29zM355.52 94.36h2.29v2.29h-2.29zM371.40 94.36h2.29v2.29h-2.29zM365.44 100.31h2.29v2.29h-2.29zM295.97 106.27h2.29v2.29h-2.29zM327.73 106.27h2.29v2.29h-2.29zM329.72 108.25h2.29v2.29h-2.29zM363.46 108.25h2.29v2.29h-2.29zM367.43 108.25h2.29v2.29h-2.29zM415.07 108.25h2.29v2.29h-2.29zM331.70 110.23h2.29v2.29h-2.29zM419.04 110.23h2.29v2.29h-2.29zM377.36 112.22h2.29v2.29h-2.29zM440.88 112.22h2.29v2.29h-2.29zM419.04 114.20h2.29v2.29h-2.29zM305.89 116.19h4.27v2.29h-4.27zM419.04 116.19h2.29v2.29h-2.29zM438.89 116.19h2.29v2.29h-2.29zM409.12 120.16h4.27v2.29h-4.27zM434.92 120.16h2.29v2.29h-2.29zM448.81 124.13h2.29v2.29h-2.29zM446.83 126.12h2.29v2.29h-2.29zM442.86 128.10h2.29v2.29h-2.29zM413.09 130.09h2.29v2.29h-2.29zM391.25 136.04h2.29v2.29h-2.29zM313.83 138.03h2.29v2.29h-2.29zM313.83 142.00h2.29v2.29h-2.29zM442.86 142.00h2.29v2.29h-2.29zM387.28 147.95h2.29v2.29h-2.29zM323.76 151.92h2.29v2.29h-2.29zM317.81 153.91h4.27v2.29h-4.27zM329.72 153.91h2.29v2.29h-2.29zM377.36 157.88h2.29v2.29h-2.29zM474.62 157.88h2.29v2.29h-2.29zM317.81 159.86h2.29v2.29h-2.29zM323.76 161.84h2.29v2.29h-2.29zM363.46 165.81h2.29v2.29h-2.29zM470.65 165.81h2.29v2.29h-2.29zM468.67 167.80h2.29v2.29h-2.29zM339.64 169.78h2.29v2.29h-2.29zM415.07 169.78h2.29v2.29h-2.29zM333.69 171.77h4.27v2.29h-4.27zM417.06 171.77h2.29v2.29h-2.29zM462.71 171.77h2.29v2.29h-2.29zM419.04 173.75h2.29v2.29h-2.29zM365.44 181.70h2.29v2.29h-2.29zM381.32 181.70h2.29v2.29h-2.29zM470.65 181.70h2.29v2.29h-2.29zM458.74 185.67h2.29v2.29h-2.29zM411.10 187.65h2.29v2.29h-2.29zM456.75 187.65h2.29v2.29h-2.29zM464.70 187.65h2.29v2.29h-2.29zM456.75 189.64h2.29v2.29h-2.29zM462.71 189.64h2.29v2.29h-2.29zM403.16 191.62h2.29v2.29h-2.29zM415.07 191.62h2.29v2.29h-2.29zM488.51 191.62h2.29v2.29h-2.29zM292.00 193.61h4.27v2.29h-4.27zM486.53 193.61h2.29v2.29h-2.29zM452.78 195.59h4.27v2.29h-4.27zM381.32 197.58h2.29v2.29h-2.29zM450.80 197.58h2.29v2.29h-2.29zM377.36 201.55h2.29v2.29h-2.29zM411.10 201.55h4.27v2.29h-4.27zM303.91 203.53h2.29v2.29h-2.29zM303.91 205.52h2.29v2.29h-2.29z"/><path fill="#2d8cf3" d="M377.36 12.97h2.29v2.29h-2.29zM452.78 14.96h2.29v2.29h-2.29zM464.70 16.94h2.29v2.29h-2.29zM309.87 20.91h2.29v2.29h-2.29zM355.52 20.91h2.29v2.29h-2.29zM442.86 22.90h2.29v2.29h-2.29zM293.99 24.88h2.29v2.29h-2.29zM315.82 26.87h2.29v2.29h-2.29zM466.68 26.87h2.29v2.29h-2.29zM315.82 28.85h2.29v2.29h-2.29zM359.49 28.85h2.29v2.29h-2.29zM464.70 28.85h2.29v2.29h-2.29zM367.43 32.82h2.29v2.29h-2.29zM373.38 32.82h2.29v2.29h-2.29zM387.28 34.80h2.29v2.29h-2.29zM395.22 34.80h2.29v2.29h-2.29zM444.85 36.79h2.29v2.29h-2.29zM415.07 38.78h2.29v2.29h-2.29zM325.75 40.76h2.29v2.29h-2.29zM323.76 44.73h2.29v2.29h-2.29zM341.62 44.73h2.29v2.29h-2.29zM321.77 46.72h2.29v2.29h-2.29zM381.32 46.72h2.29v2.29h-2.29zM341.62 48.70h2.29v2.29h-2.29zM391.25 48.70h2.29v2.29h-2.29zM375.37 50.69h2.29v2.29h-2.29zM395.22 54.66h2.29v2.29h-2.29zM426.98 56.64h2.29v2.29h-2.29zM367.43 58.62h2.29v2.29h-2.29zM426.98 58.62h2.29v2.29h-2.29zM444.85 62.60h2.29v2.29h-2.29zM347.58 64.58h2.29v2.29h-2.29zM391.25 64.58h2.29v2.29h-2.29zM478.59 66.56h2.29v2.29h-2.29zM359.49 68.55h2.29v2.29h-2.29zM353.54 72.52h2.29v2.29h-2.29zM426.98 74.51h2.29v2.29h-2.29zM434.92 74.51h2.29v2.29h-2.29zM379.34 78.48h2.29v2.29h-2.29zM367.43 86.42h2.29v2.29h-2.29zM359.49 90.39h2.29v2.29h-2.29zM371.40 92.37h2.29v2.29h-2.29zM407.13 96.34h2.29v2.29h-2.29zM407.13 98.33h2.29v2.29h-2.29zM353.54 100.31h2.29v2.29h-2.29zM407.13 100.31h2.29v2.29h-2.29zM407.13 102.30h2.29v2.29h-2.29zM295.97 104.28h2.29v2.29h-2.29zM319.79 104.28h4.27v2.29h-4.27zM403.16 104.28h2.29v2.29h-2.29zM315.82 106.27h2.29v2.29h-2.29zM403.16 106.27h2.29v2.29h-2.29zM409.12 106.27h2.29v2.29h-2.29zM313.83 108.25h2.29v2.29h-2.29zM365.44 108.25h2.29v2.29h-2.29zM355.52 112.22h2.29v2.29h-2.29zM403.16 112.22h2.29v2.29h-2.29zM419.04 112.22h2.29v2.29h-2.29zM401.18 114.20h2.29v2.29h-2.29zM448.81 114.20h2.29v2.29h-2.29zM409.12 118.18h4.27v2.29h-4.27zM419.04 118.18h2.29v2.29h-2.29zM417.06 120.16h2.29v2.29h-2.29zM297.95 124.13h2.29v2.29h-2.29zM430.95 124.13h2.29v2.29h-2.29zM409.12 128.10h2.29v2.29h-2.29zM421.02 132.07h2.29v2.29h-2.29zM444.85 138.03h2.29v2.29h-2.29zM476.61 143.98h2.29v2.29h-2.29zM478.59 145.97h2.29v2.29h-2.29zM423.01 147.95h2.29v2.29h-2.29zM464.70 147.95h2.29v2.29h-2.29zM311.85 149.94h2.29v2.29h-2.29zM452.78 149.94h2.29v2.29h-2.29zM325.75 151.92h2.29v2.29h-2.29zM383.31 153.91h2.29v2.29h-2.29zM391.25 153.91h2.29v2.29h-2.29zM319.79 155.89h2.29v2.29h-2.29zM329.72 155.89h2.29v2.29h-2.29zM383.31 155.89h2.29v2.29h-2.29zM468.67 155.89h2.29v2.29h-2.29zM319.79 157.88h2.29v2.29h-2.29zM347.58 157.88h2.29v2.29h-2.29zM379.34 157.88h2.29v2.29h-2.29zM399.19 157.88h2.29v2.29h-2.29zM468.67 163.83h2.29v2.29h-2.29zM403.16 165.81h2.29v2.29h-2.29zM405.14 167.80h2.29v2.29h-2.29zM466.68 167.80h2.29v2.29h-2.29zM450.80 169.78h2.29v2.29h-2.29zM421.02 175.74h2.29v2.29h-2.29zM462.71 183.68h2.29v2.29h-2.29zM466.68 183.68h2.29v2.29h-2.29zM466.68 185.67h2.29v2.29h-2.29zM482.56 187.65h2.29v2.29h-2.29zM413.09 189.64h2.29v2.29h-2.29zM486.53 189.64h2.29v2.29h-2.29zM371.40 193.61h2.29v2.29h-2.29zM381.32 193.61h2.29v2.29h-2.29zM417.06 193.61h2.29v2.29h-2.29zM373.38 195.59h2.29v2.29h-2.29zM381.32 195.59h2.29v2.29h-2.29zM403.16 195.59h2.29v2.29h-2.29zM484.55 195.59h2.29v2.29h-2.29zM405.14 197.58h2.29v2.29h-2.29zM415.07 199.56h2.29v2.29h-2.29zM450.80 199.56h2.29v2.29h-2.29zM454.77 203.53h2.29v2.29h-2.29zM478.59 203.53h2.29v2.29h-2.29zM456.75 205.52h2.29v2.29h-2.29z"/><path fill="#2b91ef" d="M448.81 12.97h2.29v2.29h-2.29zM480.58 14.96h2.29v2.29h-2.29zM379.34 16.94h2.29v2.29h-2.29zM301.93 20.91h2.29v2.29h-2.29zM297.95 22.90h2.29v2.29h-2.29zM351.55 22.90h2.29v2.29h-2.29zM355.52 28.85h4.27v2.29h-4.27zM315.82 30.84h2.29v2.29h-2.29zM462.71 30.84h2.29v2.29h-2.29zM317.81 32.82h2.29v2.29h-2.29zM369.42 32.82h4.27v2.29h-4.27zM321.77 34.80h2.29v2.29h-2.29zM385.30 34.80h2.29v2.29h-2.29zM389.26 34.80h2.29v2.29h-2.29zM323.76 38.78h2.29v2.29h-2.29zM417.06 38.78h16.18v2.29h-16.18zM323.76 40.76h2.29v2.29h-2.29zM413.09 40.76h2.29v2.29h-2.29zM425.00 40.76h4.27v2.29h-4.27zM323.76 42.75h2.29v2.29h-2.29zM387.28 42.75h2.29v2.29h-2.29zM321.77 44.73h2.29v2.29h-2.29zM383.31 44.73h2.29v2.29h-2.29zM419.04 50.69h4.27v2.29h-4.27zM301.93 52.67h2.29v2.29h-2.29zM373.38 54.66h2.29v2.29h-2.29zM425.00 54.66h2.29v2.29h-2.29zM299.94 56.64h2.29v2.29h-2.29zM371.40 56.64h2.29v2.29h-2.29zM403.16 56.64h2.29v2.29h-2.29zM426.98 60.61h2.29v2.29h-2.29zM426.98 62.60h2.29v2.29h-2.29zM426.98 64.58h2.29v2.29h-2.29zM480.58 64.58h2.29v2.29h-2.29zM426.98 66.56h2.29v2.29h-2.29zM440.88 66.56h2.29v2.29h-2.29zM426.98 68.55h2.29v2.29h-2.29zM351.55 70.53h2.29v2.29h-2.29zM357.50 70.53h2.29v2.29h-2.29zM426.98 70.53h2.29v2.29h-2.29zM407.13 72.52h2.29v2.29h-2.29zM426.98 72.52h2.29v2.29h-2.29zM438.89 72.52h2.29v2.29h-2.29zM399.19 76.49h2.29v2.29h-2.29zM393.24 78.48h4.27v2.29h-4.27zM381.32 82.45h2.29v2.29h-2.29zM407.13 90.39h2.29v2.29h-2.29zM407.13 92.37h2.29v2.29h-2.29zM407.13 94.36h2.29v2.29h-2.29zM353.54 98.33h2.29v2.29h-2.29zM367.43 98.33h2.29v2.29h-2.29zM293.99 102.30h2.29v2.29h-2.29zM407.13 104.28h2.29v2.29h-2.29zM405.14 108.25h2.29v2.29h-2.29zM413.09 108.25h2.29v2.29h-2.29zM359.49 110.23h2.29v2.29h-2.29zM405.14 110.23h2.29v2.29h-2.29zM442.86 112.22h2.29v2.29h-2.29zM446.83 112.22h2.29v2.29h-2.29zM417.06 114.20h2.29v2.29h-2.29zM411.10 116.19h8.24v2.29h-8.24zM399.19 118.18h2.29v2.29h-2.29zM413.09 118.18h2.29v2.29h-2.29zM417.06 118.18h2.29v2.29h-2.29zM301.93 120.16h2.29v2.29h-2.29zM413.09 120.16h4.27v2.29h-4.27zM377.36 122.15h2.29v2.29h-2.29zM432.94 122.15h2.29v2.29h-2.29zM448.81 122.15h2.29v2.29h-2.29zM432.94 132.07h2.29v2.29h-2.29zM438.89 132.07h2.29v2.29h-2.29zM387.28 138.03h4.27v2.29h-4.27zM395.22 138.03h2.29v2.29h-2.29zM454.77 140.01h2.29v2.29h-2.29zM293.99 145.97h2.29v2.29h-2.29zM454.77 147.95h2.29v2.29h-2.29zM389.26 149.94h2.29v2.29h-2.29zM444.85 149.94h2.29v2.29h-2.29zM466.68 153.91h2.29v2.29h-2.29zM317.81 155.89h2.29v2.29h-2.29zM317.81 157.88h2.29v2.29h-2.29zM341.62 157.88h2.29v2.29h-2.29zM353.54 157.88h4.27v2.29h-4.27zM375.37 157.88h2.29v2.29h-2.29zM472.63 157.88h2.29v2.29h-2.29zM363.46 159.86h2.29v2.29h-2.29zM375.37 161.84h2.29v2.29h-2.29zM454.77 161.84h2.29v2.29h-2.29zM464.70 161.84h2.29v2.29h-2.29zM379.34 163.83h2.29v2.29h-2.29zM425.00 165.81h2.29v2.29h-2.29zM468.67 165.81h2.29v2.29h-2.29zM428.97 171.77h2.29v2.29h-2.29zM452.78 171.77h2.29v2.29h-2.29zM460.73 171.77h2.29v2.29h-2.29zM428.97 173.75h2.29v2.29h-2.29zM381.32 175.74h2.29v2.29h-2.29zM381.32 179.71h2.29v2.29h-2.29zM472.63 181.70h2.29v2.29h-2.29zM464.70 183.68h2.29v2.29h-2.29zM460.73 185.67h2.29v2.29h-2.29zM464.70 185.67h2.29v2.29h-2.29zM381.32 187.65h2.29v2.29h-2.29zM462.71 187.65h2.29v2.29h-2.29zM407.13 189.64h2.29v2.29h-2.29zM458.74 189.64h4.27v2.29h-4.27zM488.51 189.64h2.29v2.29h-2.29zM403.16 193.61h2.29v2.29h-2.29zM488.51 193.61h2.29v2.29h-2.29zM297.95 195.59h2.29v2.29h-2.29zM417.06 195.59h2.29v2.29h-2.29zM458.74 197.58h2.29v2.29h-2.29zM375.37 199.56h2.29v2.29h-2.29zM458.74 201.55h2.29v2.29h-2.29zM456.75 203.53h2.29v2.29h-2.29zM478.59 205.52h2.29v2.29h-2.29z"/><path fill="#2797eb" d="M307.88 20.91h2.29v2.29h-2.29zM448.81 20.91h2.29v2.29h-2.29zM444.85 22.90h4.27v2.29h-4.27zM323.76 36.79h2.29v2.29h-2.29zM359.49 36.79h2.29v2.29h-2.29zM395.22 36.79h2.29v2.29h-2.29zM432.94 38.78h2.29v2.29h-2.29zM444.85 38.78h2.29v2.29h-2.29zM321.77 40.76h2.29v2.29h-2.29zM415.07 40.76h10.23v2.29h-10.23zM321.77 42.75h2.29v2.29h-2.29zM385.30 42.75h2.29v2.29h-2.29zM343.61 44.73h2.29v2.29h-2.29zM413.09 44.73h2.29v2.29h-2.29zM343.61 46.72h2.29v2.29h-2.29zM379.34 46.72h2.29v2.29h-2.29zM415.07 46.72h2.29v2.29h-2.29zM393.24 48.70h2.29v2.29h-2.29zM417.06 48.70h2.29v2.29h-2.29zM341.62 50.69h2.29v2.29h-2.29zM423.01 50.69h2.29v2.29h-2.29zM450.80 50.69h2.29v2.29h-2.29zM423.01 52.67h4.27v2.29h-4.27zM426.98 54.66h2.29v2.29h-2.29zM395.22 56.64h2.29v2.29h-2.29zM365.44 58.62h2.29v2.29h-2.29zM395.22 58.62h2.29v2.29h-2.29zM347.58 62.60h2.29v2.29h-2.29zM361.48 62.60h2.29v2.29h-2.29zM393.24 62.60h2.29v2.29h-2.29zM389.26 66.56h2.29v2.29h-2.29zM383.31 68.55h2.29v2.29h-2.29zM411.10 68.55h2.29v2.29h-2.29zM409.12 70.53h2.29v2.29h-2.29zM428.97 74.51h6.25v2.29h-6.25zM381.32 80.46h2.29v2.29h-2.29zM369.42 88.40h2.29v2.29h-2.29zM369.42 96.34h2.29v2.29h-2.29zM405.14 104.28h2.29v2.29h-2.29zM293.99 106.27h2.29v2.29h-2.29zM405.14 106.27h2.29v2.29h-2.29zM371.40 110.23h2.29v2.29h-2.29zM417.06 110.23h2.29v2.29h-2.29zM417.06 112.22h2.29v2.29h-2.29zM444.85 112.22h2.29v2.29h-2.29zM311.85 114.20h2.29v2.29h-2.29zM413.09 114.20h4.27v2.29h-4.27zM440.88 114.20h2.29v2.29h-2.29zM303.91 118.18h2.29v2.29h-2.29zM415.07 118.18h2.29v2.29h-2.29zM438.89 118.18h2.29v2.29h-2.29zM436.90 120.16h2.29v2.29h-2.29zM299.94 122.15h2.29v2.29h-2.29zM292.00 126.12h2.29v2.29h-2.29zM373.38 128.10h2.29v2.29h-2.29zM411.10 130.09h2.29v2.29h-2.29zM423.01 136.04h2.29v2.29h-2.29zM391.25 138.03h4.27v2.29h-4.27zM446.83 138.03h2.29v2.29h-2.29zM452.78 138.03h2.29v2.29h-2.29zM387.28 140.01h2.29v2.29h-2.29zM292.00 143.98h2.29v2.29h-2.29zM468.67 143.98h2.29v2.29h-2.29zM444.85 145.97h2.29v2.29h-2.29zM454.77 145.97h2.29v2.29h-2.29zM466.68 145.97h2.29v2.29h-2.29zM385.30 147.95h2.29v2.29h-2.29zM444.85 147.95h2.29v2.29h-2.29zM423.01 149.94h2.29v2.29h-2.29zM383.31 151.92h2.29v2.29h-2.29zM478.59 153.91h2.29v2.29h-2.29zM399.19 155.89h2.29v2.29h-2.29zM349.56 157.88h4.27v2.29h-4.27zM357.50 157.88h2.29v2.29h-2.29zM373.38 159.86h2.29v2.29h-2.29zM365.44 161.84h2.29v2.29h-2.29zM421.02 161.84h2.29v2.29h-2.29zM462.71 161.84h2.29v2.29h-2.29zM377.36 163.83h2.29v2.29h-2.29zM450.80 163.83h2.29v2.29h-2.29zM325.75 165.81h2.29v2.29h-2.29zM363.46 167.80h2.29v2.29h-2.29zM454.77 171.77h6.25v2.29h-6.25zM363.46 175.74h2.29v2.29h-2.29zM426.98 175.74h2.29v2.29h-2.29zM381.32 177.72h2.29v2.29h-2.29zM470.65 179.71h2.29v2.29h-2.29zM462.71 185.67h2.29v2.29h-2.29zM458.74 187.65h4.27v2.29h-4.27zM381.32 191.62h2.29v2.29h-2.29zM405.14 191.62h2.29v2.29h-2.29zM301.93 199.56h2.29v2.29h-2.29zM409.12 199.56h2.29v2.29h-2.29zM480.58 199.56h2.29v2.29h-2.29zM452.78 201.55h2.29v2.29h-2.29z"/><path fill="#259be8" d="M442.86 12.97h2.29v2.29h-2.29zM446.83 12.97h2.29v2.29h-2.29zM377.36 14.96h2.29v2.29h-2.29zM450.80 14.96h2.29v2.29h-2.29zM464.70 14.96h2.29v2.29h-2.29zM450.80 16.94h2.29v2.29h-2.29zM303.91 20.91h4.27v2.29h-4.27zM440.88 20.91h2.29v2.29h-2.29zM311.85 22.90h2.29v2.29h-2.29zM440.88 34.80h4.27v2.29h-4.27zM321.77 38.78h2.29v2.29h-2.29zM395.22 38.78h2.29v2.29h-2.29zM428.97 40.76h2.29v2.29h-2.29zM450.80 40.76h2.29v2.29h-2.29zM319.79 42.75h2.29v2.29h-2.29zM413.09 42.75h2.29v2.29h-2.29zM375.37 48.70h2.29v2.29h-2.29zM421.02 48.70h2.29v2.29h-2.29zM373.38 52.67h2.29v2.29h-2.29zM452.78 52.67h2.29v2.29h-2.29zM292.00 56.64h4.27v2.29h-4.27zM345.60 58.62h2.29v2.29h-2.29zM395.22 60.61h2.29v2.29h-2.29zM349.56 66.56h2.29v2.29h-2.29zM470.65 66.56h2.29v2.29h-2.29zM428.97 70.53h2.29v2.29h-2.29zM405.14 72.52h2.29v2.29h-2.29zM428.97 72.52h2.29v2.29h-2.29zM389.26 82.45h2.29v2.29h-2.29zM365.44 86.42h2.29v2.29h-2.29zM355.52 96.34h2.29v2.29h-2.29zM355.52 100.31h2.29v2.29h-2.29zM363.46 100.31h2.29v2.29h-2.29zM292.00 102.30h2.29v2.29h-2.29zM292.00 106.27h2.29v2.29h-2.29zM325.75 106.27h2.29v2.29h-2.29zM407.13 106.27h2.29v2.29h-2.29zM313.83 110.23h2.29v2.29h-2.29zM377.36 114.20h2.29v2.29h-2.29zM411.10 114.20h2.29v2.29h-2.29zM409.12 116.19h2.29v2.29h-2.29zM448.81 116.19h2.29v2.29h-2.29zM448.81 118.18h2.29v2.29h-2.29zM448.81 120.16h2.29v2.29h-2.29zM446.83 124.13h2.29v2.29h-2.29zM293.99 126.12h2.29v2.29h-2.29zM430.95 126.12h2.29v2.29h-2.29zM444.85 126.12h2.29v2.29h-2.29zM371.40 128.10h2.29v2.29h-2.29zM430.95 130.09h2.29v2.29h-2.29zM345.60 136.04h2.29v2.29h-2.29zM353.54 138.03h2.29v2.29h-2.29zM385.30 138.03h2.29v2.29h-2.29zM397.20 138.03h2.29v2.29h-2.29zM454.77 142.00h2.29v2.29h-2.29zM444.85 143.98h2.29v2.29h-2.29zM454.77 143.98h2.29v2.29h-2.29zM474.62 143.98h2.29v2.29h-2.29zM313.83 145.97h2.29v2.29h-2.29zM423.01 145.97h2.29v2.29h-2.29zM452.78 147.95h2.29v2.29h-2.29zM478.59 147.95h2.29v2.29h-2.29zM295.97 149.94h2.29v2.29h-2.29zM450.80 149.94h2.29v2.29h-2.29zM297.95 151.92h2.29v2.29h-2.29zM309.87 151.92h2.29v2.29h-2.29zM327.73 151.92h2.29v2.29h-2.29zM331.70 153.91h2.29v2.29h-2.29zM335.67 153.91h2.29v2.29h-2.29zM393.24 153.91h2.29v2.29h-2.29zM331.70 155.89h2.29v2.29h-2.29zM381.32 155.89h2.29v2.29h-2.29zM476.61 155.89h2.29v2.29h-2.29zM325.75 159.86h2.29v2.29h-2.29zM423.01 163.83h2.29v2.29h-2.29zM472.63 165.81h2.29v2.29h-2.29zM327.73 167.80h2.29v2.29h-2.29zM339.64 167.80h2.29v2.29h-2.29zM450.80 167.80h2.29v2.29h-2.29zM470.65 167.80h2.29v2.29h-2.29zM329.72 169.78h2.29v2.29h-2.29zM426.98 169.78h2.29v2.29h-2.29zM419.04 171.77h2.29v2.29h-2.29zM381.32 173.75h2.29v2.29h-2.29zM365.44 179.71h2.29v2.29h-2.29zM369.42 183.68h2.29v2.29h-2.29zM476.61 183.68h2.29v2.29h-2.29zM379.34 185.67h2.29v2.29h-2.29zM480.58 185.67h2.29v2.29h-2.29zM409.12 189.64h4.27v2.29h-4.27zM371.40 191.62h2.29v2.29h-2.29zM413.09 191.62h2.29v2.29h-2.29zM415.07 193.61h2.29v2.29h-2.29zM405.14 195.59h2.29v2.29h-2.29zM375.37 197.58h2.29v2.29h-2.29zM407.13 197.58h2.29v2.29h-2.29zM415.07 197.58h2.29v2.29h-2.29zM482.56 197.58h2.29v2.29h-2.29zM379.34 199.56h2.29v2.29h-2.29zM458.74 199.56h2.29v2.29h-2.29z"/><path fill="#23a0e5" d="M359.49 9.00h2.29v2.29h-2.29zM359.49 10.98h2.29v2.29h-2.29zM359.49 12.97h2.29v2.29h-2.29zM444.85 12.97h2.29v2.29h-2.29zM464.70 12.97h2.29v2.29h-2.29zM482.56 16.94h2.29v2.29h-2.29zM379.34 18.93h2.29v2.29h-2.29zM466.68 18.93h2.29v2.29h-2.29zM295.97 24.88h2.29v2.29h-2.29zM313.83 24.88h2.29v2.29h-2.29zM319.79 34.80h2.29v2.29h-2.29zM383.31 34.80h2.29v2.29h-2.29zM391.25 34.80h4.27v2.29h-4.27zM321.77 36.79h2.29v2.29h-2.29zM454.77 36.79h2.29v2.29h-2.29zM434.92 38.78h2.29v2.29h-2.29zM415.07 42.75h6.25v2.29h-6.25zM423.01 42.75h6.25v2.29h-6.25zM345.60 44.73h2.29v2.29h-2.29zM389.26 44.73h2.29v2.29h-2.29zM345.60 46.72h2.29v2.29h-2.29zM377.36 46.72h2.29v2.29h-2.29zM419.04 48.70h2.29v2.29h-2.29zM423.01 48.70h2.29v2.29h-2.29zM425.00 50.69h2.29v2.29h-2.29zM341.62 52.67h2.29v2.29h-2.29zM299.94 54.66h2.29v2.29h-2.29zM341.62 54.66h2.29v2.29h-2.29zM295.97 56.64h4.27v2.29h-4.27zM369.42 56.64h2.29v2.29h-2.29zM347.58 60.61h2.29v2.29h-2.29zM359.49 66.56h2.29v2.29h-2.29zM472.63 66.56h2.29v2.29h-2.29zM476.61 66.56h2.29v2.29h-2.29zM428.97 68.55h2.29v2.29h-2.29zM403.16 72.52h2.29v2.29h-2.29zM399.19 74.51h2.29v2.29h-2.29zM359.49 92.37h2.29v2.29h-2.29zM357.50 94.36h2.29v2.29h-2.29zM357.50 100.31h2.29v2.29h-2.29zM317.81 106.27h2.29v2.29h-2.29zM315.82 108.25h2.29v2.29h-2.29zM327.73 108.25h2.29v2.29h-2.29zM407.13 108.25h2.29v2.29h-2.29zM411.10 108.25h2.29v2.29h-2.29zM329.72 110.23h2.29v2.29h-2.29zM415.07 110.23h2.29v2.29h-2.29zM405.14 112.22h2.29v2.29h-2.29zM415.07 112.22h2.29v2.29h-2.29zM309.87 116.19h2.29v2.29h-2.29zM377.36 120.16h2.29v2.29h-2.29zM399.19 120.16h2.29v2.29h-2.29zM407.13 120.16h2.29v2.29h-2.29zM407.13 122.15h2.29v2.29h-2.29zM355.52 126.12h2.29v2.29h-2.29zM369.42 128.10h2.29v2.29h-2.29zM440.88 128.10h2.29v2.29h-2.29zM341.62 132.07h2.29v2.29h-2.29zM343.61 136.04h2.29v2.29h-2.29zM423.01 138.03h2.29v2.29h-2.29zM448.81 138.03h4.27v2.29h-4.27zM385.30 140.01h2.29v2.29h-2.29zM389.26 140.01h2.29v2.29h-2.29zM444.85 140.01h2.29v2.29h-2.29zM444.85 142.00h2.29v2.29h-2.29zM313.83 143.98h2.29v2.29h-2.29zM470.65 143.98h2.29v2.29h-2.29zM387.28 145.97h2.29v2.29h-2.29zM478.59 151.92h2.29v2.29h-2.29zM333.69 153.91h2.29v2.29h-2.29zM337.65 153.91h2.29v2.29h-2.29zM395.22 153.91h4.27v2.29h-4.27zM327.73 157.88h2.29v2.29h-2.29zM373.38 157.88h2.29v2.29h-2.29zM421.02 157.88h2.29v2.29h-2.29zM460.73 161.84h2.29v2.29h-2.29zM365.44 163.83h2.29v2.29h-2.29zM450.80 165.81h2.29v2.29h-2.29zM407.13 167.80h2.29v2.29h-2.29zM417.06 169.78h2.29v2.29h-2.29zM462.71 169.78h2.29v2.29h-2.29zM421.02 173.75h2.29v2.29h-2.29zM423.01 175.74h4.27v2.29h-4.27zM470.65 177.72h2.29v2.29h-2.29zM367.43 181.70h2.29v2.29h-2.29zM379.34 183.68h2.29v2.29h-2.29zM484.55 187.65h2.29v2.29h-2.29zM373.38 193.61h2.29v2.29h-2.29zM405.14 193.61h2.29v2.29h-2.29zM295.97 195.59h2.29v2.29h-2.29zM415.07 195.59h2.29v2.29h-2.29zM456.75 197.58h2.29v2.29h-2.29zM377.36 199.56h2.29v2.29h-2.29zM413.09 199.56h2.29v2.29h-2.29z"/><path fill="#20a5e3" d="M464.70 10.98h2.29v2.29h-2.29zM359.49 14.96h2.29v2.29h-2.29zM448.81 18.93h2.29v2.29h-2.29zM299.94 22.90h2.29v2.29h-2.29zM309.87 22.90h2.29v2.29h-2.29zM468.67 24.88h2.29v2.29h-2.29zM377.36 26.87h2.29v2.29h-2.29zM315.82 32.82h2.29v2.29h-2.29zM456.75 34.80h2.29v2.29h-2.29zM387.28 36.79h2.29v2.29h-2.29zM319.79 40.76h2.29v2.29h-2.29zM395.22 40.76h2.29v2.29h-2.29zM444.85 40.76h2.29v2.29h-2.29zM421.02 42.75h2.29v2.29h-2.29zM381.32 44.73h2.29v2.29h-2.29zM415.07 44.73h2.29v2.29h-2.29zM395.22 46.72h2.29v2.29h-2.29zM417.06 46.72h2.29v2.29h-2.29zM343.61 48.70h2.29v2.29h-2.29zM373.38 50.69h2.29v2.29h-2.29zM299.94 52.67h2.29v2.29h-2.29zM371.40 54.66h2.29v2.29h-2.29zM361.48 60.61h2.29v2.29h-2.29zM474.62 66.56h2.29v2.29h-2.29zM353.54 70.53h4.27v2.29h-4.27zM381.32 70.53h2.29v2.29h-2.29zM430.95 72.52h2.29v2.29h-2.29zM381.32 78.48h2.29v2.29h-2.29zM361.48 88.40h2.29v2.29h-2.29zM355.52 98.33h2.29v2.29h-2.29zM293.99 104.28h2.29v2.29h-2.29zM323.76 106.27h2.29v2.29h-2.29zM409.12 108.25h2.29v2.29h-2.29zM331.70 112.22h2.29v2.29h-2.29zM375.37 112.22h2.29v2.29h-2.29zM413.09 112.22h2.29v2.29h-2.29zM440.88 116.19h2.29v2.29h-2.29zM407.13 118.18h2.29v2.29h-2.29zM446.83 122.15h2.29v2.29h-2.29zM355.52 124.13h2.29v2.29h-2.29zM407.13 124.13h2.29v2.29h-2.29zM295.97 126.12h2.29v2.29h-2.29zM375.37 126.12h2.29v2.29h-2.29zM430.95 128.10h2.29v2.29h-2.29zM438.89 130.09h2.29v2.29h-2.29zM399.19 132.07h2.29v2.29h-2.29zM434.92 132.07h2.29v2.29h-2.29zM341.62 134.06h2.29v2.29h-2.29zM399.19 134.06h2.29v2.29h-2.29zM347.58 136.04h2.29v2.29h-2.29zM373.38 138.03h2.29v2.29h-2.29zM423.01 140.01h2.29v2.29h-2.29zM387.28 142.00h2.29v2.29h-2.29zM423.01 143.98h2.29v2.29h-2.29zM472.63 143.98h2.29v2.29h-2.29zM389.26 147.95h2.29v2.29h-2.29zM466.68 147.95h2.29v2.29h-2.29zM383.31 149.94h2.29v2.29h-2.29zM446.83 149.94h4.27v2.29h-4.27zM478.59 149.94h2.29v2.29h-2.29zM466.68 151.92h2.29v2.29h-2.29zM333.69 155.89h2.29v2.29h-2.29zM359.49 157.88h2.29v2.29h-2.29zM365.44 159.86h2.29v2.29h-2.29zM371.40 159.86h2.29v2.29h-2.29zM325.75 161.84h2.29v2.29h-2.29zM456.75 161.84h2.29v2.29h-2.29zM476.61 161.84h2.29v2.29h-2.29zM325.75 163.83h2.29v2.29h-2.29zM474.62 163.83h2.29v2.29h-2.29zM339.64 165.81h2.29v2.29h-2.29zM409.12 167.80h6.25v2.29h-6.25zM425.00 167.80h2.29v2.29h-2.29zM464.70 167.80h2.29v2.29h-2.29zM363.46 169.78h2.29v2.29h-2.29zM470.65 169.78h2.29v2.29h-2.29zM363.46 173.75h2.29v2.29h-2.29zM470.65 175.74h2.29v2.29h-2.29zM371.40 189.64h2.29v2.29h-2.29zM407.13 191.62h2.29v2.29h-2.29zM411.10 191.62h2.29v2.29h-2.29zM407.13 195.59h2.29v2.29h-2.29zM299.94 197.58h2.29v2.29h-2.29zM452.78 197.58h2.29v2.29h-2.29zM411.10 199.56h2.29v2.29h-2.29zM454.77 201.55h4.27v2.29h-4.27z"/><path fill="#1ca9df" d="M464.70 9.00h2.29v2.29h-2.29zM484.55 18.93h2.29v2.29h-2.29zM468.67 22.90h2.29v2.29h-2.29zM379.34 24.88h2.29v2.29h-2.29zM292.00 26.87h2.29v2.29h-2.29zM313.83 26.87h2.29v2.29h-2.29zM313.83 28.85h2.29v2.29h-2.29zM313.83 30.84h2.29v2.29h-2.29zM317.81 34.80h2.29v2.29h-2.29zM363.46 34.80h2.29v2.29h-2.29zM385.30 36.79h2.29v2.29h-2.29zM389.26 36.79h2.29v2.29h-2.29zM438.89 36.79h2.29v2.29h-2.29zM319.79 38.78h2.29v2.29h-2.29zM387.28 40.76h2.29v2.29h-2.29zM430.95 40.76h2.29v2.29h-2.29zM383.31 42.75h2.29v2.29h-2.29zM428.97 42.75h2.29v2.29h-2.29zM450.80 42.75h2.29v2.29h-2.29zM417.06 44.73h2.29v2.29h-2.29zM423.01 44.73h6.25v2.29h-6.25zM303.91 46.72h2.29v2.29h-2.29zM419.04 46.72h6.25v2.29h-6.25zM301.93 48.70h2.29v2.29h-2.29zM425.00 48.70h2.29v2.29h-2.29zM299.94 50.69h2.29v2.29h-2.29zM426.98 52.67h2.29v2.29h-2.29zM480.58 52.67h2.29v2.29h-2.29zM399.19 54.66h2.29v2.29h-2.29zM480.58 54.66h2.29v2.29h-2.29zM363.46 58.62h2.29v2.29h-2.29zM409.12 58.62h2.29v2.29h-2.29zM428.97 66.56h2.29v2.29h-2.29zM351.55 68.55h2.29v2.29h-2.29zM357.50 68.55h2.29v2.29h-2.29zM409.12 68.55h2.29v2.29h-2.29zM397.20 76.49h2.29v2.29h-2.29zM365.44 98.33h2.29v2.29h-2.29zM359.49 100.31h4.27v2.29h-4.27zM319.79 106.27h2.29v2.29h-2.29zM407.13 110.23h2.29v2.29h-2.29zM413.09 110.23h2.29v2.29h-2.29zM357.50 112.22h2.29v2.29h-2.29zM355.52 114.20h2.29v2.29h-2.29zM403.16 114.20h2.29v2.29h-2.29zM409.12 114.20h2.29v2.29h-2.29zM442.86 114.20h2.29v2.29h-2.29zM446.83 114.20h2.29v2.29h-2.29zM377.36 116.19h2.29v2.29h-2.29zM401.18 116.19h2.29v2.29h-2.29zM377.36 118.18h2.29v2.29h-2.29zM303.91 120.16h2.29v2.29h-2.29zM438.89 120.16h2.29v2.29h-2.29zM399.19 122.15h2.29v2.29h-2.29zM434.92 122.15h2.29v2.29h-2.29zM399.19 124.13h2.29v2.29h-2.29zM442.86 126.12h2.29v2.29h-2.29zM399.19 128.10h2.29v2.29h-2.29zM399.19 130.09h2.29v2.29h-2.29zM436.90 132.07h2.29v2.29h-2.29zM349.56 136.04h2.29v2.29h-2.29zM383.31 138.03h2.29v2.29h-2.29zM311.85 140.01h2.29v2.29h-2.29zM353.54 140.01h2.29v2.29h-2.29zM385.30 142.00h2.29v2.29h-2.29zM423.01 142.00h2.29v2.29h-2.29zM293.99 143.98h2.29v2.29h-2.29zM385.30 145.97h2.29v2.29h-2.29zM476.61 145.97h2.29v2.29h-2.29zM466.68 149.94h2.29v2.29h-2.29zM391.25 151.92h2.29v2.29h-2.29zM381.32 153.91h2.29v2.29h-2.29zM335.67 155.89h4.27v2.29h-4.27zM379.34 155.89h2.29v2.29h-2.29zM401.18 161.84h2.29v2.29h-2.29zM458.74 161.84h2.29v2.29h-2.29zM452.78 163.83h2.29v2.29h-2.29zM466.68 163.83h2.29v2.29h-2.29zM466.68 165.81h2.29v2.29h-2.29zM337.65 169.78h2.29v2.29h-2.29zM452.78 169.78h2.29v2.29h-2.29zM363.46 171.77h2.29v2.29h-2.29zM470.65 171.77h2.29v2.29h-2.29zM470.65 173.75h2.29v2.29h-2.29zM474.62 181.70h2.29v2.29h-2.29zM371.40 187.65h2.29v2.29h-2.29zM379.34 187.65h2.29v2.29h-2.29zM409.12 191.62h2.29v2.29h-2.29zM407.13 193.61h2.29v2.29h-2.29zM413.09 193.61h2.29v2.29h-2.29zM292.00 195.59h4.27v2.29h-4.27zM375.37 195.59h2.29v2.29h-2.29zM486.53 195.59h2.29v2.29h-2.29zM379.34 197.58h2.29v2.29h-2.29zM409.12 197.58h2.29v2.29h-2.29zM454.77 197.58h2.29v2.29h-2.29zM452.78 199.56h2.29v2.29h-2.29zM480.58 201.55h2.29v2.29h-2.29z"/><path fill="#18addb" d="M440.88 14.96h2.29v2.29h-2.29zM448.81 14.96h2.29v2.29h-2.29zM359.49 16.94h2.29v2.29h-2.29zM377.36 16.94h2.29v2.29h-2.29zM379.34 20.91h2.29v2.29h-2.29zM446.83 20.91h2.29v2.29h-2.29zM307.88 22.90h2.29v2.29h-2.29zM351.55 26.87h2.29v2.29h-2.29zM367.43 26.87h10.23v2.29h-10.23zM458.74 32.82h2.29v2.29h-2.29zM381.32 34.80h2.29v2.29h-2.29zM319.79 36.79h2.29v2.29h-2.29zM357.50 38.78h2.29v2.29h-2.29zM387.28 38.78h2.29v2.29h-2.29zM452.78 38.78h2.29v2.29h-2.29zM317.81 40.76h2.29v2.29h-2.29zM355.52 40.76h2.29v2.29h-2.29zM385.30 40.76h2.29v2.29h-2.29zM349.56 42.75h4.27v2.29h-4.27zM389.26 42.75h2.29v2.29h-2.29zM347.58 44.73h2.29v2.29h-2.29zM379.34 44.73h2.29v2.29h-2.29zM419.04 44.73h4.27v2.29h-4.27zM450.80 44.73h2.29v2.29h-2.29zM301.93 46.72h2.29v2.29h-2.29zM347.58 46.72h2.29v2.29h-2.29zM425.00 46.72h2.29v2.29h-2.29zM484.55 46.72h2.29v2.29h-2.29zM299.94 48.70h2.29v2.29h-2.29zM345.60 48.70h2.29v2.29h-2.29zM450.80 48.70h2.29v2.29h-2.29zM371.40 52.67h2.29v2.29h-2.29zM297.95 54.66h2.29v2.29h-2.29zM397.20 54.66h2.29v2.29h-2.29zM343.61 56.64h2.29v2.29h-2.29zM401.18 56.64h2.29v2.29h-2.29zM395.22 62.60h2.29v2.29h-2.29zM480.58 62.60h2.29v2.29h-2.29zM349.56 64.58h2.29v2.29h-2.29zM359.49 64.58h2.29v2.29h-2.29zM393.24 64.58h2.29v2.29h-2.29zM391.25 66.56h2.29v2.29h-2.29zM385.30 68.55h2.29v2.29h-2.29zM407.13 70.53h2.29v2.29h-2.29zM430.95 70.53h2.29v2.29h-2.29zM401.18 72.52h2.29v2.29h-2.29zM432.94 72.52h2.29v2.29h-2.29zM391.25 78.48h2.29v2.29h-2.29zM367.43 88.40h2.29v2.29h-2.29zM369.42 90.39h2.29v2.29h-2.29zM369.42 94.36h2.29v2.29h-2.29zM292.00 104.28h2.29v2.29h-2.29zM321.77 106.27h2.29v2.29h-2.29zM361.48 110.23h2.29v2.29h-2.29zM369.42 110.23h2.29v2.29h-2.29zM407.13 112.22h2.29v2.29h-2.29zM411.10 112.22h2.29v2.29h-2.29zM407.13 116.19h2.29v2.29h-2.29zM305.89 118.18h2.29v2.29h-2.29zM440.88 118.18h2.29v2.29h-2.29zM446.83 120.16h2.29v2.29h-2.29zM432.94 124.13h2.29v2.29h-2.29zM444.85 124.13h2.29v2.29h-2.29zM399.19 126.12h2.29v2.29h-2.29zM407.13 126.12h2.29v2.29h-2.29zM399.19 136.04h2.29v2.29h-2.29zM351.55 138.03h2.29v2.29h-2.29zM375.37 138.03h2.29v2.29h-2.29zM383.31 140.01h2.29v2.29h-2.29zM391.25 140.01h2.29v2.29h-2.29zM446.83 140.01h2.29v2.29h-2.29zM452.78 140.01h2.29v2.29h-2.29zM387.28 143.98h2.29v2.29h-2.29zM468.67 145.97h2.29v2.29h-2.29zM311.85 147.95h2.29v2.29h-2.29zM450.80 147.95h2.29v2.29h-2.29zM399.19 153.91h2.29v2.29h-2.29zM468.67 153.91h2.29v2.29h-2.29zM339.64 155.89h2.29v2.29h-2.29zM377.36 155.89h2.29v2.29h-2.29zM470.65 155.89h2.29v2.29h-2.29zM367.43 159.86h4.27v2.29h-4.27zM367.43 161.84h2.29v2.29h-2.29zM415.07 167.80h2.29v2.29h-2.29zM331.70 169.78h2.29v2.29h-2.29zM426.98 171.77h2.29v2.29h-2.29zM426.98 173.75h2.29v2.29h-2.29zM472.63 179.71h2.29v2.29h-2.29zM478.59 183.68h2.29v2.29h-2.29zM486.53 187.65h4.27v2.29h-4.27zM409.12 193.61h4.27v2.29h-4.27zM379.34 195.59h2.29v2.29h-2.29zM409.12 195.59h2.29v2.29h-2.29zM413.09 195.59h2.29v2.29h-2.29zM413.09 197.58h2.29v2.29h-2.29zM456.75 199.56h2.29v2.29h-2.29zM301.93 201.55h2.29v2.29h-2.29z"/><path fill="#12b1d6" d="M448.81 16.94h2.29v2.29h-2.29zM466.68 16.94h2.29v2.29h-2.29zM357.50 20.91h2.29v2.29h-2.29zM301.93 22.90h2.29v2.29h-2.29zM305.89 22.90h2.29v2.29h-2.29zM379.34 22.90h2.29v2.29h-2.29zM311.85 24.88h2.29v2.29h-2.29zM293.99 26.87h2.29v2.29h-2.29zM379.34 34.80h2.29v2.29h-2.29zM391.25 36.79h4.27v2.29h-4.27zM389.26 38.78h2.29v2.29h-2.29zM444.85 42.75h2.29v2.29h-2.29zM375.37 46.72h2.29v2.29h-2.29zM450.80 46.72h2.29v2.29h-2.29zM482.56 48.70h2.29v2.29h-2.29zM297.95 50.69h2.29v2.29h-2.29zM297.95 52.67h2.29v2.29h-2.29zM292.00 54.66h4.27v2.29h-4.27zM367.43 56.64h2.29v2.29h-2.29zM480.58 56.64h2.29v2.29h-2.29zM428.97 58.62h2.29v2.29h-2.29zM428.97 64.58h2.29v2.29h-2.29zM436.90 72.52h2.29v2.29h-2.29zM381.32 76.49h2.29v2.29h-2.29zM395.22 76.49h2.29v2.29h-2.29zM383.31 80.46h2.29v2.29h-2.29zM361.48 90.39h2.29v2.29h-2.29zM369.42 92.37h2.29v2.29h-2.29zM357.50 96.34h2.29v2.29h-2.29zM367.43 96.34h2.29v2.29h-2.29zM357.50 98.33h2.29v2.29h-2.29zM317.81 108.25h2.29v2.29h-2.29zM409.12 110.23h4.27v2.29h-4.27zM313.83 112.22h2.29v2.29h-2.29zM409.12 112.22h2.29v2.29h-2.29zM405.14 114.20h4.27v2.29h-4.27zM444.85 114.20h2.29v2.29h-2.29zM301.93 122.15h2.29v2.29h-2.29zM299.94 124.13h2.29v2.29h-2.29zM409.12 130.09h2.29v2.29h-2.29zM381.32 138.03h2.29v2.29h-2.29zM395.22 140.01h2.29v2.29h-2.29zM389.26 142.00h2.29v2.29h-2.29zM385.30 143.98h2.29v2.29h-2.29zM452.78 145.97h2.29v2.29h-2.29zM295.97 147.95h2.29v2.29h-2.29zM383.31 147.95h2.29v2.29h-2.29zM446.83 147.95h2.29v2.29h-2.29zM325.75 149.94h2.29v2.29h-2.29zM299.94 151.92h2.29v2.29h-2.29zM329.72 151.92h2.29v2.29h-2.29zM381.32 151.92h2.29v2.29h-2.29zM474.62 155.89h2.29v2.29h-2.29zM371.40 157.88h2.29v2.29h-2.29zM373.38 161.84h2.29v2.29h-2.29zM339.64 163.83h2.29v2.29h-2.29zM403.16 163.83h2.29v2.29h-2.29zM327.73 165.81h2.29v2.29h-2.29zM379.34 165.81h2.29v2.29h-2.29zM425.00 169.78h2.29v2.29h-2.29zM460.73 169.78h2.29v2.29h-2.29zM421.02 171.77h2.29v2.29h-2.29zM423.01 173.75h2.29v2.29h-2.29zM365.44 177.72h2.29v2.29h-2.29zM379.34 181.70h2.29v2.29h-2.29zM371.40 185.67h2.29v2.29h-2.29zM482.56 185.67h2.29v2.29h-2.29zM379.34 189.64h2.29v2.29h-2.29zM373.38 191.62h2.29v2.29h-2.29zM379.34 193.61h2.29v2.29h-2.29zM411.10 195.59h2.29v2.29h-2.29zM488.51 195.59h2.29v2.29h-2.29zM377.36 197.58h2.29v2.29h-2.29zM411.10 197.58h2.29v2.29h-2.29z"/><path fill="#08b5d0" d="M375.37 9.00h2.29v2.29h-2.29zM440.88 18.93h2.29v2.29h-2.29zM442.86 20.91h2.29v2.29h-2.29zM303.91 22.90h2.29v2.29h-2.29zM297.95 24.88h2.29v2.29h-2.29zM365.44 26.87h2.29v2.29h-2.29zM484.55 28.85h2.29v2.29h-2.29zM313.83 32.82h2.29v2.29h-2.29zM315.82 34.80h2.29v2.29h-2.29zM317.81 36.79h2.29v2.29h-2.29zM361.48 36.79h2.29v2.29h-2.29zM317.81 38.78h2.29v2.29h-2.29zM385.30 38.78h2.29v2.29h-2.29zM393.24 38.78h2.29v2.29h-2.29zM436.90 38.78h2.29v2.29h-2.29zM315.82 40.76h2.29v2.29h-2.29zM389.26 40.76h2.29v2.29h-2.29zM432.94 40.76h2.29v2.29h-2.29zM395.22 42.75h2.29v2.29h-2.29zM430.95 42.75h2.29v2.29h-2.29zM303.91 44.73h2.29v2.29h-2.29zM377.36 44.73h2.29v2.29h-2.29zM428.97 44.73h2.29v2.29h-2.29zM299.94 46.72h2.29v2.29h-2.29zM426.98 46.72h2.29v2.29h-2.29zM297.95 48.70h2.29v2.29h-2.29zM373.38 48.70h2.29v2.29h-2.29zM343.61 50.69h2.29v2.29h-2.29zM295.97 54.66h2.29v2.29h-2.29zM369.42 54.66h2.29v2.29h-2.29zM428.97 56.64h2.29v2.29h-2.29zM347.58 58.62h2.29v2.29h-2.29zM407.13 58.62h2.29v2.29h-2.29zM428.97 60.61h2.29v2.29h-2.29zM349.56 62.60h2.29v2.29h-2.29zM359.49 62.60h2.29v2.29h-2.29zM428.97 62.60h2.29v2.29h-2.29zM440.88 64.58h2.29v2.29h-2.29zM381.32 72.52h2.29v2.29h-2.29zM434.92 72.52h2.29v2.29h-2.29zM397.20 74.51h2.29v2.29h-2.29zM389.26 80.46h2.29v2.29h-2.29zM359.49 94.36h2.29v2.29h-2.29zM325.75 108.25h2.29v2.29h-2.29zM315.82 110.23h2.29v2.29h-2.29zM446.83 116.19h2.29v2.29h-2.29zM446.83 118.18h2.29v2.29h-2.29zM355.52 122.15h2.29v2.29h-2.29zM436.90 122.15h2.29v2.29h-2.29zM367.43 128.10h2.29v2.29h-2.29zM419.04 132.07h2.29v2.29h-2.29zM421.02 134.06h2.29v2.29h-2.29zM311.85 138.03h2.29v2.29h-2.29zM377.36 138.03h4.27v2.29h-4.27zM373.38 140.01h2.29v2.29h-2.29zM393.24 140.01h2.29v2.29h-2.29zM397.20 140.01h2.29v2.29h-2.29zM448.81 140.01h4.27v2.29h-4.27zM383.31 142.00h2.29v2.29h-2.29zM446.83 142.00h2.29v2.29h-2.29zM446.83 145.97h2.29v2.29h-2.29zM448.81 147.95h2.29v2.29h-2.29zM468.67 147.95h2.29v2.29h-2.29zM381.32 149.94h2.29v2.29h-2.29zM307.88 151.92h2.29v2.29h-2.29zM339.64 153.91h2.29v2.29h-2.29zM341.62 155.89h2.29v2.29h-2.29zM375.37 155.89h2.29v2.29h-2.29zM329.72 157.88h2.29v2.29h-2.29zM339.64 157.88h2.29v2.29h-2.29zM375.37 163.83h2.29v2.29h-2.29zM421.02 163.83h2.29v2.29h-2.29zM365.44 165.81h2.29v2.29h-2.29zM405.14 165.81h2.29v2.29h-2.29zM423.01 165.81h2.29v2.29h-2.29zM333.69 169.78h4.27v2.29h-4.27zM419.04 169.78h2.29v2.29h-2.29zM454.77 169.78h2.29v2.29h-2.29zM458.74 169.78h2.29v2.29h-2.29zM381.32 171.77h2.29v2.29h-2.29zM377.36 185.67h2.29v2.29h-2.29zM379.34 191.62h2.29v2.29h-2.29zM375.37 193.61h2.29v2.29h-2.29zM454.77 199.56h2.29v2.29h-2.29zM480.58 203.53h2.29v2.29h-2.29z"/><path fill="#01b8ca" d="M375.37 10.98h2.29v2.29h-2.29zM359.49 18.93h2.29v2.29h-2.29zM444.85 20.91h2.29v2.29h-2.29zM468.67 20.91h2.29v2.29h-2.29zM484.55 20.91h2.29v2.29h-2.29zM353.54 22.90h2.29v2.29h-2.29zM309.87 24.88h2.29v2.29h-2.29zM351.55 24.88h2.29v2.29h-2.29zM484.55 24.88h2.29v2.29h-2.29zM484.55 26.87h2.29v2.29h-2.29zM464.70 30.84h2.29v2.29h-2.29zM484.55 30.84h2.29v2.29h-2.29zM460.73 32.82h2.29v2.29h-2.29zM377.36 34.80h2.29v2.29h-2.29zM383.31 36.79h2.29v2.29h-2.29zM442.86 36.79h2.29v2.29h-2.29zM391.25 38.78h2.29v2.29h-2.29zM383.31 40.76h2.29v2.29h-2.29zM353.54 42.75h2.29v2.29h-2.29zM381.32 42.75h2.29v2.29h-2.29zM301.93 44.73h2.29v2.29h-2.29zM395.22 44.73h2.29v2.29h-2.29zM391.25 46.72h2.29v2.29h-2.29zM295.97 48.70h2.29v2.29h-2.29zM347.58 48.70h2.29v2.29h-2.29zM295.97 50.69h2.29v2.29h-2.29zM371.40 50.69h2.29v2.29h-2.29zM426.98 50.69h2.29v2.29h-2.29zM480.58 50.69h2.29v2.29h-2.29zM295.97 52.67h2.29v2.29h-2.29zM480.58 58.62h2.29v2.29h-2.29zM480.58 60.61h2.29v2.29h-2.29zM478.59 64.58h2.29v2.29h-2.29zM357.50 66.56h2.29v2.29h-2.29zM355.52 68.55h2.29v2.29h-2.29zM383.31 70.53h2.29v2.29h-2.29zM438.89 70.53h2.29v2.29h-2.29zM399.19 72.52h2.29v2.29h-2.29zM381.32 74.51h2.29v2.29h-2.29zM393.24 76.49h2.29v2.29h-2.29zM383.31 78.48h2.29v2.29h-2.29zM363.46 88.40h4.27v2.29h-4.27zM327.73 110.23h2.29v2.29h-2.29zM355.52 116.19h2.29v2.29h-2.29zM442.86 116.19h2.29v2.29h-2.29zM440.88 120.16h2.29v2.29h-2.29zM444.85 122.15h2.29v2.29h-2.29zM297.95 126.12h2.29v2.29h-2.29zM339.64 130.09h2.29v2.29h-2.29zM432.94 130.09h2.29v2.29h-2.29zM399.19 138.03h2.29v2.29h-2.29zM375.37 140.01h2.29v2.29h-2.29zM381.32 140.01h2.29v2.29h-2.29zM292.00 142.00h2.29v2.29h-2.29zM311.85 142.00h2.29v2.29h-2.29zM452.78 142.00h2.29v2.29h-2.29zM446.83 143.98h2.29v2.29h-2.29zM452.78 143.98h2.29v2.29h-2.29zM383.31 145.97h2.29v2.29h-2.29zM389.26 145.97h2.29v2.29h-2.29zM470.65 145.97h2.29v2.29h-2.29zM474.62 145.97h2.29v2.29h-2.29zM468.67 151.92h2.29v2.29h-2.29zM379.34 153.91h2.29v2.29h-2.29zM476.61 153.91h2.29v2.29h-2.29zM472.63 155.89h2.29v2.29h-2.29zM361.48 157.88h2.29v2.29h-2.29zM339.64 161.84h2.29v2.29h-2.29zM478.59 161.84h2.29v2.29h-2.29zM464.70 163.83h2.29v2.29h-2.29zM377.36 165.81h2.29v2.29h-2.29zM329.72 167.80h2.29v2.29h-2.29zM417.06 167.80h2.29v2.29h-2.29zM452.78 167.80h2.29v2.29h-2.29zM472.63 167.80h2.29v2.29h-2.29zM456.75 169.78h2.29v2.29h-2.29zM423.01 171.77h4.27v2.29h-4.27zM425.00 173.75h2.29v2.29h-2.29zM377.36 195.59h2.29v2.29h-2.29zM484.55 197.58h2.29v2.29h-2.29zM301.93 203.53h2.29v2.29h-2.29z"/><path fill="#02bac3" d="M446.83 14.96h2.29v2.29h-2.29zM466.68 14.96h2.29v2.29h-2.29zM440.88 16.94h2.29v2.29h-2.29zM377.36 18.93h2.29v2.29h-2.29zM446.83 18.93h2.29v2.29h-2.29zM484.55 22.90h2.29v2.29h-2.29zM311.85 26.87h2.29v2.29h-2.29zM363.46 26.87h2.29v2.29h-2.29zM468.67 26.87h2.29v2.29h-2.29zM466.68 28.85h2.29v2.29h-2.29zM484.55 32.82h2.29v2.29h-2.29zM313.83 34.80h2.29v2.29h-2.29zM365.44 34.80h2.29v2.29h-2.29zM315.82 36.79h2.29v2.29h-2.29zM440.88 36.79h2.29v2.29h-2.29zM315.82 38.78h2.29v2.29h-2.29zM349.56 44.73h2.29v2.29h-2.29zM444.85 44.73h2.29v2.29h-2.29zM297.95 46.72h2.29v2.29h-2.29zM426.98 48.70h2.29v2.29h-2.29zM345.60 50.69h2.29v2.29h-2.29zM292.00 52.67h4.27v2.29h-4.27zM428.97 54.66h2.29v2.29h-2.29zM345.60 56.64h2.29v2.29h-2.29zM365.44 56.64h2.29v2.29h-2.29zM397.20 56.64h2.29v2.29h-2.29zM397.20 58.62h2.29v2.29h-2.29zM349.56 60.61h2.29v2.29h-2.29zM397.20 60.61h2.29v2.29h-2.29zM444.85 60.61h2.29v2.29h-2.29zM442.86 62.60h2.29v2.29h-2.29zM351.55 66.56h2.29v2.29h-2.29zM409.12 66.56h2.29v2.29h-2.29zM353.54 68.55h2.29v2.29h-2.29zM387.28 68.55h2.29v2.29h-2.29zM430.95 68.55h2.29v2.29h-2.29zM405.14 70.53h2.29v2.29h-2.29zM361.48 92.37h2.29v2.29h-2.29zM359.49 98.33h2.29v2.29h-2.29zM363.46 98.33h2.29v2.29h-2.29zM319.79 108.25h2.29v2.29h-2.29zM363.46 110.23h2.29v2.29h-2.29zM329.72 112.22h2.29v2.29h-2.29zM373.38 112.22h2.29v2.29h-2.29zM405.14 116.19h2.29v2.29h-2.29zM444.85 116.19h2.29v2.29h-2.29zM442.86 118.18h2.29v2.29h-2.29zM444.85 120.16h2.29v2.29h-2.29zM375.37 124.13h2.29v2.29h-2.29zM442.86 124.13h2.29v2.29h-2.29zM440.88 126.12h2.29v2.29h-2.29zM407.13 128.10h2.29v2.29h-2.29zM438.89 128.10h2.29v2.29h-2.29zM436.90 130.09h2.29v2.29h-2.29zM383.31 143.98h2.29v2.29h-2.29zM389.26 143.98h2.29v2.29h-2.29zM472.63 145.97h2.29v2.29h-2.29zM476.61 147.95h2.29v2.29h-2.29zM309.87 149.94h2.29v2.29h-2.29zM468.67 149.94h2.29v2.29h-2.29zM379.34 151.92h2.29v2.29h-2.29zM373.38 155.89h2.29v2.29h-2.29zM327.73 159.86h2.29v2.29h-2.29zM339.64 159.86h2.29v2.29h-2.29zM369.42 161.84h2.29v2.29h-2.29zM486.53 161.84h4.27v2.29h-4.27zM327.73 163.83h2.29v2.29h-2.29zM452.78 165.81h2.29v2.29h-2.29zM464.70 165.81h2.29v2.29h-2.29zM423.01 167.80h2.29v2.29h-2.29zM462.71 167.80h2.29v2.29h-2.29zM421.02 169.78h4.27v2.29h-4.27zM472.63 177.72h2.29v2.29h-2.29zM476.61 181.70h2.29v2.29h-2.29zM377.36 183.68h2.29v2.29h-2.29zM480.58 183.68h2.29v2.29h-2.29zM377.36 187.65h2.29v2.29h-2.29zM297.95 197.58h2.29v2.29h-2.29zM482.56 199.56h2.29v2.29h-2.29zM301.93 205.52h2.29v2.29h-2.29zM480.58 205.52h2.29v2.29h-2.29z"/><path fill="#0bbdbd" d="M478.59 10.98h2.29v2.29h-2.29zM478.59 12.97h2.29v2.29h-2.29zM307.88 24.88h2.29v2.29h-2.29zM295.97 26.87h2.29v2.29h-2.29zM311.85 28.85h2.29v2.29h-2.29zM375.37 34.80h2.29v2.29h-2.29zM313.83 38.78h2.29v2.29h-2.29zM383.31 38.78h2.29v2.29h-2.29zM313.83 40.76h2.29v2.29h-2.29zM393.24 40.76h2.29v2.29h-2.29zM379.34 42.75h2.29v2.29h-2.29zM299.94 44.73h2.29v2.29h-2.29zM292.00 46.72h6.25v2.29h-6.25zM444.85 46.72h2.29v2.29h-2.29zM293.99 48.70h2.29v2.29h-2.29zM444.85 48.70h2.29v2.29h-2.29zM292.00 50.69h4.27v2.29h-4.27zM444.85 50.69h2.29v2.29h-2.29zM452.78 50.69h2.29v2.29h-2.29zM369.42 52.67h2.29v2.29h-2.29zM454.77 52.67h2.29v2.29h-2.29zM399.19 56.64h2.29v2.29h-2.29zM361.48 58.62h2.29v2.29h-2.29zM405.14 58.62h2.29v2.29h-2.29zM359.49 60.61h2.29v2.29h-2.29zM395.22 64.58h2.29v2.29h-2.29zM393.24 66.56h2.29v2.29h-2.29zM407.13 68.55h2.29v2.29h-2.29zM383.31 76.49h2.29v2.29h-2.29zM359.49 96.34h2.29v2.29h-2.29zM361.48 98.33h2.29v2.29h-2.29zM321.77 108.25h4.27v2.29h-4.27zM367.43 110.23h2.29v2.29h-2.29zM403.16 116.19h2.29v2.29h-2.29zM401.18 118.18h2.29v2.29h-2.29zM444.85 118.18h2.29v2.29h-2.29zM355.52 120.16h2.29v2.29h-2.29zM442.86 120.16h2.29v2.29h-2.29zM438.89 122.15h2.29v2.29h-2.29zM434.92 124.13h2.29v2.29h-2.29zM319.79 126.12h4.27v2.29h-4.27zM432.94 126.12h2.29v2.29h-2.29zM351.55 140.01h2.29v2.29h-2.29zM377.36 140.01h2.29v2.29h-2.29zM450.80 145.97h2.29v2.29h-2.29zM381.32 147.95h2.29v2.29h-2.29zM421.02 147.95h2.29v2.29h-2.29zM297.95 149.94h2.29v2.29h-2.29zM379.34 149.94h2.29v2.29h-2.29zM391.25 149.94h2.29v2.29h-2.29zM301.93 151.92h2.29v2.29h-2.29zM305.89 151.92h2.29v2.29h-2.29zM343.61 155.89h2.29v2.29h-2.29zM331.70 157.88h2.29v2.29h-2.29zM419.04 159.86h2.29v2.29h-2.29zM371.40 161.84h2.29v2.29h-2.29zM419.04 161.84h2.29v2.29h-2.29zM337.65 167.80h2.29v2.29h-2.29zM369.42 181.70h2.29v2.29h-2.29zM484.55 185.67h2.29v2.29h-2.29zM373.38 189.64h2.29v2.29h-2.29zM375.37 191.62h2.29v2.29h-2.29zM377.36 193.61h2.29v2.29h-2.29zM292.00 197.58h2.29v2.29h-2.29z"/><path fill="#19bfb6" d="M478.59 9.00h2.29v2.29h-2.29zM375.37 12.97h2.29v2.29h-2.29zM466.68 12.97h2.29v2.29h-2.29zM480.58 16.94h2.29v2.29h-2.29zM468.67 18.93h2.29v2.29h-2.29zM299.94 24.88h2.29v2.29h-2.29zM292.00 28.85h2.29v2.29h-2.29zM311.85 30.84h2.29v2.29h-2.29zM367.43 34.80h2.29v2.29h-2.29zM373.38 34.80h2.29v2.29h-2.29zM484.55 34.80h2.29v2.29h-2.29zM313.83 36.79h2.29v2.29h-2.29zM381.32 36.79h2.29v2.29h-2.29zM456.75 36.79h2.29v2.29h-2.29zM484.55 36.79h2.29v2.29h-2.29zM484.55 38.78h2.29v2.29h-2.29zM381.32 40.76h2.29v2.29h-2.29zM391.25 40.76h2.29v2.29h-2.29zM434.92 40.76h2.29v2.29h-2.29zM484.55 40.76h2.29v2.29h-2.29zM292.00 44.73h4.27v2.29h-4.27zM375.37 44.73h2.29v2.29h-2.29zM430.95 44.73h2.29v2.29h-2.29zM484.55 44.73h2.29v2.29h-2.29zM349.56 46.72h2.29v2.29h-2.29zM373.38 46.72h2.29v2.29h-2.29zM393.24 46.72h2.29v2.29h-2.29zM428.97 46.72h2.29v2.29h-2.29zM292.00 48.70h2.29v2.29h-2.29zM347.58 50.69h2.29v2.29h-2.29zM343.61 52.67h2.29v2.29h-2.29zM444.85 52.67h2.29v2.29h-2.29zM343.61 54.66h2.29v2.29h-2.29zM397.20 62.60h2.29v2.29h-2.29zM470.65 64.58h2.29v2.29h-2.29zM432.94 70.53h2.29v2.29h-2.29zM383.31 72.52h2.29v2.29h-2.29zM397.20 72.52h2.29v2.29h-2.29zM383.31 74.51h2.29v2.29h-2.29zM395.22 74.51h2.29v2.29h-2.29zM367.43 90.39h2.29v2.29h-2.29zM365.44 96.34h2.29v2.29h-2.29zM317.81 110.23h2.29v2.29h-2.29zM365.44 110.23h2.29v2.29h-2.29zM359.49 112.22h2.29v2.29h-2.29zM311.85 116.19h2.29v2.29h-2.29zM355.52 118.18h2.29v2.29h-2.29zM405.14 118.18h2.29v2.29h-2.29zM440.88 122.15h4.27v2.29h-4.27zM319.79 124.13h4.27v2.29h-4.27zM434.92 130.09h2.29v2.29h-2.29zM341.62 136.04h2.29v2.29h-2.29zM371.40 140.01h2.29v2.29h-2.29zM379.34 140.01h2.29v2.29h-2.29zM399.19 140.01h2.29v2.29h-2.29zM381.32 142.00h2.29v2.29h-2.29zM391.25 142.00h2.29v2.29h-2.29zM397.20 142.00h2.29v2.29h-2.29zM448.81 142.00h4.27v2.29h-4.27zM295.97 145.97h2.29v2.29h-2.29zM311.85 145.97h2.29v2.29h-2.29zM448.81 145.97h2.29v2.29h-2.29zM379.34 147.95h2.29v2.29h-2.29zM470.65 147.95h2.29v2.29h-2.29zM327.73 149.94h2.29v2.29h-2.29zM377.36 149.94h2.29v2.29h-2.29zM421.02 149.94h2.29v2.29h-2.29zM476.61 149.94h2.29v2.29h-2.29zM303.91 151.92h2.29v2.29h-2.29zM331.70 151.92h2.29v2.29h-2.29zM337.65 151.92h2.29v2.29h-2.29zM393.24 151.92h2.29v2.29h-2.29zM476.61 151.92h2.29v2.29h-2.29zM377.36 153.91h2.29v2.29h-2.29zM401.18 153.91h2.29v2.29h-2.29zM401.18 155.89h2.29v2.29h-2.29zM369.42 157.88h2.29v2.29h-2.29zM401.18 159.86h2.29v2.29h-2.29zM327.73 161.84h2.29v2.29h-2.29zM480.58 161.84h2.29v2.29h-2.29zM484.55 161.84h2.29v2.29h-2.29zM367.43 163.83h2.29v2.29h-2.29zM454.77 163.83h2.29v2.29h-2.29zM462.71 163.83h2.29v2.29h-2.29zM421.02 165.81h2.29v2.29h-2.29zM474.62 165.81h2.29v2.29h-2.29zM419.04 167.80h4.27v2.29h-4.27zM472.63 175.74h2.29v2.29h-2.29zM367.43 179.71h2.29v2.29h-2.29zM379.34 179.71h2.29v2.29h-2.29zM371.40 183.68h2.29v2.29h-2.29zM377.36 189.64h2.29v2.29h-2.29zM377.36 191.62h2.29v2.29h-2.29zM293.99 197.58h4.27v2.29h-4.27zM299.94 199.56h2.29v2.29h-2.29z"/><path fill="#24c1ae" d="M442.86 14.96h2.29v2.29h-2.29zM478.59 14.96h2.29v2.29h-2.29zM446.83 16.94h2.29v2.29h-2.29zM305.89 24.88h2.29v2.29h-2.29zM377.36 24.88h2.29v2.29h-2.29zM309.87 26.87h2.29v2.29h-2.29zM361.48 26.87h2.29v2.29h-2.29zM293.99 28.85h2.29v2.29h-2.29zM311.85 32.82h2.29v2.29h-2.29zM369.42 34.80h4.27v2.29h-4.27zM458.74 34.80h2.29v2.29h-2.29zM311.85 38.78h2.29v2.29h-2.29zM359.49 38.78h2.29v2.29h-2.29zM381.32 38.78h2.29v2.29h-2.29zM311.85 40.76h2.29v2.29h-2.29zM292.00 42.75h2.29v2.29h-2.29zM377.36 42.75h2.29v2.29h-2.29zM432.94 42.75h2.29v2.29h-2.29zM484.55 42.75h2.29v2.29h-2.29zM295.97 44.73h4.27v2.29h-4.27zM371.40 48.70h2.29v2.29h-2.29zM369.42 50.69h2.29v2.29h-2.29zM367.43 54.66h2.29v2.29h-2.29zM444.85 54.66h2.29v2.29h-2.29zM347.58 56.64h2.29v2.29h-2.29zM349.56 58.62h2.29v2.29h-2.29zM403.16 58.62h2.29v2.29h-2.29zM409.12 60.61h2.29v2.29h-2.29zM351.55 64.58h2.29v2.29h-2.29zM357.50 64.58h2.29v2.29h-2.29zM389.26 68.55h2.29v2.29h-2.29zM403.16 70.53h2.29v2.29h-2.29zM385.30 80.46h2.29v2.29h-2.29zM363.46 90.39h2.29v2.29h-2.29zM361.48 94.36h2.29v2.29h-2.29zM367.43 94.36h2.29v2.29h-2.29zM313.83 114.20h2.29v2.29h-2.29zM375.37 114.20h2.29v2.29h-2.29zM307.88 118.18h2.29v2.29h-2.29zM440.88 124.13h2.29v2.29h-2.29zM317.81 126.12h2.29v2.29h-2.29zM292.00 128.10h2.29v2.29h-2.29zM432.94 128.10h2.29v2.29h-2.29zM339.64 132.07h2.29v2.29h-2.29zM417.06 132.07h2.29v2.29h-2.29zM421.02 136.04h2.29v2.29h-2.29zM293.99 142.00h2.29v2.29h-2.29zM395.22 142.00h2.29v2.29h-2.29zM311.85 143.98h2.29v2.29h-2.29zM381.32 143.98h2.29v2.29h-2.29zM448.81 143.98h4.27v2.29h-4.27zM381.32 145.97h2.29v2.29h-2.29zM474.62 147.95h2.29v2.29h-2.29zM335.67 151.92h2.29v2.29h-2.29zM377.36 151.92h2.29v2.29h-2.29zM395.22 151.92h6.25v2.29h-6.25zM470.65 153.91h2.29v2.29h-2.29zM363.46 157.88h2.29v2.29h-2.29zM482.56 161.84h2.29v2.29h-2.29zM419.04 163.83h2.29v2.29h-2.29zM365.44 167.80h2.29v2.29h-2.29zM365.44 175.74h2.29v2.29h-2.29zM379.34 175.74h2.29v2.29h-2.29zM379.34 177.72h2.29v2.29h-2.29zM474.62 179.71h2.29v2.29h-2.29zM375.37 185.67h2.29v2.29h-2.29zM373.38 187.65h2.29v2.29h-2.29z"/><path fill="#2cc4a7" d="M466.68 9.00h2.29v2.29h-2.29zM466.68 10.98h2.29v2.29h-2.29zM444.85 14.96h2.29v2.29h-2.29zM468.67 16.94h2.29v2.29h-2.29zM377.36 20.91h2.29v2.29h-2.29zM301.93 24.88h4.27v2.29h-4.27zM353.54 26.87h2.29v2.29h-2.29zM462.71 32.82h2.29v2.29h-2.29zM311.85 34.80h2.29v2.29h-2.29zM311.85 36.79h2.29v2.29h-2.29zM379.34 36.79h2.29v2.29h-2.29zM438.89 38.78h2.29v2.29h-2.29zM442.86 38.78h2.29v2.29h-2.29zM379.34 40.76h2.29v2.29h-2.29zM293.99 42.75h2.29v2.29h-2.29zM301.93 42.75h4.27v2.29h-4.27zM349.56 48.70h2.29v2.29h-2.29zM428.97 52.67h2.29v2.29h-2.29zM363.46 56.64h2.29v2.29h-2.29zM444.85 56.64h2.29v2.29h-2.29zM399.19 58.62h4.27v2.29h-4.27zM351.55 60.61h2.29v2.29h-2.29zM351.55 62.60h2.29v2.29h-2.29zM472.63 64.58h2.29v2.29h-2.29zM476.61 64.58h2.29v2.29h-2.29zM353.54 66.56h4.27v2.29h-4.27zM395.22 66.56h2.29v2.29h-2.29zM391.25 68.55h4.27v2.29h-4.27zM391.25 76.49h2.29v2.29h-2.29zM389.26 78.48h2.29v2.29h-2.29zM387.28 80.46h2.29v2.29h-2.29zM361.48 96.34h4.27v2.29h-4.27zM325.75 110.23h2.29v2.29h-2.29zM315.82 112.22h2.29v2.29h-2.29zM405.14 120.16h2.29v2.29h-2.29zM436.90 124.13h2.29v2.29h-2.29zM373.38 126.12h2.29v2.29h-2.29zM438.89 126.12h2.29v2.29h-2.29zM293.99 128.10h2.29v2.29h-2.29zM373.38 142.00h4.27v2.29h-4.27zM379.34 142.00h2.29v2.29h-2.29zM393.24 142.00h2.29v2.29h-2.29zM379.34 145.97h2.29v2.29h-2.29zM421.02 145.97h2.29v2.29h-2.29zM377.36 147.95h2.29v2.29h-2.29zM472.63 147.95h2.29v2.29h-2.29zM470.65 149.94h2.29v2.29h-2.29zM333.69 151.92h2.29v2.29h-2.29zM375.37 153.91h2.29v2.29h-2.29zM421.02 155.89h2.29v2.29h-2.29zM333.69 157.88h2.29v2.29h-2.29zM401.18 157.88h2.29v2.29h-2.29zM329.72 165.81h2.29v2.29h-2.29zM419.04 165.81h2.29v2.29h-2.29zM331.70 167.80h2.29v2.29h-2.29zM379.34 167.80h2.29v2.29h-2.29zM454.77 167.80h2.29v2.29h-2.29zM460.73 167.80h2.29v2.29h-2.29zM472.63 169.78h2.29v2.29h-2.29zM379.34 173.75h2.29v2.29h-2.29zM472.63 173.75h2.29v2.29h-2.29zM482.56 183.68h2.29v2.29h-2.29zM373.38 185.67h2.29v2.29h-2.29zM486.53 185.67h2.29v2.29h-2.29zM375.37 187.65h2.29v2.29h-2.29zM375.37 189.64h2.29v2.29h-2.29zM486.53 197.58h2.29v2.29h-2.29z"/><path fill="#31c69f" d="M375.37 14.96h2.29v2.29h-2.29zM359.49 20.91h2.29v2.29h-2.29zM355.52 22.90h2.29v2.29h-2.29zM359.49 26.87h2.29v2.29h-2.29zM363.46 36.79h2.29v2.29h-2.29zM454.77 38.78h2.29v2.29h-2.29zM309.87 40.76h2.29v2.29h-2.29zM452.78 40.76h2.29v2.29h-2.29zM305.89 42.75h2.29v2.29h-2.29zM391.25 42.75h2.29v2.29h-2.29zM351.55 44.73h2.29v2.29h-2.29zM391.25 44.73h2.29v2.29h-2.29zM345.60 52.67h4.27v2.29h-4.27zM345.60 54.66h2.29v2.29h-2.29zM444.85 58.62h2.29v2.29h-2.29zM357.50 62.60h2.29v2.29h-2.29zM397.20 64.58h2.29v2.29h-2.29zM409.12 64.58h2.29v2.29h-2.29zM474.62 64.58h2.29v2.29h-2.29zM407.13 66.56h2.29v2.29h-2.29zM430.95 66.56h2.29v2.29h-2.29zM395.22 68.55h2.29v2.29h-2.29zM438.89 68.55h2.29v2.29h-2.29zM401.18 70.53h2.29v2.29h-2.29zM395.22 72.52h2.29v2.29h-2.29zM385.30 78.48h2.29v2.29h-2.29zM365.44 90.39h2.29v2.29h-2.29zM363.46 92.37h2.29v2.29h-2.29zM367.43 92.37h2.29v2.29h-2.29zM327.73 112.22h2.29v2.29h-2.29zM305.89 120.16h2.29v2.29h-2.29zM303.91 122.15h2.29v2.29h-2.29zM375.37 122.15h2.29v2.29h-2.29zM317.81 124.13h2.29v2.29h-2.29zM438.89 124.13h2.29v2.29h-2.29zM323.76 126.12h2.29v2.29h-2.29zM434.92 126.12h2.29v2.29h-2.29zM436.90 128.10h2.29v2.29h-2.29zM337.65 130.09h2.29v2.29h-2.29zM413.09 132.07h4.27v2.29h-4.27zM349.56 138.03h2.29v2.29h-2.29zM421.02 138.03h2.29v2.29h-2.29zM377.36 142.00h2.29v2.29h-2.29zM379.34 143.98h2.29v2.29h-2.29zM470.65 151.92h2.29v2.29h-2.29zM474.62 153.91h2.29v2.29h-2.29zM345.60 155.89h2.29v2.29h-2.29zM337.65 157.88h2.29v2.29h-2.29zM365.44 157.88h4.27v2.29h-4.27zM476.61 163.83h2.29v2.29h-2.29zM337.65 165.81h2.29v2.29h-2.29zM417.06 165.81h2.29v2.29h-2.29zM462.71 165.81h2.29v2.29h-2.29zM472.63 171.77h2.29v2.29h-2.29zM377.36 181.70h2.29v2.29h-2.29zM478.59 181.70h2.29v2.29h-2.29zM482.56 201.55h2.29v2.29h-2.29z"/><path fill="#37c897" d="M468.67 14.96h2.29v2.29h-2.29zM442.86 18.93h4.27v2.29h-4.27zM377.36 22.90h2.29v2.29h-2.29zM297.95 26.87h2.29v2.29h-2.29zM307.88 26.87h2.29v2.29h-2.29zM309.87 28.85h2.29v2.29h-2.29zM377.36 36.79h2.29v2.29h-2.29zM309.87 38.78h2.29v2.29h-2.29zM379.34 38.78h2.29v2.29h-2.29zM292.00 40.76h2.29v2.29h-2.29zM357.50 40.76h2.29v2.29h-2.29zM377.36 40.76h2.29v2.29h-2.29zM295.97 42.75h2.29v2.29h-2.29zM299.94 42.75h2.29v2.29h-2.29zM307.88 42.75h2.29v2.29h-2.29zM355.52 42.75h2.29v2.29h-2.29zM375.37 42.75h2.29v2.29h-2.29zM393.24 42.75h2.29v2.29h-2.29zM373.38 44.73h2.29v2.29h-2.29zM428.97 48.70h2.29v2.29h-2.29zM349.56 50.69h2.29v2.29h-2.29zM367.43 52.67h2.29v2.29h-2.29zM347.58 54.66h2.29v2.29h-2.29zM349.56 56.64h2.29v2.29h-2.29zM351.55 58.62h2.29v2.29h-2.29zM359.49 58.62h2.29v2.29h-2.29zM399.19 60.61h2.29v2.29h-2.29zM409.12 62.60h2.29v2.29h-2.29zM353.54 64.58h4.27v2.29h-4.27zM405.14 68.55h2.29v2.29h-2.29zM385.30 70.53h2.29v2.29h-2.29zM395.22 70.53h6.25v2.29h-6.25zM393.24 74.51h2.29v2.29h-2.29zM385.30 76.49h2.29v2.29h-2.29zM363.46 94.36h4.27v2.29h-4.27zM319.79 110.23h2.29v2.29h-2.29zM329.72 114.20h2.29v2.29h-2.29zM357.50 114.20h2.29v2.29h-2.29zM403.16 118.18h2.29v2.29h-2.29zM401.18 120.16h2.29v2.29h-2.29zM405.14 122.15h2.29v2.29h-2.29zM323.76 124.13h2.29v2.29h-2.29zM436.90 126.12h2.29v2.29h-2.29zM434.92 128.10h2.29v2.29h-2.29zM421.02 140.01h2.29v2.29h-2.29zM399.19 142.00h2.29v2.29h-2.29zM391.25 143.98h2.29v2.29h-2.29zM397.20 143.98h2.29v2.29h-2.29zM377.36 145.97h2.29v2.29h-2.29zM391.25 147.95h2.29v2.29h-2.29zM375.37 149.94h2.29v2.29h-2.29zM474.62 149.94h2.29v2.29h-2.29zM339.64 151.92h2.29v2.29h-2.29zM375.37 151.92h2.29v2.29h-2.29zM401.18 151.92h2.29v2.29h-2.29zM472.63 153.91h2.29v2.29h-2.29zM371.40 155.89h2.29v2.29h-2.29zM335.67 157.88h2.29v2.29h-2.29zM329.72 159.86h2.29v2.29h-2.29zM460.73 163.83h2.29v2.29h-2.29zM375.37 165.81h2.29v2.29h-2.29zM454.77 165.81h2.29v2.29h-2.29zM335.67 167.80h2.29v2.29h-2.29zM456.75 167.80h2.29v2.29h-2.29zM375.37 183.68h2.29v2.29h-2.29zM488.51 185.67h2.29v2.29h-2.29zM488.51 197.58h2.29v2.29h-2.29z"/><path fill="#3fca8e" d="M361.48 9.00h2.29v2.29h-2.29zM361.48 10.98h2.29v2.29h-2.29zM375.37 16.94h2.29v2.29h-2.29zM375.37 24.88h2.29v2.29h-2.29zM357.50 26.87h2.29v2.29h-2.29zM292.00 30.84h2.29v2.29h-2.29zM309.87 36.79h2.29v2.29h-2.29zM293.99 40.76h2.29v2.29h-2.29zM307.88 40.76h2.29v2.29h-2.29zM436.90 40.76h2.29v2.29h-2.29zM297.95 42.75h2.29v2.29h-2.29zM432.94 44.73h2.29v2.29h-2.29zM371.40 46.72h2.29v2.29h-2.29zM430.95 46.72h2.29v2.29h-2.29zM369.42 48.70h2.29v2.29h-2.29zM452.78 48.70h2.29v2.29h-2.29zM428.97 50.69h2.29v2.29h-2.29zM349.56 52.67h2.29v2.29h-2.29zM353.54 60.61h2.29v2.29h-2.29zM357.50 60.61h2.29v2.29h-2.29zM353.54 62.60h4.27v2.29h-4.27zM478.59 62.60h2.29v2.29h-2.29zM397.20 66.56h2.29v2.29h-2.29zM397.20 68.55h2.29v2.29h-2.29zM393.24 70.53h2.29v2.29h-2.29zM385.30 74.51h2.29v2.29h-2.29zM365.44 92.37h2.29v2.29h-2.29zM323.76 110.23h2.29v2.29h-2.29zM371.40 112.22h2.29v2.29h-2.29zM301.93 124.13h2.29v2.29h-2.29zM315.82 126.12h2.29v2.29h-2.29zM357.50 126.12h2.29v2.29h-2.29zM337.65 128.10h2.29v2.29h-2.29zM407.13 130.09h2.29v2.29h-2.29zM411.10 132.07h2.29v2.29h-2.29zM353.54 142.00h2.29v2.29h-2.29zM421.02 142.00h2.29v2.29h-2.29zM295.97 143.98h2.29v2.29h-2.29zM377.36 143.98h2.29v2.29h-2.29zM421.02 143.98h2.29v2.29h-2.29zM375.37 147.95h2.29v2.29h-2.29zM472.63 149.94h2.29v2.29h-2.29zM421.02 151.92h2.29v2.29h-2.29zM474.62 151.92h2.29v2.29h-2.29zM341.62 153.91h2.29v2.29h-2.29zM373.38 153.91h2.29v2.29h-2.29zM419.04 157.88h2.29v2.29h-2.29zM329.72 163.83h2.29v2.29h-2.29zM373.38 163.83h2.29v2.29h-2.29zM456.75 163.83h2.29v2.29h-2.29zM415.07 165.81h2.29v2.29h-2.29zM333.69 167.80h2.29v2.29h-2.29zM458.74 167.80h2.29v2.29h-2.29zM365.44 169.78h2.29v2.29h-2.29zM379.34 171.77h2.29v2.29h-2.29zM365.44 173.75h2.29v2.29h-2.29zM474.62 177.72h2.29v2.29h-2.29zM484.55 199.56h2.29v2.29h-2.29zM482.56 203.53h2.29v2.29h-2.29z"/><path fill="#4acb84" d="M468.67 12.97h2.29v2.29h-2.29zM442.86 16.94h4.27v2.29h-4.27zM482.56 18.93h2.29v2.29h-2.29zM371.40 24.88h4.27v2.29h-4.27zM305.89 26.87h2.29v2.29h-2.29zM355.52 26.87h2.29v2.29h-2.29zM295.97 28.85h2.29v2.29h-2.29zM293.99 30.84h2.29v2.29h-2.29zM309.87 30.84h2.29v2.29h-2.29zM309.87 34.80h2.29v2.29h-2.29zM375.37 36.79h2.29v2.29h-2.29zM377.36 38.78h2.29v2.29h-2.29zM440.88 38.78h2.29v2.29h-2.29zM295.97 40.76h2.29v2.29h-2.29zM375.37 40.76h2.29v2.29h-2.29zM393.24 44.73h2.29v2.29h-2.29zM452.78 46.72h2.29v2.29h-2.29zM480.58 48.70h2.29v2.29h-2.29zM367.43 50.69h2.29v2.29h-2.29zM349.56 54.66h2.29v2.29h-2.29zM365.44 54.66h2.29v2.29h-2.29zM351.55 56.64h2.29v2.29h-2.29zM361.48 56.64h2.29v2.29h-2.29zM353.54 58.62h2.29v2.29h-2.29zM355.52 60.61h2.29v2.29h-2.29zM407.13 60.61h2.29v2.29h-2.29zM399.19 62.60h2.29v2.29h-2.29zM407.13 64.58h2.29v2.29h-2.29zM430.95 64.58h2.29v2.29h-2.29zM432.94 68.55h2.29v2.29h-2.29zM434.92 70.53h4.27v2.29h-4.27zM385.30 72.52h2.29v2.29h-2.29zM393.24 72.52h2.29v2.29h-2.29zM389.26 76.49h2.29v2.29h-2.29zM387.28 78.48h2.29v2.29h-2.29zM321.77 110.23h2.29v2.29h-2.29zM375.37 120.16h2.29v2.29h-2.29zM315.82 124.13h2.29v2.29h-2.29zM299.94 126.12h2.29v2.29h-2.29zM295.97 128.10h2.29v2.29h-2.29zM365.44 128.10h2.29v2.29h-2.29zM371.40 142.00h2.29v2.29h-2.29zM375.37 143.98h2.29v2.29h-2.29zM395.22 143.98h2.29v2.29h-2.29zM375.37 145.97h2.29v2.29h-2.29zM391.25 145.97h2.29v2.29h-2.29zM309.87 147.95h2.29v2.29h-2.29zM472.63 151.92h2.29v2.29h-2.29zM347.58 155.89h2.29v2.29h-2.29zM403.16 161.84h2.29v2.29h-2.29zM458.74 163.83h2.29v2.29h-2.29zM407.13 165.81h2.29v2.29h-2.29zM377.36 167.80h2.29v2.29h-2.29zM379.34 169.78h2.29v2.29h-2.29zM365.44 171.77h2.29v2.29h-2.29zM476.61 179.71h2.29v2.29h-2.29zM480.58 181.70h2.29v2.29h-2.29zM373.38 183.68h2.29v2.29h-2.29zM292.00 199.56h2.29v2.29h-2.29zM299.94 201.55h2.29v2.29h-2.29zM482.56 205.52h2.29v2.29h-2.29z"/><path fill="#57cc7a" d="M468.67 10.98h2.29v2.29h-2.29zM361.48 12.97h2.29v2.29h-2.29zM470.65 14.96h2.29v2.29h-2.29zM375.37 18.93h2.29v2.29h-2.29zM357.50 22.90h2.29v2.29h-2.29zM367.43 24.88h4.27v2.29h-4.27zM299.94 26.87h2.29v2.29h-2.29zM309.87 32.82h2.29v2.29h-2.29zM365.44 36.79h2.29v2.29h-2.29zM292.00 38.78h4.27v2.29h-4.27zM307.88 38.78h2.29v2.29h-2.29zM361.48 38.78h2.29v2.29h-2.29zM305.89 40.76h2.29v2.29h-2.29zM442.86 40.76h2.29v2.29h-2.29zM373.38 42.75h2.29v2.29h-2.29zM434.92 42.75h2.29v2.29h-2.29zM452.78 42.75h2.29v2.29h-2.29zM452.78 44.73h2.29v2.29h-2.29zM454.77 50.69h2.29v2.29h-2.29zM456.75 52.67h2.29v2.29h-2.29zM430.95 60.61h2.29v2.29h-2.29zM430.95 62.60h2.29v2.29h-2.29zM438.89 66.56h2.29v2.29h-2.29zM399.19 68.55h2.29v2.29h-2.29zM391.25 70.53h2.29v2.29h-2.29zM391.25 74.51h2.29v2.29h-2.29zM361.48 112.22h2.29v2.29h-2.29zM375.37 116.19h2.29v2.29h-2.29zM309.87 118.18h2.29v2.29h-2.29zM357.50 124.13h2.29v2.29h-2.29zM405.14 124.13h2.29v2.29h-2.29zM339.64 134.06h2.29v2.29h-2.29zM292.00 140.01h2.29v2.29h-2.29zM399.19 143.98h2.29v2.29h-2.29zM297.95 147.95h2.29v2.29h-2.29zM327.73 147.95h2.29v2.29h-2.29zM329.72 149.94h2.29v2.29h-2.29zM329.72 161.84h2.29v2.29h-2.29zM337.65 163.83h2.29v2.29h-2.29zM369.42 163.83h2.29v2.29h-2.29zM417.06 163.83h2.29v2.29h-2.29zM367.43 165.81h2.29v2.29h-2.29zM460.73 165.81h2.29v2.29h-2.29zM474.62 167.80h2.29v2.29h-2.29zM474.62 175.74h2.29v2.29h-2.29zM367.43 177.72h2.29v2.29h-2.29zM484.55 183.68h2.29v2.29h-2.29zM293.99 199.56h2.29v2.29h-2.29zM297.95 199.56h2.29v2.29h-2.29z"/><path fill="#64cd6f" d="M468.67 9.00h2.29v2.29h-2.29zM470.65 12.97h2.29v2.29h-2.29zM361.48 14.96h2.29v2.29h-2.29zM361.48 16.94h2.29v2.29h-2.29zM375.37 20.91h2.29v2.29h-2.29zM353.54 24.88h2.29v2.29h-2.29zM301.93 26.87h4.27v2.29h-4.27zM307.88 28.85h2.29v2.29h-2.29zM292.00 32.82h2.29v2.29h-2.29zM373.38 36.79h2.29v2.29h-2.29zM375.37 38.78h2.29v2.29h-2.29zM297.95 40.76h2.29v2.29h-2.29zM303.91 40.76h2.29v2.29h-2.29zM353.54 44.73h2.29v2.29h-2.29zM351.55 46.72h2.29v2.29h-2.29zM482.56 46.72h2.29v2.29h-2.29zM351.55 54.66h2.29v2.29h-2.29zM355.52 58.62h4.27v2.29h-4.27zM430.95 58.62h2.29v2.29h-2.29zM407.13 62.60h2.29v2.29h-2.29zM440.88 62.60h2.29v2.29h-2.29zM399.19 64.58h2.29v2.29h-2.29zM405.14 66.56h2.29v2.29h-2.29zM403.16 68.55h2.29v2.29h-2.29zM387.28 76.49h2.29v2.29h-2.29zM317.81 112.22h2.29v2.29h-2.29zM325.75 112.22h2.29v2.29h-2.29zM375.37 118.18h2.29v2.29h-2.29zM319.79 122.15h4.27v2.29h-4.27zM401.18 122.15h2.29v2.29h-2.29zM313.83 126.12h2.29v2.29h-2.29zM371.40 126.12h2.29v2.29h-2.29zM419.04 134.06h2.29v2.29h-2.29zM401.18 136.04h2.29v2.29h-2.29zM309.87 138.03h2.29v2.29h-2.29zM401.18 138.03h2.29v2.29h-2.29zM373.38 143.98h2.29v2.29h-2.29zM393.24 143.98h2.29v2.29h-2.29zM397.20 145.97h2.29v2.29h-2.29zM299.94 149.94h2.29v2.29h-2.29zM307.88 149.94h2.29v2.29h-2.29zM373.38 149.94h2.29v2.29h-2.29zM393.24 149.94h2.29v2.29h-2.29zM397.20 149.94h4.27v2.29h-4.27zM373.38 151.92h2.29v2.29h-2.29zM403.16 153.91h2.29v2.29h-2.29zM349.56 155.89h8.24v2.29h-8.24zM331.70 159.86h2.29v2.29h-2.29zM405.14 163.83h2.29v2.29h-2.29zM331.70 165.81h2.29v2.29h-2.29zM413.09 165.81h2.29v2.29h-2.29zM371.40 181.70h2.29v2.29h-2.29zM295.97 199.56h2.29v2.29h-2.29z"/><path fill="#72cd64" d="M470.65 9.00h2.29v2.29h-2.29zM470.65 10.98h2.29v2.29h-2.29zM476.61 12.97h2.29v2.29h-2.29zM470.65 16.94h2.29v2.29h-2.29zM478.59 16.94h2.29v2.29h-2.29zM361.48 18.93h2.29v2.29h-2.29zM375.37 22.90h2.29v2.29h-2.29zM470.65 22.90h2.29v2.29h-2.29zM365.44 24.88h2.29v2.29h-2.29zM470.65 24.88h2.29v2.29h-2.29zM468.67 28.85h2.29v2.29h-2.29zM466.68 30.84h2.29v2.29h-2.29zM293.99 32.82h2.29v2.29h-2.29zM292.00 34.80h2.29v2.29h-2.29zM292.00 36.79h4.27v2.29h-4.27zM307.88 36.79h2.29v2.29h-2.29zM458.74 36.79h2.29v2.29h-2.29zM295.97 38.78h2.29v2.29h-2.29zM299.94 40.76h4.27v2.29h-4.27zM373.38 40.76h2.29v2.29h-2.29zM371.40 44.73h2.29v2.29h-2.29zM369.42 46.72h2.29v2.29h-2.29zM367.43 48.70h2.29v2.29h-2.29zM478.59 52.67h2.29v2.29h-2.29zM478.59 54.66h2.29v2.29h-2.29zM353.54 56.64h2.29v2.29h-2.29zM430.95 56.64h2.29v2.29h-2.29zM401.18 60.61h2.29v2.29h-2.29zM405.14 60.61h2.29v2.29h-2.29zM399.19 66.56h2.29v2.29h-2.29zM401.18 68.55h2.29v2.29h-2.29zM387.28 70.53h2.29v2.29h-2.29zM391.25 72.52h2.29v2.29h-2.29zM387.28 74.51h2.29v2.29h-2.29zM327.73 114.20h2.29v2.29h-2.29zM313.83 116.19h2.29v2.29h-2.29zM403.16 120.16h2.29v2.29h-2.29zM405.14 126.12h2.29v2.29h-2.29zM401.18 132.07h2.29v2.29h-2.29zM409.12 132.07h2.29v2.29h-2.29zM401.18 134.06h2.29v2.29h-2.29zM309.87 136.04h2.29v2.29h-2.29zM343.61 138.03h2.29v2.29h-2.29zM347.58 138.03h2.29v2.29h-2.29zM293.99 140.01h2.29v2.29h-2.29zM309.87 140.01h2.29v2.29h-2.29zM401.18 140.01h2.29v2.29h-2.29zM327.73 142.00h2.29v2.29h-2.29zM351.55 142.00h2.29v2.29h-2.29zM355.52 142.00h2.29v2.29h-2.29zM327.73 143.98h2.29v2.29h-2.29zM327.73 145.97h2.29v2.29h-2.29zM373.38 147.95h2.29v2.29h-2.29zM417.06 161.84h2.29v2.29h-2.29zM371.40 163.83h2.29v2.29h-2.29zM335.67 165.81h2.29v2.29h-2.29zM456.75 165.81h4.27v2.29h-4.27zM474.62 173.75h2.29v2.29h-2.29zM369.42 179.71h2.29v2.29h-2.29zM482.56 181.70h2.29v2.29h-2.29zM486.53 199.56h2.29v2.29h-2.29zM484.55 201.55h2.29v2.29h-2.29z"/><path fill="#81cc59" d="M472.63 10.98h2.29v2.29h-2.29zM476.61 10.98h2.29v2.29h-2.29zM472.63 12.97h2.29v2.29h-2.29zM472.63 14.96h2.29v2.29h-2.29zM476.61 14.96h2.29v2.29h-2.29zM470.65 18.93h2.29v2.29h-2.29zM361.48 20.91h2.29v2.29h-2.29zM297.95 28.85h2.29v2.29h-2.29zM305.89 28.85h2.29v2.29h-2.29zM295.97 30.84h2.29v2.29h-2.29zM464.70 32.82h2.29v2.29h-2.29zM293.99 34.80h2.29v2.29h-2.29zM460.73 34.80h2.29v2.29h-2.29zM367.43 36.79h6.25v2.29h-6.25zM373.38 38.78h2.29v2.29h-2.29zM438.89 40.76h2.29v2.29h-2.29zM371.40 42.75h2.29v2.29h-2.29zM351.55 48.70h2.29v2.29h-2.29zM351.55 50.69h2.29v2.29h-2.29zM351.55 52.67h2.29v2.29h-2.29zM365.44 52.67h2.29v2.29h-2.29zM363.46 54.66h2.29v2.29h-2.29zM359.49 56.64h2.29v2.29h-2.29zM403.16 60.61h2.29v2.29h-2.29zM478.59 60.61h2.29v2.29h-2.29zM470.65 62.60h2.29v2.29h-2.29zM438.89 64.58h2.29v2.29h-2.29zM389.26 70.53h2.29v2.29h-2.29zM389.26 74.51h2.29v2.29h-2.29zM315.82 114.20h2.29v2.29h-2.29zM317.81 122.15h2.29v2.29h-2.29zM323.76 122.15h2.29v2.29h-2.29zM313.83 124.13h2.29v2.29h-2.29zM401.18 124.13h2.29v2.29h-2.29zM325.75 126.12h2.29v2.29h-2.29zM401.18 128.10h2.29v2.29h-2.29zM401.18 130.09h2.29v2.29h-2.29zM337.65 132.07h2.29v2.29h-2.29zM309.87 134.06h2.29v2.29h-2.29zM345.60 138.03h2.29v2.29h-2.29zM327.73 140.01h2.29v2.29h-2.29zM373.38 145.97h2.29v2.29h-2.29zM399.19 145.97h2.29v2.29h-2.29zM395.22 149.94h2.29v2.29h-2.29zM403.16 151.92h2.29v2.29h-2.29zM357.50 155.89h2.29v2.29h-2.29zM409.12 165.81h4.27v2.29h-4.27zM377.36 179.71h2.29v2.29h-2.29zM478.59 179.71h2.29v2.29h-2.29zM375.37 181.70h2.29v2.29h-2.29zM486.53 183.68h2.29v2.29h-2.29z"/><path fill="#8fcb4e" d="M373.38 9.00h2.29v2.29h-2.29zM472.63 9.00h2.29v2.29h-2.29zM476.61 9.00h2.29v2.29h-2.29zM470.65 20.91h2.29v2.29h-2.29zM359.49 22.90h2.29v2.29h-2.29zM363.46 24.88h2.29v2.29h-2.29zM307.88 30.84h2.29v2.29h-2.29zM307.88 34.80h2.29v2.29h-2.29zM295.97 36.79h2.29v2.29h-2.29zM297.95 38.78h2.29v2.29h-2.29zM305.89 38.78h2.29v2.29h-2.29zM363.46 38.78h2.29v2.29h-2.29zM456.75 38.78h2.29v2.29h-2.29zM359.49 40.76h2.29v2.29h-2.29zM371.40 40.76h2.29v2.29h-2.29zM442.86 42.75h2.29v2.29h-2.29zM434.92 44.73h2.29v2.29h-2.29zM432.94 46.72h2.29v2.29h-2.29zM430.95 48.70h2.29v2.29h-2.29zM478.59 50.69h2.29v2.29h-2.29zM353.54 54.66h2.29v2.29h-2.29zM430.95 54.66h2.29v2.29h-2.29zM355.52 56.64h2.29v2.29h-2.29zM478.59 56.64h2.29v2.29h-2.29zM405.14 64.58h2.29v2.29h-2.29zM387.28 72.52h2.29v2.29h-2.29zM369.42 112.22h2.29v2.29h-2.29zM357.50 116.19h2.29v2.29h-2.29zM357.50 122.15h2.29v2.29h-2.29zM369.42 126.12h2.29v2.29h-2.29zM401.18 126.12h2.29v2.29h-2.29zM325.75 128.10h2.29v2.29h-2.29zM335.67 128.10h2.29v2.29h-2.29zM292.00 130.09h2.29v2.29h-2.29zM341.62 138.03h2.29v2.29h-2.29zM349.56 140.01h2.29v2.29h-2.29zM295.97 142.00h2.29v2.29h-2.29zM401.18 142.00h2.29v2.29h-2.29zM309.87 145.97h2.29v2.29h-2.29zM393.24 145.97h4.27v2.29h-4.27zM397.20 147.95h4.27v2.29h-4.27zM401.18 149.94h2.29v2.29h-2.29zM369.42 155.89h2.29v2.29h-2.29zM403.16 155.89h2.29v2.29h-2.29zM337.65 159.86h2.29v2.29h-2.29zM417.06 159.86h2.29v2.29h-2.29zM337.65 161.84h2.29v2.29h-2.29zM331.70 163.83h2.29v2.29h-2.29zM478.59 163.83h2.29v2.29h-2.29zM488.51 163.83h2.29v2.29h-2.29zM333.69 165.81h2.29v2.29h-2.29zM375.37 167.80h2.29v2.29h-2.29zM377.36 169.78h2.29v2.29h-2.29zM474.62 169.78h2.29v2.29h-2.29zM474.62 171.77h2.29v2.29h-2.29zM377.36 173.75h2.29v2.29h-2.29zM476.61 177.72h2.29v2.29h-2.29zM488.51 199.56h2.29v2.29h-2.29zM299.94 203.53h2.29v2.29h-2.29zM484.55 203.53h2.29v2.29h-2.29z"/><path fill="#9dc943" d="M373.38 10.98h2.29v2.29h-2.29zM474.62 10.98h2.29v2.29h-2.29zM474.62 12.97h2.29v2.29h-2.29zM474.62 14.96h2.29v2.29h-2.29zM373.38 22.90h2.29v2.29h-2.29zM355.52 24.88h2.29v2.29h-2.29zM361.48 24.88h2.29v2.29h-2.29zM470.65 26.87h2.29v2.29h-2.29zM303.91 28.85h2.29v2.29h-2.29zM295.97 32.82h2.29v2.29h-2.29zM307.88 32.82h2.29v2.29h-2.29zM295.97 34.80h2.29v2.29h-2.29zM371.40 38.78h2.29v2.29h-2.29zM357.50 42.75h2.29v2.29h-2.29zM436.90 42.75h2.29v2.29h-2.29zM454.77 48.70h2.29v2.29h-2.29zM365.44 50.69h2.29v2.29h-2.29zM357.50 56.64h2.29v2.29h-2.29zM478.59 58.62h2.29v2.29h-2.29zM442.86 60.61h2.29v2.29h-2.29zM401.18 62.60h2.29v2.29h-2.29zM405.14 62.60h2.29v2.29h-2.29zM472.63 62.60h2.29v2.29h-2.29zM476.61 62.60h2.29v2.29h-2.29zM401.18 66.56h4.27v2.29h-4.27zM389.26 72.52h2.29v2.29h-2.29zM319.79 112.22h2.29v2.29h-2.29zM323.76 112.22h2.29v2.29h-2.29zM363.46 112.22h2.29v2.29h-2.29zM329.72 116.19h2.29v2.29h-2.29zM311.85 118.18h2.29v2.29h-2.29zM305.89 122.15h2.29v2.29h-2.29zM315.82 122.15h2.29v2.29h-2.29zM325.75 124.13h2.29v2.29h-2.29zM311.85 126.12h2.29v2.29h-2.29zM405.14 128.10h2.29v2.29h-2.29zM335.67 130.09h2.29v2.29h-2.29zM309.87 132.07h2.29v2.29h-2.29zM307.88 134.06h2.29v2.29h-2.29zM327.73 138.03h2.29v2.29h-2.29zM309.87 142.00h2.29v2.29h-2.29zM369.42 142.00h2.29v2.29h-2.29zM371.40 143.98h2.29v2.29h-2.29zM393.24 147.95h2.29v2.29h-2.29zM337.65 149.94h2.29v2.29h-2.29zM341.62 151.92h2.29v2.29h-2.29zM371.40 153.91h2.29v2.29h-2.29zM333.69 159.86h2.29v2.29h-2.29zM331.70 161.84h2.29v2.29h-2.29zM486.53 163.83h2.29v2.29h-2.29zM373.38 165.81h2.29v2.29h-2.29zM476.61 165.81h2.29v2.29h-2.29zM377.36 171.77h2.29v2.29h-2.29zM377.36 175.74h2.29v2.29h-2.29zM377.36 177.72h2.29v2.29h-2.29zM480.58 179.71h2.29v2.29h-2.29zM373.38 181.70h2.29v2.29h-2.29zM488.51 183.68h2.29v2.29h-2.29zM299.94 205.52h2.29v2.29h-2.29zM484.55 205.52h2.29v2.29h-2.29z"/><path fill="#abc739" d="M474.62 9.00h2.29v2.29h-2.29zM373.38 20.91h2.29v2.29h-2.29zM361.48 22.90h2.29v2.29h-2.29zM371.40 22.90h2.29v2.29h-2.29zM357.50 24.88h4.27v2.29h-4.27zM299.94 28.85h4.27v2.29h-4.27zM297.95 36.79h2.29v2.29h-2.29zM299.94 38.78h2.29v2.29h-2.29zM303.91 38.78h2.29v2.29h-2.29zM365.44 38.78h2.29v2.29h-2.29zM369.42 38.78h2.29v2.29h-2.29zM440.88 40.76h2.29v2.29h-2.29zM454.77 40.76h2.29v2.29h-2.29zM369.42 44.73h2.29v2.29h-2.29zM367.43 46.72h2.29v2.29h-2.29zM456.75 50.69h2.29v2.29h-2.29zM361.48 54.66h2.29v2.29h-2.29zM401.18 64.58h2.29v2.29h-2.29zM432.94 66.56h2.29v2.29h-2.29zM321.77 112.22h2.29v2.29h-2.29zM359.49 114.20h2.29v2.29h-2.29zM373.38 114.20h2.29v2.29h-2.29zM307.88 120.16h2.29v2.29h-2.29zM403.16 122.15h2.29v2.29h-2.29zM303.91 124.13h2.29v2.29h-2.29zM373.38 124.13h2.29v2.29h-2.29zM297.95 128.10h2.29v2.29h-2.29zM293.99 130.09h2.29v2.29h-2.29zM309.87 130.09h2.29v2.29h-2.29zM339.64 136.04h2.29v2.29h-2.29zM329.72 142.00h2.29v2.29h-2.29zM309.87 143.98h2.29v2.29h-2.29zM329.72 143.98h2.29v2.29h-2.29zM297.95 145.97h2.29v2.29h-2.29zM329.72 147.95h2.29v2.29h-2.29zM395.22 147.95h2.29v2.29h-2.29zM301.93 149.94h2.29v2.29h-2.29zM331.70 149.94h2.29v2.29h-2.29zM343.61 153.91h2.29v2.29h-2.29zM359.49 155.89h2.29v2.29h-2.29zM419.04 155.89h2.29v2.29h-2.29zM415.07 163.83h2.29v2.29h-2.29zM367.43 167.80h2.29v2.29h-2.29zM367.43 175.74h2.29v2.29h-2.29zM476.61 175.74h2.29v2.29h-2.29zM484.55 181.70h2.29v2.29h-2.29zM292.00 201.55h2.29v2.29h-2.29zM486.53 201.55h2.29v2.29h-2.29z"/><path fill="#b9c431" d="M373.38 12.97h2.29v2.29h-2.29zM472.63 16.94h2.29v2.29h-2.29zM369.42 22.90h2.29v2.29h-2.29zM297.95 30.84h2.29v2.29h-2.29zM305.89 30.84h2.29v2.29h-2.29zM305.89 36.79h2.29v2.29h-2.29zM301.93 38.78h2.29v2.29h-2.29zM367.43 38.78h2.29v2.29h-2.29zM361.48 40.76h2.29v2.29h-2.29zM369.42 40.76h2.29v2.29h-2.29zM369.42 42.75h2.29v2.29h-2.29zM355.52 44.73h2.29v2.29h-2.29zM454.77 46.72h2.29v2.29h-2.29zM353.54 52.67h2.29v2.29h-2.29zM430.95 52.67h2.29v2.29h-2.29zM355.52 54.66h2.29v2.29h-2.29zM403.16 62.60h2.29v2.29h-2.29zM474.62 62.60h2.29v2.29h-2.29zM403.16 64.58h2.29v2.29h-2.29zM434.92 68.55h4.27v2.29h-4.27zM365.44 112.22h4.27v2.29h-4.27zM325.75 114.20h2.29v2.29h-2.29zM327.73 116.19h2.29v2.29h-2.29zM367.43 126.12h2.29v2.29h-2.29zM309.87 128.10h2.29v2.29h-2.29zM307.88 132.07h2.29v2.29h-2.29zM307.88 136.04h2.29v2.29h-2.29zM327.73 136.04h2.29v2.29h-2.29zM292.00 138.03h2.29v2.29h-2.29zM329.72 140.01h2.29v2.29h-2.29zM401.18 143.98h2.29v2.29h-2.29zM329.72 145.97h2.29v2.29h-2.29zM371.40 145.97h2.29v2.29h-2.29zM401.18 147.95h2.29v2.29h-2.29zM305.89 149.94h2.29v2.29h-2.29zM339.64 149.94h2.29v2.29h-2.29zM371.40 151.92h2.29v2.29h-2.29zM335.67 159.86h2.29v2.29h-2.29zM335.67 163.83h2.29v2.29h-2.29zM484.55 163.83h2.29v2.29h-2.29zM476.61 173.75h2.29v2.29h-2.29zM478.59 177.72h2.29v2.29h-2.29zM482.56 179.71h2.29v2.29h-2.29zM293.99 201.55h2.29v2.29h-2.29zM297.95 201.55h2.29v2.29h-2.29zM488.51 201.55h2.29v2.29h-2.29zM486.53 203.53h2.29v2.29h-2.29zM486.53 205.52h2.29v2.29h-2.29z"/><path fill="#c5c22a" d="M476.61 16.94h2.29v2.29h-2.29zM373.38 18.93h2.29v2.29h-2.29zM480.58 18.93h2.29v2.29h-2.29zM363.46 22.90h6.25v2.29h-6.25zM482.56 26.87h2.29v2.29h-2.29zM482.56 28.85h2.29v2.29h-2.29zM303.91 30.84h2.29v2.29h-2.29zM297.95 32.82h2.29v2.29h-2.29zM297.95 34.80h2.29v2.29h-2.29zM367.43 40.76h2.29v2.29h-2.29zM442.86 44.73h2.29v2.29h-2.29zM454.77 44.73h2.29v2.29h-2.29zM353.54 46.72h2.29v2.29h-2.29zM365.44 48.70h2.29v2.29h-2.29zM353.54 50.69h2.29v2.29h-2.29zM430.95 50.69h2.29v2.29h-2.29zM458.74 50.69h2.29v2.29h-2.29zM462.71 50.69h6.25v2.29h-6.25zM363.46 52.67h2.29v2.29h-2.29zM442.86 52.67h2.29v2.29h-2.29zM357.50 54.66h4.27v2.29h-4.27zM357.50 118.18h2.29v2.29h-2.29zM357.50 120.16h2.29v2.29h-2.29zM325.75 122.15h2.29v2.29h-2.29zM311.85 124.13h2.29v2.29h-2.29zM301.93 126.12h2.29v2.29h-2.29zM359.49 126.12h2.29v2.29h-2.29zM327.73 128.10h2.29v2.29h-2.29zM327.73 130.09h2.29v2.29h-2.29zM327.73 132.07h2.29v2.29h-2.29zM407.13 132.07h2.29v2.29h-2.29zM327.73 134.06h2.29v2.29h-2.29zM419.04 136.04h2.29v2.29h-2.29zM329.72 138.03h2.29v2.29h-2.29zM401.18 145.97h2.29v2.29h-2.29zM371.40 147.95h2.29v2.29h-2.29zM419.04 147.95h2.29v2.29h-2.29zM303.91 149.94h2.29v2.29h-2.29zM335.67 149.94h2.29v2.29h-2.29zM371.40 149.94h2.29v2.29h-2.29zM419.04 149.94h2.29v2.29h-2.29zM403.16 159.86h2.29v2.29h-2.29zM333.69 161.84h2.29v2.29h-2.29zM333.69 163.83h2.29v2.29h-2.29zM480.58 163.83h4.27v2.29h-4.27zM369.42 165.81h2.29v2.29h-2.29zM375.37 169.78h2.29v2.29h-2.29zM371.40 179.71h2.29v2.29h-2.29zM488.51 203.53h2.29v2.29h-2.29zM488.51 205.52h2.29v2.29h-2.29z"/><path fill="#d1bf27" d="M363.46 9.00h2.29v2.29h-2.29zM373.38 14.96h2.29v2.29h-2.29zM373.38 16.94h2.29v2.29h-2.29zM474.62 16.94h2.29v2.29h-2.29zM363.46 20.91h2.29v2.29h-2.29zM371.40 20.91h2.29v2.29h-2.29zM482.56 20.91h2.29v2.29h-2.29zM482.56 24.88h2.29v2.29h-2.29zM299.94 30.84h4.27v2.29h-4.27zM482.56 30.84h2.29v2.29h-2.29zM305.89 32.82h2.29v2.29h-2.29zM482.56 32.82h2.29v2.29h-2.29zM305.89 34.80h2.29v2.29h-2.29zM482.56 34.80h2.29v2.29h-2.29zM299.94 36.79h2.29v2.29h-2.29zM482.56 36.79h2.29v2.29h-2.29zM482.56 38.78h2.29v2.29h-2.29zM363.46 40.76h4.27v2.29h-4.27zM367.43 42.75h2.29v2.29h-2.29zM454.77 42.75h2.29v2.29h-2.29zM367.43 44.73h2.29v2.29h-2.29zM482.56 44.73h2.29v2.29h-2.29zM434.92 46.72h2.29v2.29h-2.29zM442.86 46.72h2.29v2.29h-2.29zM353.54 48.70h2.29v2.29h-2.29zM442.86 48.70h2.29v2.29h-2.29zM456.75 48.70h2.29v2.29h-2.29zM478.59 48.70h2.29v2.29h-2.29zM442.86 50.69h2.29v2.29h-2.29zM460.73 50.69h2.29v2.29h-2.29zM355.52 52.67h2.29v2.29h-2.29zM442.86 54.66h2.29v2.29h-2.29zM432.94 60.61h2.29v2.29h-2.29zM470.65 60.61h2.29v2.29h-2.29zM438.89 62.60h2.29v2.29h-2.29zM317.81 114.20h2.29v2.29h-2.29zM315.82 116.19h2.29v2.29h-2.29zM313.83 118.18h2.29v2.29h-2.29zM313.83 122.15h2.29v2.29h-2.29zM309.87 126.12h2.29v2.29h-2.29zM307.88 130.09h2.29v2.29h-2.29zM405.14 130.09h2.29v2.29h-2.29zM293.99 138.03h2.29v2.29h-2.29zM295.97 140.01h2.29v2.29h-2.29zM357.50 142.00h2.29v2.29h-2.29zM419.04 145.97h2.29v2.29h-2.29zM307.88 147.95h2.29v2.29h-2.29zM333.69 149.94h2.29v2.29h-2.29zM403.16 149.94h2.29v2.29h-2.29zM361.48 155.89h2.29v2.29h-2.29zM403.16 157.88h2.29v2.29h-2.29zM417.06 157.88h2.29v2.29h-2.29zM335.67 161.84h2.29v2.29h-2.29zM371.40 165.81h2.29v2.29h-2.29zM375.37 171.77h2.29v2.29h-2.29zM476.61 171.77h2.29v2.29h-2.29zM375.37 173.75h2.29v2.29h-2.29zM478.59 175.74h2.29v2.29h-2.29zM369.42 177.72h2.29v2.29h-2.29zM480.58 177.72h2.29v2.29h-2.29zM375.37 179.71h2.29v2.29h-2.29zM486.53 181.70h2.29v2.29h-2.29zM295.97 201.55h2.29v2.29h-2.29z"/><path fill="#dcbd29" d="M363.46 10.98h2.29v2.29h-2.29zM299.94 34.80h2.29v2.29h-2.29zM462.71 34.80h2.29v2.29h-2.29zM303.91 36.79h2.29v2.29h-2.29zM458.74 38.78h2.29v2.29h-2.29zM482.56 40.76h2.29v2.29h-2.29zM359.49 42.75h2.29v2.29h-2.29zM438.89 42.75h2.29v2.29h-2.29zM436.90 44.73h2.29v2.29h-2.29zM365.44 46.72h2.29v2.29h-2.29zM480.58 46.72h2.29v2.29h-2.29zM432.94 48.70h2.29v2.29h-2.29zM458.74 48.70h2.29v2.29h-2.29zM432.94 58.62h2.29v2.29h-2.29zM432.94 62.60h2.29v2.29h-2.29zM432.94 64.58h2.29v2.29h-2.29zM403.16 124.13h2.29v2.29h-2.29zM327.73 126.12h2.29v2.29h-2.29zM333.69 128.10h2.29v2.29h-2.29zM292.00 132.07h2.29v2.29h-2.29zM329.72 134.06h2.29v2.29h-2.29zM417.06 134.06h2.29v2.29h-2.29zM329.72 136.04h2.29v2.29h-2.29zM339.64 138.03h2.29v2.29h-2.29zM419.04 138.03h2.29v2.29h-2.29zM419.04 140.01h2.29v2.29h-2.29zM349.56 142.00h2.29v2.29h-2.29zM419.04 142.00h2.29v2.29h-2.29zM353.54 143.98h2.29v2.29h-2.29zM369.42 143.98h2.29v2.29h-2.29zM419.04 143.98h2.29v2.29h-2.29zM299.94 147.95h2.29v2.29h-2.29zM341.62 149.94h2.29v2.29h-2.29zM405.14 153.91h2.29v2.29h-2.29zM367.43 155.89h2.29v2.29h-2.29zM415.07 161.84h2.29v2.29h-2.29zM373.38 167.80h2.29v2.29h-2.29zM476.61 167.80h2.29v2.29h-2.29zM367.43 169.78h2.29v2.29h-2.29zM367.43 173.75h2.29v2.29h-2.29zM484.55 179.71h2.29v2.29h-2.29zM488.51 181.70h2.29v2.29h-2.29z"/><path fill="#e6bb2d" d="M363.46 18.93h2.29v2.29h-2.29zM472.63 18.93h2.29v2.29h-2.29zM365.44 20.91h2.29v2.29h-2.29zM369.42 20.91h2.29v2.29h-2.29zM482.56 22.90h2.29v2.29h-2.29zM470.65 28.85h2.29v2.29h-2.29zM468.67 30.84h2.29v2.29h-2.29zM299.94 32.82h2.29v2.29h-2.29zM303.91 32.82h2.29v2.29h-2.29zM466.68 32.82h2.29v2.29h-2.29zM301.93 36.79h2.29v2.29h-2.29zM361.48 42.75h6.25v2.29h-6.25zM482.56 42.75h2.29v2.29h-2.29zM357.50 44.73h2.29v2.29h-2.29zM365.44 44.73h2.29v2.29h-2.29zM456.75 46.72h2.29v2.29h-2.29zM460.73 48.70h6.25v2.29h-6.25zM355.52 50.69h2.29v2.29h-2.29zM363.46 50.69h2.29v2.29h-2.29zM468.67 50.69h2.29v2.29h-2.29zM357.50 52.67h2.29v2.29h-2.29zM361.48 52.67h2.29v2.29h-2.29zM468.67 52.67h2.29v2.29h-2.29zM442.86 56.64h2.29v2.29h-2.29zM442.86 58.62h2.29v2.29h-2.29zM323.76 114.20h2.29v2.29h-2.29zM325.75 116.19h2.29v2.29h-2.29zM327.73 118.18h4.27v2.29h-4.27zM315.82 120.16h10.23v2.29h-10.23zM373.38 122.15h2.29v2.29h-2.29zM305.89 124.13h2.29v2.29h-2.29zM309.87 124.13h2.29v2.29h-2.29zM359.49 124.13h2.29v2.29h-2.29zM365.44 126.12h2.29v2.29h-2.29zM403.16 126.12h2.29v2.29h-2.29zM307.88 128.10h2.29v2.29h-2.29zM329.72 128.10h2.29v2.29h-2.29zM295.97 130.09h2.29v2.29h-2.29zM329.72 130.09h2.29v2.29h-2.29zM329.72 132.07h2.29v2.29h-2.29zM335.67 132.07h2.29v2.29h-2.29zM292.00 136.04h2.29v2.29h-2.29zM307.88 138.03h2.29v2.29h-2.29zM403.16 138.03h2.29v2.29h-2.29zM403.16 140.01h2.29v2.29h-2.29zM297.95 143.98h2.29v2.29h-2.29zM331.70 143.98h2.29v2.29h-2.29zM351.55 143.98h2.29v2.29h-2.29zM355.52 143.98h2.29v2.29h-2.29zM419.04 151.92h2.29v2.29h-2.29zM345.60 153.91h2.29v2.29h-2.29zM405.14 161.84h2.29v2.29h-2.29zM476.61 169.78h2.29v2.29h-2.29zM367.43 171.77h2.29v2.29h-2.29zM478.59 173.75h2.29v2.29h-2.29zM375.37 175.74h2.29v2.29h-2.29zM375.37 177.72h2.29v2.29h-2.29zM482.56 177.72h2.29v2.29h-2.29zM373.38 179.71h2.29v2.29h-2.29zM292.00 203.53h2.29v2.29h-2.29z"/><path fill="#f0ba36" d="M478.59 18.93h2.29v2.29h-2.29zM367.43 20.91h2.29v2.29h-2.29zM301.93 32.82h2.29v2.29h-2.29zM301.93 34.80h4.27v2.29h-4.27zM460.73 36.79h2.29v2.29h-2.29zM456.75 40.76h2.29v2.29h-2.29zM440.88 42.75h2.29v2.29h-2.29zM355.52 46.72h2.29v2.29h-2.29zM355.52 48.70h2.29v2.29h-2.29zM363.46 48.70h2.29v2.29h-2.29zM466.68 48.70h2.29v2.29h-2.29zM357.50 50.69h2.29v2.29h-2.29zM359.49 52.67h2.29v2.29h-2.29zM432.94 56.64h2.29v2.29h-2.29zM470.65 58.62h2.29v2.29h-2.29zM472.63 60.61h2.29v2.29h-2.29zM476.61 60.61h2.29v2.29h-2.29zM436.90 66.56h2.29v2.29h-2.29zM319.79 114.20h2.29v2.29h-2.29zM361.48 114.20h2.29v2.29h-2.29zM309.87 120.16h2.29v2.29h-2.29zM313.83 120.16h2.29v2.29h-2.29zM325.75 120.16h2.29v2.29h-2.29zM307.88 122.15h2.29v2.29h-2.29zM311.85 122.15h2.29v2.29h-2.29zM327.73 124.13h2.29v2.29h-2.29zM307.88 126.12h2.29v2.29h-2.29zM329.72 126.12h2.29v2.29h-2.29zM299.94 128.10h2.29v2.29h-2.29zM331.70 128.10h2.29v2.29h-2.29zM403.16 128.10h2.29v2.29h-2.29zM333.69 130.09h2.29v2.29h-2.29zM403.16 130.09h2.29v2.29h-2.29zM293.99 132.07h2.29v2.29h-2.29zM292.00 134.06h2.29v2.29h-2.29zM337.65 134.06h2.29v2.29h-2.29zM339.64 140.01h2.29v2.29h-2.29zM331.70 142.00h2.29v2.29h-2.29zM403.16 142.00h2.29v2.29h-2.29zM331.70 145.97h2.29v2.29h-2.29zM345.60 145.97h4.27v2.29h-4.27zM369.42 145.97h2.29v2.29h-2.29zM331.70 147.95h2.29v2.29h-2.29zM339.64 147.95h4.27v2.29h-4.27zM345.60 147.95h4.27v2.29h-4.27zM343.61 151.92h2.29v2.29h-2.29zM405.14 151.92h2.29v2.29h-2.29zM419.04 153.91h2.29v2.29h-2.29zM363.46 155.89h4.27v2.29h-4.27zM405.14 155.89h2.29v2.29h-2.29zM415.07 159.86h2.29v2.29h-2.29zM407.13 163.83h2.29v2.29h-2.29zM413.09 163.83h2.29v2.29h-2.29zM486.53 165.81h4.27v2.29h-4.27zM373.38 169.78h2.29v2.29h-2.29zM373.38 171.77h2.29v2.29h-2.29zM478.59 171.77h2.29v2.29h-2.29zM373.38 173.75h2.29v2.29h-2.29zM480.58 173.75h2.29v2.29h-2.29zM480.58 175.74h2.29v2.29h-2.29zM484.55 177.72h2.29v2.29h-2.29zM486.53 179.71h2.29v2.29h-2.29zM293.99 203.53h2.29v2.29h-2.29zM297.95 203.53h2.29v2.29h-2.29z"/><path fill="#f8ba3d" d="M371.40 9.00h2.29v2.29h-2.29zM363.46 12.97h2.29v2.29h-2.29zM363.46 16.94h2.29v2.29h-2.29zM371.40 18.93h2.29v2.29h-2.29zM359.49 44.73h6.25v2.29h-6.25zM456.75 44.73h2.29v2.29h-2.29zM357.50 46.72h2.29v2.29h-2.29zM363.46 46.72h2.29v2.29h-2.29zM458.74 46.72h2.29v2.29h-2.29zM470.65 52.67h2.29v2.29h-2.29zM470.65 54.66h2.29v2.29h-2.29zM470.65 56.64h2.29v2.29h-2.29zM434.92 58.62h2.29v2.29h-2.29zM434.92 60.61h4.27v2.29h-4.27zM440.88 60.61h2.29v2.29h-2.29zM436.90 62.60h2.29v2.29h-2.29zM436.90 64.58h2.29v2.29h-2.29zM434.92 66.56h2.29v2.29h-2.29zM321.77 114.20h2.29v2.29h-2.29zM315.82 118.18h2.29v2.29h-2.29zM325.75 118.18h2.29v2.29h-2.29zM311.85 120.16h2.29v2.29h-2.29zM327.73 120.16h2.29v2.29h-2.29zM327.73 122.15h2.29v2.29h-2.29zM307.88 124.13h2.29v2.29h-2.29zM305.89 134.06h2.29v2.29h-2.29zM415.07 134.06h2.29v2.29h-2.29zM293.99 136.04h2.29v2.29h-2.29zM403.16 136.04h2.29v2.29h-2.29zM341.62 140.01h2.29v2.29h-2.29zM337.65 142.00h4.27v2.29h-4.27zM337.65 143.98h4.27v2.29h-4.27zM349.56 143.98h2.29v2.29h-2.29zM357.50 143.98h2.29v2.29h-2.29zM367.43 143.98h2.29v2.29h-2.29zM307.88 145.97h2.29v2.29h-2.29zM339.64 145.97h6.25v2.29h-6.25zM349.56 145.97h2.29v2.29h-2.29zM337.65 147.95h2.29v2.29h-2.29zM343.61 147.95h2.29v2.29h-2.29zM349.56 147.95h4.27v2.29h-4.27zM369.42 147.95h2.29v2.29h-2.29zM403.16 147.95h2.29v2.29h-2.29zM343.61 149.94h2.29v2.29h-2.29zM347.58 153.91h2.29v2.29h-2.29zM369.42 153.91h2.29v2.29h-2.29zM478.59 165.81h2.29v2.29h-2.29zM369.42 167.80h2.29v2.29h-2.29zM482.56 169.78h8.24v2.29h-8.24zM480.58 171.77h10.23v2.29h-10.23zM482.56 173.75h8.24v2.29h-8.24zM369.42 175.74h2.29v2.29h-2.29zM373.38 175.74h2.29v2.29h-2.29zM482.56 175.74h4.27v2.29h-4.27zM371.40 177.72h2.29v2.29h-2.29zM486.53 177.72h2.29v2.29h-2.29zM488.51 179.71h2.29v2.29h-2.29zM292.00 205.52h2.29v2.29h-2.29z"/><path fill="#febe3c" d="M371.40 10.98h2.29v2.29h-2.29zM474.62 18.93h4.27v2.29h-4.27zM472.63 20.91h2.29v2.29h-2.29zM472.63 24.88h2.29v2.29h-2.29zM464.70 34.80h2.29v2.29h-2.29zM456.75 42.75h2.29v2.29h-2.29zM359.49 46.72h4.27v2.29h-4.27zM436.90 46.72h2.29v2.29h-2.29zM357.50 48.70h2.29v2.29h-2.29zM434.92 48.70h2.29v2.29h-2.29zM359.49 50.69h4.27v2.29h-4.27zM432.94 50.69h2.29v2.29h-2.29zM476.61 50.69h2.29v2.29h-2.29zM476.61 52.67h2.29v2.29h-2.29zM472.63 54.66h2.29v2.29h-2.29zM476.61 54.66h2.29v2.29h-2.29zM436.90 58.62h2.29v2.29h-2.29zM438.89 60.61h2.29v2.29h-2.29zM474.62 60.61h2.29v2.29h-2.29zM434.92 62.60h2.29v2.29h-2.29zM371.40 114.20h2.29v2.29h-2.29zM317.81 116.19h2.29v2.29h-2.29zM323.76 116.19h2.29v2.29h-2.29zM359.49 116.19h2.29v2.29h-2.29zM373.38 116.19h2.29v2.29h-2.29zM373.38 120.16h2.29v2.29h-2.29zM309.87 122.15h2.29v2.29h-2.29zM329.72 124.13h2.29v2.29h-2.29zM361.48 126.12h2.29v2.29h-2.29zM331.70 130.09h2.29v2.29h-2.29zM305.89 132.07h2.29v2.29h-2.29zM331.70 132.07h2.29v2.29h-2.29zM403.16 132.07h4.27v2.29h-4.27zM293.99 134.06h2.29v2.29h-2.29zM403.16 134.06h2.29v2.29h-2.29zM411.10 134.06h4.27v2.29h-4.27zM305.89 136.04h2.29v2.29h-2.29zM295.97 138.03h2.29v2.29h-2.29zM331.70 140.01h2.29v2.29h-2.29zM337.65 140.01h2.29v2.29h-2.29zM297.95 142.00h2.29v2.29h-2.29zM307.88 143.98h2.29v2.29h-2.29zM333.69 143.98h4.27v2.29h-4.27zM341.62 143.98h4.27v2.29h-4.27zM347.58 143.98h2.29v2.29h-2.29zM359.49 143.98h8.24v2.29h-8.24zM403.16 143.98h2.29v2.29h-2.29zM337.65 145.97h2.29v2.29h-2.29zM351.55 145.97h2.29v2.29h-2.29zM357.50 145.97h4.27v2.29h-4.27zM353.54 147.95h2.29v2.29h-2.29zM347.58 149.94h8.24v2.29h-8.24zM369.42 149.94h2.29v2.29h-2.29zM349.56 153.91h6.25v2.29h-6.25zM484.55 165.81h2.29v2.29h-2.29zM371.40 167.80h2.29v2.29h-2.29zM484.55 167.80h6.25v2.29h-6.25zM478.59 169.78h4.27v2.29h-4.27zM371.40 175.74h2.29v2.29h-2.29zM486.53 175.74h4.27v2.29h-4.27zM373.38 177.72h2.29v2.29h-2.29zM488.51 177.72h2.29v2.29h-2.29zM295.97 203.53h2.29v2.29h-2.29zM293.99 205.52h2.29v2.29h-2.29zM297.95 205.52h2.29v2.29h-2.29z"/><path fill="#fec338" d="M365.44 9.00h2.29v2.29h-2.29zM363.46 14.96h2.29v2.29h-2.29zM365.44 18.93h2.29v2.29h-2.29zM472.63 22.90h2.29v2.29h-2.29zM438.89 44.73h2.29v2.29h-2.29zM458.74 44.73h2.29v2.29h-2.29zM460.73 46.72h2.29v2.29h-2.29zM478.59 46.72h2.29v2.29h-2.29zM359.49 48.70h4.27v2.29h-4.27zM468.67 48.70h2.29v2.29h-2.29zM470.65 50.69h2.29v2.29h-2.29zM432.94 54.66h2.29v2.29h-2.29zM472.63 56.64h2.29v2.29h-2.29zM476.61 56.64h2.29v2.29h-2.29zM472.63 58.62h2.29v2.29h-2.29zM476.61 58.62h2.29v2.29h-2.29zM434.92 64.58h2.29v2.29h-2.29zM317.81 118.18h2.29v2.29h-2.29zM323.76 118.18h2.29v2.29h-2.29zM373.38 118.18h2.29v2.29h-2.29zM329.72 120.16h2.29v2.29h-2.29zM329.72 122.15h2.29v2.29h-2.29zM359.49 122.15h2.29v2.29h-2.29zM371.40 124.13h2.29v2.29h-2.29zM303.91 126.12h4.27v2.29h-4.27zM363.46 126.12h2.29v2.29h-2.29zM333.69 132.07h2.29v2.29h-2.29zM331.70 134.06h2.29v2.29h-2.29zM409.12 134.06h2.29v2.29h-2.29zM331.70 136.04h2.29v2.29h-2.29zM331.70 138.03h2.29v2.29h-2.29zM307.88 140.01h2.29v2.29h-2.29zM343.61 140.01h2.29v2.29h-2.29zM347.58 140.01h2.29v2.29h-2.29zM307.88 142.00h2.29v2.29h-2.29zM333.69 142.00h4.27v2.29h-4.27zM341.62 142.00h2.29v2.29h-2.29zM345.60 143.98h2.29v2.29h-2.29zM299.94 145.97h2.29v2.29h-2.29zM333.69 145.97h4.27v2.29h-4.27zM353.54 145.97h4.27v2.29h-4.27zM361.48 145.97h4.27v2.29h-4.27zM367.43 145.97h2.29v2.29h-2.29zM403.16 145.97h2.29v2.29h-2.29zM301.93 147.95h2.29v2.29h-2.29zM305.89 147.95h2.29v2.29h-2.29zM333.69 147.95h4.27v2.29h-4.27zM355.52 147.95h2.29v2.29h-2.29zM345.60 149.94h2.29v2.29h-2.29zM417.06 155.89h2.29v2.29h-2.29zM480.58 165.81h4.27v2.29h-4.27zM478.59 167.80h2.29v2.29h-2.29zM482.56 167.80h2.29v2.29h-2.29zM371.40 169.78h2.29v2.29h-2.29zM371.40 173.75h2.29v2.29h-2.29z"/><path fill="#fec934" d="M367.43 18.93h4.27v2.29h-4.27zM472.63 26.87h2.29v2.29h-2.29zM470.65 30.84h2.29v2.29h-2.29zM468.67 32.82h2.29v2.29h-2.29zM460.73 38.78h2.29v2.29h-2.29zM458.74 40.76h2.29v2.29h-2.29zM440.88 44.73h2.29v2.29h-2.29zM462.71 46.72h2.29v2.29h-2.29zM436.90 48.70h2.29v2.29h-2.29zM476.61 48.70h2.29v2.29h-2.29zM432.94 52.67h2.29v2.29h-2.29zM472.63 52.67h2.29v2.29h-2.29zM474.62 54.66h2.29v2.29h-2.29zM434.92 56.64h2.29v2.29h-2.29zM363.46 114.20h2.29v2.29h-2.29zM321.77 118.18h2.29v2.29h-2.29zM361.48 124.13h2.29v2.29h-2.29zM305.89 128.10h2.29v2.29h-2.29zM305.89 130.09h2.29v2.29h-2.29zM407.13 134.06h2.29v2.29h-2.29zM295.97 136.04h2.29v2.29h-2.29zM337.65 136.04h2.29v2.29h-2.29zM337.65 138.03h2.29v2.29h-2.29zM297.95 140.01h2.29v2.29h-2.29zM365.44 145.97h2.29v2.29h-2.29zM357.50 147.95h2.29v2.29h-2.29zM355.52 149.94h2.29v2.29h-2.29zM405.14 149.94h2.29v2.29h-2.29zM345.60 151.92h2.29v2.29h-2.29zM349.56 151.92h4.27v2.29h-4.27zM369.42 151.92h2.29v2.29h-2.29zM355.52 153.91h2.29v2.29h-2.29zM415.07 157.88h2.29v2.29h-2.29zM480.58 167.80h2.29v2.29h-2.29zM369.42 169.78h2.29v2.29h-2.29zM371.40 171.77h2.29v2.29h-2.29zM369.42 173.75h2.29v2.29h-2.29zM295.97 205.52h2.29v2.29h-2.29z"/><path fill="#fccf30" d="M367.43 9.00h4.27v2.29h-4.27zM365.44 10.98h2.29v2.29h-2.29zM371.40 12.97h2.29v2.29h-2.29zM371.40 16.94h2.29v2.29h-2.29zM466.68 34.80h2.29v2.29h-2.29zM480.58 36.79h2.29v2.29h-2.29zM480.58 38.78h2.29v2.29h-2.29zM460.73 40.76h2.29v2.29h-2.29zM458.74 42.75h2.29v2.29h-2.29zM460.73 44.73h2.29v2.29h-2.29zM464.70 46.72h2.29v2.29h-2.29zM434.92 50.69h2.29v2.29h-2.29zM440.88 52.67h2.29v2.29h-2.29zM474.62 52.67h2.29v2.29h-2.29zM440.88 54.66h2.29v2.29h-2.29zM436.90 56.64h2.29v2.29h-2.29zM474.62 56.64h2.29v2.29h-2.29zM438.89 58.62h2.29v2.29h-2.29zM474.62 58.62h2.29v2.29h-2.29zM319.79 116.19h4.27v2.29h-4.27zM319.79 118.18h2.29v2.29h-2.29zM295.97 132.07h2.29v2.29h-2.29zM305.89 138.03h2.29v2.29h-2.29zM335.67 140.01h2.29v2.29h-2.29zM345.60 140.01h2.29v2.29h-2.29zM343.61 142.00h2.29v2.29h-2.29zM347.58 142.00h2.29v2.29h-2.29zM299.94 143.98h2.29v2.29h-2.29zM305.89 143.98h2.29v2.29h-2.29zM305.89 145.97h2.29v2.29h-2.29zM303.91 147.95h2.29v2.29h-2.29zM359.49 147.95h2.29v2.29h-2.29zM367.43 147.95h2.29v2.29h-2.29zM347.58 151.92h2.29v2.29h-2.29zM353.54 151.92h2.29v2.29h-2.29zM407.13 153.91h2.29v2.29h-2.29zM405.14 157.88h2.29v2.29h-2.29zM405.14 159.86h2.29v2.29h-2.29zM413.09 159.86h2.29v2.29h-2.29zM413.09 161.84h2.29v2.29h-2.29zM409.12 163.83h4.27v2.29h-4.27zM369.42 171.77h2.29v2.29h-2.29z"/><path fill="#fad62d" d="M369.42 10.98h2.29v2.29h-2.29zM371.40 14.96h2.29v2.29h-2.29zM474.62 20.91h4.27v2.29h-4.27zM480.58 20.91h2.29v2.29h-2.29zM474.62 24.88h4.27v2.29h-4.27zM480.58 24.88h2.29v2.29h-2.29zM480.58 26.87h2.29v2.29h-2.29zM472.63 28.85h2.29v2.29h-2.29zM470.65 32.82h2.29v2.29h-2.29zM468.67 34.80h2.29v2.29h-2.29zM480.58 34.80h2.29v2.29h-2.29zM462.71 36.79h2.29v2.29h-2.29zM476.61 36.79h4.27v2.29h-4.27zM476.61 38.78h4.27v2.29h-4.27zM480.58 40.76h2.29v2.29h-2.29zM460.73 42.75h2.29v2.29h-2.29zM480.58 44.73h2.29v2.29h-2.29zM438.89 46.72h4.27v2.29h-4.27zM476.61 46.72h2.29v2.29h-2.29zM440.88 48.70h2.29v2.29h-2.29zM470.65 48.70h2.29v2.29h-2.29zM436.90 50.69h2.29v2.29h-2.29zM440.88 50.69h2.29v2.29h-2.29zM472.63 50.69h2.29v2.29h-2.29zM434.92 54.66h4.27v2.29h-4.27zM438.89 56.64h4.27v2.29h-4.27zM440.88 58.62h2.29v2.29h-2.29zM369.42 114.20h2.29v2.29h-2.29zM359.49 118.18h2.29v2.29h-2.29zM359.49 120.16h2.29v2.29h-2.29zM369.42 124.13h2.29v2.29h-2.29zM301.93 128.10h2.29v2.29h-2.29zM297.95 130.09h2.29v2.29h-2.29zM295.97 134.06h2.29v2.29h-2.29zM333.69 134.06h4.27v2.29h-4.27zM405.14 134.06h2.29v2.29h-2.29zM417.06 136.04h2.29v2.29h-2.29zM405.14 138.03h2.29v2.29h-2.29zM303.91 140.01h2.29v2.29h-2.29zM333.69 140.01h2.29v2.29h-2.29zM405.14 140.01h2.29v2.29h-2.29zM299.94 142.00h8.24v2.29h-8.24zM301.93 143.98h4.27v2.29h-4.27zM301.93 145.97h4.27v2.29h-4.27zM407.13 155.89h2.29v2.29h-2.29z"/><path fill="#f7dc2a" d="M367.43 10.98h2.29v2.29h-2.29zM365.44 12.97h2.29v2.29h-2.29zM365.44 16.94h2.29v2.29h-2.29zM478.59 20.91h2.29v2.29h-2.29zM474.62 22.90h4.27v2.29h-4.27zM478.59 24.88h2.29v2.29h-2.29zM474.62 26.87h2.29v2.29h-2.29zM480.58 28.85h2.29v2.29h-2.29zM472.63 30.84h2.29v2.29h-2.29zM472.63 32.82h2.29v2.29h-2.29zM480.58 32.82h2.29v2.29h-2.29zM470.65 34.80h8.24v2.29h-8.24zM474.62 36.79h2.29v2.29h-2.29zM462.71 38.78h2.29v2.29h-2.29zM462.71 40.76h2.29v2.29h-2.29zM476.61 40.76h4.27v2.29h-4.27zM476.61 42.75h2.29v2.29h-2.29zM480.58 42.75h2.29v2.29h-2.29zM462.71 44.73h2.29v2.29h-2.29zM476.61 44.73h4.27v2.29h-4.27zM466.68 46.72h2.29v2.29h-2.29zM438.89 48.70h2.29v2.29h-2.29zM438.89 50.69h2.29v2.29h-2.29zM474.62 50.69h2.29v2.29h-2.29zM434.92 52.67h6.25v2.29h-6.25zM438.89 54.66h2.29v2.29h-2.29zM365.44 114.20h2.29v2.29h-2.29zM361.48 116.19h2.29v2.29h-2.29zM361.48 122.15h2.29v2.29h-2.29zM363.46 124.13h2.29v2.29h-2.29zM367.43 124.13h2.29v2.29h-2.29zM405.14 136.04h2.29v2.29h-2.29zM297.95 138.03h2.29v2.29h-2.29zM303.91 138.03h2.29v2.29h-2.29zM333.69 138.03h2.29v2.29h-2.29zM299.94 140.01h4.27v2.29h-4.27zM305.89 140.01h2.29v2.29h-2.29zM417.06 140.01h2.29v2.29h-2.29zM345.60 142.00h2.29v2.29h-2.29zM405.14 142.00h2.29v2.29h-2.29zM417.06 142.00h2.29v2.29h-2.29zM417.06 143.98h2.29v2.29h-2.29zM417.06 145.97h2.29v2.29h-2.29zM361.48 147.95h6.25v2.29h-6.25zM405.14 147.95h2.29v2.29h-2.29zM417.06 147.95h2.29v2.29h-2.29zM357.50 149.94h2.29v2.29h-2.29zM355.52 151.92h2.29v2.29h-2.29zM407.13 151.92h2.29v2.29h-2.29zM357.50 153.91h2.29v2.29h-2.29zM413.09 157.88h2.29v2.29h-2.29z"/><path fill="#f5e327" d="M369.42 16.94h2.29v2.29h-2.29zM478.59 22.90h4.27v2.29h-4.27zM476.61 26.87h4.27v2.29h-4.27zM480.58 30.84h2.29v2.29h-2.29zM474.62 32.82h2.29v2.29h-2.29zM478.59 34.80h2.29v2.29h-2.29zM464.70 36.79h10.23v2.29h-10.23zM474.62 38.78h2.29v2.29h-2.29zM462.71 42.75h2.29v2.29h-2.29zM478.59 42.75h2.29v2.29h-2.29zM474.62 46.72h2.29v2.29h-2.29zM472.63 48.70h4.27v2.29h-4.27zM367.43 114.20h2.29v2.29h-2.29zM365.44 124.13h2.29v2.29h-2.29zM303.91 128.10h2.29v2.29h-2.29zM333.69 136.04h2.29v2.29h-2.29zM335.67 138.03h2.29v2.29h-2.29zM417.06 138.03h2.29v2.29h-2.29zM405.14 143.98h2.29v2.29h-2.29zM405.14 145.97h2.29v2.29h-2.29zM367.43 149.94h2.29v2.29h-2.29zM417.06 149.94h2.29v2.29h-2.29zM417.06 151.92h2.29v2.29h-2.29zM367.43 153.91h2.29v2.29h-2.29zM417.06 153.91h2.29v2.29h-2.29zM415.07 155.89h2.29v2.29h-2.29zM407.13 161.84h2.29v2.29h-2.29z"/><path fill="#f5e924" d="M367.43 12.97h4.27v2.29h-4.27zM365.44 14.96h2.29v2.29h-2.29zM367.43 16.94h2.29v2.29h-2.29zM474.62 28.85h2.29v2.29h-2.29zM474.62 30.84h2.29v2.29h-2.29zM476.61 32.82h2.29v2.29h-2.29zM464.70 38.78h2.29v2.29h-2.29zM464.70 40.76h2.29v2.29h-2.29zM474.62 40.76h2.29v2.29h-2.29zM474.62 42.75h2.29v2.29h-2.29zM474.62 44.73h2.29v2.29h-2.29zM468.67 46.72h2.29v2.29h-2.29zM363.46 122.15h2.29v2.29h-2.29zM371.40 122.15h2.29v2.29h-2.29zM297.95 136.04h2.29v2.29h-2.29zM303.91 136.04h2.29v2.29h-2.29zM335.67 136.04h2.29v2.29h-2.29zM407.13 136.04h2.29v2.29h-2.29zM299.94 138.03h4.27v2.29h-4.27zM359.49 153.91h2.29v2.29h-2.29zM409.12 155.89h2.29v2.29h-2.29zM407.13 157.88h2.29v2.29h-2.29zM411.10 157.88h2.29v2.29h-2.29zM411.10 159.86h2.29v2.29h-2.29zM411.10 161.84h2.29v2.29h-2.29z"/><path fill="#f6ef20" d="M369.42 14.96h2.29v2.29h-2.29zM476.61 28.85h4.27v2.29h-4.27zM478.59 32.82h2.29v2.29h-2.29zM466.68 38.78h2.29v2.29h-2.29zM472.63 38.78h2.29v2.29h-2.29zM464.70 42.75h2.29v2.29h-2.29zM464.70 44.73h2.29v2.29h-2.29zM470.65 46.72h4.27v2.29h-4.27zM363.46 116.19h2.29v2.29h-2.29zM371.40 116.19h2.29v2.29h-2.29zM361.48 118.18h2.29v2.29h-2.29zM361.48 120.16h2.29v2.29h-2.29zM371.40 120.16h2.29v2.29h-2.29zM303.91 130.09h2.29v2.29h-2.29zM303.91 132.07h2.29v2.29h-2.29zM303.91 134.06h2.29v2.29h-2.29zM409.12 136.04h2.29v2.29h-2.29zM415.07 136.04h2.29v2.29h-2.29zM407.13 138.03h2.29v2.29h-2.29zM407.13 140.01h2.29v2.29h-2.29zM415.07 142.00h2.29v2.29h-2.29zM359.49 149.94h2.29v2.29h-2.29zM407.13 149.94h2.29v2.29h-2.29zM357.50 151.92h2.29v2.29h-2.29zM367.43 151.92h2.29v2.29h-2.29zM409.12 153.91h2.29v2.29h-2.29zM411.10 155.89h4.27v2.29h-4.27zM409.12 157.88h2.29v2.29h-2.29zM407.13 159.86h2.29v2.29h-2.29z"/><path fill="#f7f51b" d="M367.43 14.96h2.29v2.29h-2.29zM476.61 30.84h4.27v2.29h-4.27zM468.67 38.78h4.27v2.29h-4.27zM472.63 40.76h2.29v2.29h-2.29zM472.63 44.73h2.29v2.29h-2.29zM371.40 118.18h2.29v2.29h-2.29zM363.46 120.16h6.25v2.29h-6.25zM365.44 122.15h6.25v2.29h-6.25zM299.94 130.09h2.29v2.29h-2.29zM297.95 132.07h2.29v2.29h-2.29zM297.95 134.06h2.29v2.29h-2.29zM411.10 136.04h4.27v2.29h-4.27zM413.09 140.01h4.27v2.29h-4.27zM407.13 142.00h2.29v2.29h-2.29zM413.09 142.00h2.29v2.29h-2.29zM407.13 143.98h2.29v2.29h-2.29zM415.07 143.98h2.29v2.29h-2.29zM407.13 145.97h2.29v2.29h-2.29zM415.07 145.97h2.29v2.29h-2.29zM407.13 147.95h2.29v2.29h-2.29zM415.07 147.95h2.29v2.29h-2.29zM365.44 149.94h2.29v2.29h-2.29zM409.12 151.92h2.29v2.29h-2.29zM361.48 153.91h2.29v2.29h-2.29zM411.10 153.91h2.29v2.29h-2.29zM415.07 153.91h2.29v2.29h-2.29zM409.12 159.86h2.29v2.29h-2.29zM409.12 161.84h2.29v2.29h-2.29z"/><path fill="#f9fb15" d="M466.68 40.76h6.25v2.29h-6.25zM466.68 42.75h8.24v2.29h-8.24zM466.68 44.73h6.25v2.29h-6.25zM365.44 116.19h6.25v2.29h-6.25zM363.46 118.18h8.24v2.29h-8.24zM369.42 120.16h2.29v2.29h-2.29zM301.93 130.09h2.29v2.29h-2.29zM299.94 132.07h4.27v2.29h-4.27zM299.94 134.06h4.27v2.29h-4.27zM299.94 136.04h4.27v2.29h-4.27zM409.12 138.03h8.24v2.29h-8.24zM409.12 140.01h4.27v2.29h-4.27zM409.12 142.00h4.27v2.29h-4.27zM409.12 143.98h6.25v2.29h-6.25zM409.12 145.97h6.25v2.29h-6.25zM409.12 147.95h6.25v2.29h-6.25zM361.48 149.94h4.27v2.29h-4.27zM409.12 149.94h8.24v2.29h-8.24zM359.49 151.92h8.24v2.29h-8.24zM411.10 151.92h6.25v2.29h-6.25zM363.46 153.91h4.27v2.29h-4.27zM413.09 153.91h2.29v2.29h-2.29z"/></g>
<pattern id="gp" x="292.000" y="9.000" width="1.985" height="1.985" patternUnits="userSpaceOnUse"><path d="M0 0.25H1.985M0.25 0V1.985" stroke="#000" stroke-opacity="0.16" stroke-width="0.5" fill="none"/></pattern>
<rect x="292.0" y="9.0" width="198.0" height="198.7" fill="url(#gp)"/>
<text x="292.0" y="221.6" text-anchor="middle" class="t5">0</text>
<text x="287.8" y="211.9" text-anchor="end" class="t5">0</text>
<text x="331.6" y="221.6" text-anchor="middle" class="t5">2</text>
<text x="287.8" y="172.2" text-anchor="end" class="t5">2</text>
<text x="371.2" y="221.6" text-anchor="middle" class="t5">4</text>
<text x="287.8" y="132.4" text-anchor="end" class="t5">4</text>
<text x="410.8" y="221.6" text-anchor="middle" class="t5">6</text>
<text x="287.8" y="92.7" text-anchor="end" class="t5">6</text>
<text x="450.4" y="221.6" text-anchor="middle" class="t5">8</text>
<text x="287.8" y="52.9" text-anchor="end" class="t5">8</text>
<text x="490.0" y="221.6" text-anchor="middle" class="t5">10</text>
<text x="287.8" y="13.2" text-anchor="end" class="t5">10</text>
<path d="M291.7 9.0V207.7H490.0" stroke="#333" stroke-width="1.2" fill="none"/>
<path d="M292.0 207.7v-2M292.0 207.7h2M331.6 207.7v-2M292.0 168.0h2M371.2 207.7v-2M292.0 128.2h2M410.8 207.7v-2M292.0 88.5h2M450.4 207.7v-2M292.0 48.7h2M490.0 207.7v-2M292.0 9.0h2" stroke="#333" stroke-width="0.8" fill="none"/>
<text transform="translate(272,108.5) rotate(-90)" text-anchor="middle" class="t4">y (m)</text>
<text x="391" y="237.3" text-anchor="middle" class="t4">x (m)</text>
<path d="M386 3.4l1.4 1.3M397 3.4l-1.4 1.3" stroke="#666" stroke-width="0.9" fill="none"/>
<text x="401" y="272" text-anchor="middle" class="cap">(b)</text>
<linearGradient id="cb" x1="0" y1="0" x2="0" y2="1"><stop offset="0.0000" stop-color="#f9fb15"/><stop offset="0.0159" stop-color="#f7f51b"/><stop offset="0.0317" stop-color="#f6ef20"/><stop offset="0.0476" stop-color="#f5e924"/><stop offset="0.0635" stop-color="#f5e327"/><stop offset="0.0794" stop-color="#f7dc2a"/><stop offset="0.0952" stop-color="#fad62d"/><stop offset="0.1111" stop-color="#fccf30"/><stop offset="0.1270" stop-color="#fec934"/><stop offset="0.1429" stop-color="#fec338"/><stop offset="0.1587" stop-color="#febe3c"/><stop offset="0.1746" stop-color="#f8ba3d"/><stop offset="0.1905" stop-color="#f0ba36"/><stop offset="0.2063" stop-color="#e6bb2d"/><stop offset="0.2222" stop-color="#dcbd29"/><stop offset="0.2381" stop-color="#d1bf27"/><stop offset="0.2540" stop-color="#c5c22a"/><stop offset="0.2698" stop-color="#b9c431"/><stop offset="0.2857" stop-color="#abc739"/><stop offset="0.3016" stop-color="#9dc943"/><stop offset="0.3175" stop-color="#8fcb4e"/><stop offset="0.3333" stop-color="#81cc59"/><stop offset="0.3492" stop-color="#72cd64"/><stop offset="0.3651" stop-color="#64cd6f"/><stop offset="0.3810" stop-color="#57cc7a"/><stop offset="0.3968" stop-color="#4acb84"/><stop offset="0.4127" stop-color="#3fca8e"/><stop offset="0.4286" stop-color="#37c897"/><stop offset="0.4444" stop-color="#31c69f"/><stop offset="0.4603" stop-color="#2cc4a7"/><stop offset="0.4762" stop-color="#24c1ae"/><stop offset="0.4921" stop-color="#19bfb6"/><stop offset="0.5079" stop-color="#0bbdbd"/><stop offset="0.5238" stop-color="#02bac3"/><stop offset="0.5397" stop-color="#01b8ca"/><stop offset="0.5556" stop-color="#08b5d0"/><stop offset="0.5714" stop-color="#12b1d6"/><stop offset="0.5873" stop-color="#18addb"/><stop offset="0.6032" stop-color="#1ca9df"/><stop offset="0.6190" stop-color="#20a5e3"/><stop offset="0.6349" stop-color="#23a0e5"/><stop offset="0.6508" stop-color="#259be8"/><stop offset="0.6667" stop-color="#2797eb"/><stop offset="0.6825" stop-color="#2b91ef"/><stop offset="0.6984" stop-color="#2d8cf3"/><stop offset="0.7143" stop-color="#2e87f7"/><stop offset="0.7302" stop-color="#2f81fa"/><stop offset="0.7460" stop-color="#327cfc"/><stop offset="0.7619" stop-color="#3875fe"/><stop offset="0.7778" stop-color="#3e6fff"/><stop offset="0.7937" stop-color="#4269fe"/><stop offset="0.8095" stop-color="#4563fd"/><stop offset="0.8254" stop-color="#465efb"/><stop offset="0.8413" stop-color="#4758f8"/><stop offset="0.8571" stop-color="#4852f4"/><stop offset="0.8730" stop-color="#484df0"/><stop offset="0.8889" stop-color="#4747eb"/><stop offset="0.9048" stop-color="#4741e5"/><stop offset="0.9206" stop-color="#463cde"/><stop offset="0.9365" stop-color="#4537d5"/><stop offset="0.9524" stop-color="#4332cb"/><stop offset="0.9683" stop-color="#422ec0"/><stop offset="0.9841" stop-color="#402ab4"/><stop offset="1.0000" stop-color="#3e26a8"/></linearGradient>
<rect x="501.5" y="9.0" width="8.5" height="198.5" fill="url(#cb)" stroke="#444" stroke-width="0.9"/>
<text x="513.8" y="211.5" class="t3">0</text>
<text x="513.8" y="178.4" class="t3">0.5</text>
<text x="513.8" y="145.3" class="t3">1</text>
<text x="513.8" y="112.2" class="t3">1.5</text>
<text x="513.8" y="79.2" class="t3">2</text>
<text x="513.8" y="46.1" class="t3">2.5</text>
<text x="513.8" y="13.0" class="t3">3</text>
<path d="M510.0 207.5h-1.8M510.0 174.4h-1.8M510.0 141.3h-1.8M510.0 108.2h-1.8M510.0 75.2h-1.8M510.0 42.1h-1.8M510.0 9.0h-1.8" stroke="#333" stroke-width="0.7" fill="none"/>
<text transform="translate(541.5,134.7) rotate(-90)" class="t2"><tspan font-style="italic" letter-spacing="0.8">LAD</tspan><tspan font-style="italic" font-size="8.2" dy="5.2" letter-spacing="0.5">ref</tspan><tspan dy="-5.2" letter-spacing="0.2"> (m</tspan><tspan font-size="7.2" dy="-4.3">-1</tspan><tspan dy="4.3">)</tspan></text></g>
</svg>
</body></html>
